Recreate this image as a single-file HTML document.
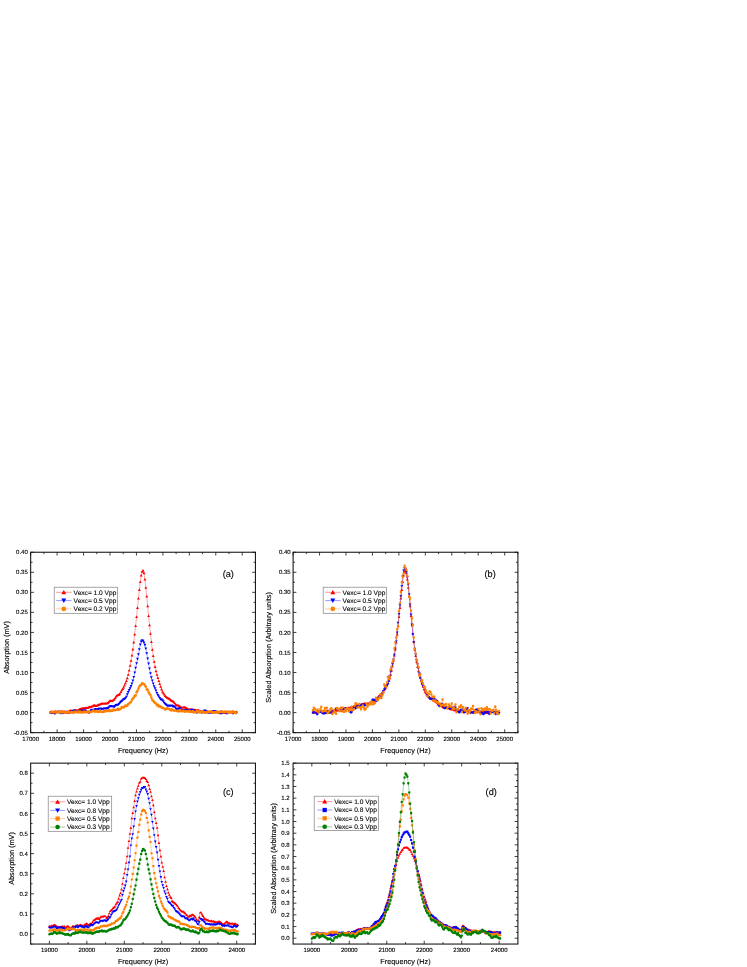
<!DOCTYPE html>
<html><head><meta charset="utf-8"><title>Absorption vs frequency</title>
<style>
html,body{margin:0;padding:0;background:#fff}
svg{display:block}
text{font-family:"Liberation Sans",sans-serif;fill:#000;text-rendering:geometricPrecision;stroke:#000;stroke-width:0.12px;paint-order:stroke fill}
svg{will-change:transform;-webkit-font-smoothing:antialiased}
.t{font-size:6px}
.a{font-size:7.3px}
.l{font-size:9.2px}
.g{font-size:6.6px}
</style></head><body>
<svg width="747" height="967" viewBox="0 0 747 967">
<rect width="747" height="967" fill="#fff"/>
<polyline points="50.49,712.23 51.41,712.54 52.34,712.6 53.26,712.34 54.19,711.66 55.11,711.27 56.04,711.62 56.96,711.77 57.89,711.39 58.82,711.22 59.74,711.48 60.67,711.69 61.59,711.42 62.52,711.34 63.44,711.81 64.37,712.23 65.3,712.57 66.22,712.6 67.15,712.28 68.07,711.73 69,711.24 69.92,710.64 70.85,710.45 71.78,710.98 72.7,711.47 73.63,710.94 74.55,710.2 75.48,710.12 76.4,710.41 77.33,710.36 78.25,710.07 79.18,709.48 80.11,708.9 81.03,708.79 81.96,708.49 82.88,708.17 83.81,708.23 84.73,708.13 85.66,707.9 86.59,707.93 87.51,707.9 88.44,707.28 89.36,706.86 90.29,706.96 91.21,706.63 92.14,706.33 93.07,705.86 93.99,705.15 94.92,705.31 95.84,705.83 96.77,705.56 97.69,705.02 98.62,704.73 99.54,704.45 100.47,704.11 101.4,703.59 102.32,703.36 103.25,703.63 104.17,703.65 105.1,703.47 106.02,703.36 106.95,703.33 107.88,702.85 108.8,701.86 109.73,700.86 110.65,700.65 111.58,700.96 112.5,700.61 113.43,699.86 114.35,699.16 115.28,697.75 116.21,696.23 117.13,695.26 118.06,694.87 118.98,694.53 119.91,693.61 120.83,691.96 121.76,690.21 122.69,688.94 123.61,687.37 124.54,685.26 125.46,683.09 126.39,680.83 127.31,678.11 128.24,674.56 129.17,670.31 130.09,665.51 131.02,660.61 131.94,655.34 132.87,649.22 133.79,642.22 134.72,634.27 135.64,625.81 136.57,616.95 137.5,607.73 138.42,598.35 139.35,589.75 140.27,581.95 141.2,575.46 142.12,571.51 143.05,570.45 143.98,573 144.9,579.38 145.83,587.58 146.75,596.42 147.68,605.97 148.6,615.87 149.53,625.18 150.46,633.68 151.38,641.87 152.31,649.5 153.23,655.94 154.16,661.61 155.08,666.75 156.01,671.06 156.93,674.7 157.86,677.75 158.79,680.79 159.71,683.83 160.64,686.63 161.56,689.25 162.49,691.63 163.41,693.18 164.34,694.4 165.27,695.78 166.19,696.76 167.12,697.68 168.04,698.2 168.97,698.63 169.89,699.06 170.82,699.99 171.75,700.88 172.67,701.04 173.6,701.6 174.52,702.95 175.45,704.16 176.37,704.92 177.3,705.28 178.22,705.38 179.15,705.92 180.08,706.6 181,707.25 181.93,707.7 182.85,707.67 183.78,707.25 184.7,707.23 185.63,707.51 186.56,708.15 187.48,708.82 188.41,709.16 189.33,709.26 190.26,709.33 191.18,709.59 192.11,710.07 193.03,710.43 193.96,710.05 194.89,709.61 195.81,710.14 196.74,710.5 197.66,710.09 198.59,710.07 199.51,710.82 200.44,711.29 201.37,711.59 202.29,711.6 203.22,711.07 204.14,710.89 205.07,711.16 205.99,711.38 206.92,711.38 207.85,711.58 208.77,711.97 209.7,712.32 210.62,712.08 211.55,711.5 212.47,711.5 213.4,711.67 214.32,711.9 215.25,712.14 216.18,712.1 217.1,711.92 218.03,712.04 218.95,712.09 219.88,711.77 220.8,711.37 221.73,711.46 222.66,712.05 223.58,712.75 224.51,712.81 225.43,712.09 226.36,711.78 227.28,711.98 228.21,711.94 229.14,711.72 230.06,711.68 230.99,711.92 231.91,712.19 232.84,712.34 233.76,712.63 234.69,712.41 235.61,712.01 236.54,711.56" fill="none" stroke="#ff0000" stroke-width="0.35"/>
<path d="M50.49 710.85L51.94 713.39L49.04 713.39ZM51.41 711.17L52.86 713.7L49.96 713.7ZM52.34 711.22L53.79 713.76L50.89 713.76ZM53.26 710.96L54.71 713.5L51.81 713.5ZM54.19 710.28L55.64 712.82L52.74 712.82ZM55.11 709.89L56.56 712.43L53.66 712.43ZM56.04 710.24L57.49 712.78L54.59 712.78ZM56.96 710.39L58.41 712.93L55.51 712.93ZM57.89 710.01L59.34 712.55L56.44 712.55ZM58.82 709.84L60.27 712.38L57.37 712.38ZM59.74 710.11L61.19 712.64L58.29 712.64ZM60.67 710.31L62.12 712.85L59.22 712.85ZM61.59 710.05L63.04 712.58L60.14 712.58ZM62.52 709.96L63.97 712.5L61.07 712.5ZM63.44 710.43L64.89 712.97L61.99 712.97ZM64.37 710.85L65.82 713.39L62.92 713.39ZM65.3 711.19L66.75 713.73L63.85 713.73ZM66.22 711.22L67.67 713.76L64.77 713.76ZM67.15 710.91L68.6 713.44L65.7 713.44ZM68.07 710.35L69.52 712.89L66.62 712.89ZM69 709.87L70.45 712.4L67.55 712.4ZM69.92 709.27L71.37 711.8L68.47 711.8ZM70.85 709.07L72.3 711.61L69.4 711.61ZM71.78 709.6L73.23 712.14L70.33 712.14ZM72.7 710.1L74.15 712.63L71.25 712.63ZM73.63 709.56L75.08 712.1L72.18 712.1ZM74.55 708.82L76 711.36L73.1 711.36ZM75.48 708.74L76.93 711.28L74.03 711.28ZM76.4 709.03L77.85 711.57L74.95 711.57ZM77.33 708.98L78.78 711.52L75.88 711.52ZM78.25 708.69L79.7 711.23L76.8 711.23ZM79.18 708.11L80.63 710.64L77.73 710.64ZM80.11 707.52L81.56 710.06L78.66 710.06ZM81.03 707.41L82.48 709.95L79.58 709.95ZM81.96 707.12L83.41 709.65L80.51 709.65ZM82.88 706.79L84.33 709.33L81.43 709.33ZM83.81 706.85L85.26 709.39L82.36 709.39ZM84.73 706.75L86.18 709.29L83.28 709.29ZM85.66 706.52L87.11 709.06L84.21 709.06ZM86.59 706.55L88.04 709.09L85.14 709.09ZM87.51 706.52L88.96 709.06L86.06 709.06ZM88.44 705.9L89.89 708.44L86.99 708.44ZM89.36 705.49L90.81 708.02L87.91 708.02ZM90.29 705.58L91.74 708.12L88.84 708.12ZM91.21 705.25L92.66 707.79L89.76 707.79ZM92.14 704.95L93.59 707.49L90.69 707.49ZM93.07 704.48L94.52 707.02L91.62 707.02ZM93.99 703.77L95.44 706.31L92.54 706.31ZM94.92 703.93L96.37 706.47L93.47 706.47ZM95.84 704.45L97.29 706.99L94.39 706.99ZM96.77 704.18L98.22 706.72L95.32 706.72ZM97.69 703.65L99.14 706.18L96.24 706.18ZM98.62 703.36L100.07 705.89L97.17 705.89ZM99.54 703.07L100.99 705.61L98.09 705.61ZM100.47 702.73L101.92 705.27L99.02 705.27ZM101.4 702.21L102.85 704.75L99.95 704.75ZM102.32 701.98L103.77 704.52L100.87 704.52ZM103.25 702.25L104.7 704.79L101.8 704.79ZM104.17 702.27L105.62 704.81L102.72 704.81ZM105.1 702.1L106.55 704.63L103.65 704.63ZM106.02 701.98L107.47 704.52L104.57 704.52ZM106.95 701.96L108.4 704.49L105.5 704.49ZM107.88 701.47L109.33 704.01L106.43 704.01ZM108.8 700.48L110.25 703.02L107.35 703.02ZM109.73 699.49L111.18 702.02L108.28 702.02ZM110.65 699.27L112.1 701.81L109.2 701.81ZM111.58 699.58L113.03 702.12L110.13 702.12ZM112.5 699.23L113.95 701.77L111.05 701.77ZM113.43 698.49L114.88 701.02L111.98 701.02ZM114.35 697.78L115.8 700.32L112.9 700.32ZM115.28 696.38L116.73 698.91L113.83 698.91ZM116.21 694.85L117.66 697.39L114.76 697.39ZM117.13 693.88L118.58 696.42L115.68 696.42ZM118.06 693.49L119.51 696.03L116.61 696.03ZM118.98 693.16L120.43 695.69L117.53 695.69ZM119.91 692.23L121.36 694.77L118.46 694.77ZM120.83 690.58L122.28 693.12L119.38 693.12ZM121.76 688.83L123.21 691.37L120.31 691.37ZM122.69 687.56L124.14 690.1L121.24 690.1ZM123.61 685.99L125.06 688.53L122.16 688.53ZM124.54 683.88L125.99 686.42L123.09 686.42ZM125.46 681.71L126.91 684.25L124.01 684.25ZM126.39 679.46L127.84 681.99L124.94 681.99ZM127.31 676.74L128.76 679.27L125.86 679.27ZM128.24 673.19L129.69 675.72L126.79 675.72ZM129.17 668.93L130.62 671.47L127.72 671.47ZM130.09 664.13L131.54 666.67L128.64 666.67ZM131.02 659.24L132.47 661.77L129.57 661.77ZM131.94 653.97L133.39 656.5L130.49 656.5ZM132.87 647.84L134.32 650.38L131.42 650.38ZM133.79 640.84L135.24 643.38L132.34 643.38ZM134.72 632.89L136.17 635.43L133.27 635.43ZM135.64 624.44L137.09 626.97L134.19 626.97ZM136.57 615.57L138.02 618.11L135.12 618.11ZM137.5 606.35L138.95 608.89L136.05 608.89ZM138.42 596.97L139.87 599.51L136.97 599.51ZM139.35 588.37L140.8 590.91L137.9 590.91ZM140.27 580.57L141.72 583.11L138.82 583.11ZM141.2 574.09L142.65 576.62L139.75 576.62ZM142.12 570.14L143.57 572.67L140.67 572.67ZM143.05 569.08L144.5 571.61L141.6 571.61ZM143.98 571.62L145.43 574.16L142.53 574.16ZM144.9 578L146.35 580.54L143.45 580.54ZM145.83 586.21L147.28 588.74L144.38 588.74ZM146.75 595.04L148.2 597.58L145.3 597.58ZM147.68 604.59L149.13 607.13L146.23 607.13ZM148.6 614.49L150.05 617.03L147.15 617.03ZM149.53 623.8L150.98 626.34L148.08 626.34ZM150.46 632.31L151.91 634.84L149.01 634.84ZM151.38 640.5L152.83 643.03L149.93 643.03ZM152.31 648.13L153.76 650.66L150.86 650.66ZM153.23 654.57L154.68 657.1L151.78 657.1ZM154.16 660.24L155.61 662.77L152.71 662.77ZM155.08 665.37L156.53 667.91L153.63 667.91ZM156.01 669.68L157.46 672.22L154.56 672.22ZM156.93 673.33L158.38 675.86L155.48 675.86ZM157.86 676.37L159.31 678.91L156.41 678.91ZM158.79 679.42L160.24 681.95L157.34 681.95ZM159.71 682.45L161.16 684.99L158.26 684.99ZM160.64 685.26L162.09 687.79L159.19 687.79ZM161.56 687.87L163.01 690.41L160.11 690.41ZM162.49 690.26L163.94 692.79L161.04 692.79ZM163.41 691.8L164.86 694.34L161.96 694.34ZM164.34 693.03L165.79 695.56L162.89 695.56ZM165.27 694.4L166.72 696.94L163.82 696.94ZM166.19 695.39L167.64 697.92L164.74 697.92ZM167.12 696.3L168.57 698.84L165.67 698.84ZM168.04 696.83L169.49 699.36L166.59 699.36ZM168.97 697.25L170.42 699.79L167.52 699.79ZM169.89 697.68L171.34 700.22L168.44 700.22ZM170.82 698.61L172.27 701.15L169.37 701.15ZM171.75 699.5L173.2 702.04L170.3 702.04ZM172.67 699.66L174.12 702.2L171.22 702.2ZM173.6 700.23L175.05 702.76L172.15 702.76ZM174.52 701.57L175.97 704.11L173.07 704.11ZM175.45 702.78L176.9 705.32L174 705.32ZM176.37 703.55L177.82 706.08L174.92 706.08ZM177.3 703.9L178.75 706.44L175.85 706.44ZM178.22 704.01L179.67 706.54L176.77 706.54ZM179.15 704.54L180.6 707.08L177.7 707.08ZM180.08 705.22L181.53 707.76L178.63 707.76ZM181 705.88L182.45 708.41L179.55 708.41ZM181.93 706.32L183.38 708.86L180.48 708.86ZM182.85 706.29L184.3 708.83L181.4 708.83ZM183.78 705.87L185.23 708.41L182.33 708.41ZM184.7 705.85L186.15 708.39L183.25 708.39ZM185.63 706.13L187.08 708.67L184.18 708.67ZM186.56 706.77L188.01 709.31L185.11 709.31ZM187.48 707.45L188.93 709.98L186.03 709.98ZM188.41 707.78L189.86 710.32L186.96 710.32ZM189.33 707.89L190.78 710.42L187.88 710.42ZM190.26 707.95L191.71 710.49L188.81 710.49ZM191.18 708.21L192.63 710.75L189.73 710.75ZM192.11 708.69L193.56 711.23L190.66 711.23ZM193.03 709.05L194.48 711.59L191.58 711.59ZM193.96 708.67L195.41 711.21L192.51 711.21ZM194.89 708.24L196.34 710.77L193.44 710.77ZM195.81 708.76L197.26 711.3L194.36 711.3ZM196.74 709.12L198.19 711.66L195.29 711.66ZM197.66 708.71L199.11 711.25L196.21 711.25ZM198.59 708.69L200.04 711.23L197.14 711.23ZM199.51 709.44L200.96 711.98L198.06 711.98ZM200.44 709.92L201.89 712.45L198.99 712.45ZM201.37 710.21L202.82 712.75L199.92 712.75ZM202.29 710.22L203.74 712.76L200.84 712.76ZM203.22 709.69L204.67 712.23L201.77 712.23ZM204.14 709.52L205.59 712.05L202.69 712.05ZM205.07 709.78L206.52 712.32L203.62 712.32ZM205.99 710L207.44 712.54L204.54 712.54ZM206.92 710L208.37 712.54L205.47 712.54ZM207.85 710.2L209.3 712.74L206.4 712.74ZM208.77 710.59L210.22 713.13L207.32 713.13ZM209.7 710.94L211.15 713.48L208.25 713.48ZM210.62 710.7L212.07 713.24L209.17 713.24ZM211.55 710.12L213 712.66L210.1 712.66ZM212.47 710.12L213.92 712.66L211.02 712.66ZM213.4 710.29L214.85 712.83L211.95 712.83ZM214.32 710.52L215.77 713.06L212.87 713.06ZM215.25 710.77L216.7 713.3L213.8 713.3ZM216.18 710.73L217.63 713.26L214.73 713.26ZM217.1 710.54L218.55 713.08L215.65 713.08ZM218.03 710.66L219.48 713.2L216.58 713.2ZM218.95 710.71L220.4 713.25L217.5 713.25ZM219.88 710.39L221.33 712.93L218.43 712.93ZM220.8 709.99L222.25 712.53L219.35 712.53ZM221.73 710.08L223.18 712.62L220.28 712.62ZM222.66 710.67L224.11 713.21L221.21 713.21ZM223.58 711.38L225.03 713.91L222.13 713.91ZM224.51 711.43L225.96 713.97L223.06 713.97ZM225.43 710.72L226.88 713.25L223.98 713.25ZM226.36 710.4L227.81 712.94L224.91 712.94ZM227.28 710.6L228.73 713.14L225.83 713.14ZM228.21 710.56L229.66 713.1L226.76 713.1ZM229.14 710.34L230.59 712.88L227.69 712.88ZM230.06 710.3L231.51 712.84L228.61 712.84ZM230.99 710.54L232.44 713.08L229.54 713.08ZM231.91 710.81L233.36 713.35L230.46 713.35ZM232.84 710.97L234.29 713.5L231.39 713.5ZM233.76 711.25L235.21 713.79L232.31 713.79ZM234.69 711.03L236.14 713.57L233.24 713.57ZM235.61 710.63L237.06 713.17L234.16 713.17ZM236.54 710.18L237.99 712.72L235.09 712.72Z" fill="#ff0000"/>
<polyline points="50.49,712.73 51.41,712.55 52.34,712.34 53.26,712.49 54.19,713.34 55.11,713.53 56.04,712.75 56.96,712.23 57.89,712.23 58.82,712.48 59.74,712.92 60.67,713.11 61.59,712.96 62.52,713.02 63.44,712.87 64.37,712.19 65.3,711.8 66.22,711.94 67.15,712.4 68.07,712.67 69,712.69 69.92,712.41 70.85,712.05 71.78,711.81 72.7,711.33 73.63,710.74 74.55,710.66 75.48,711.15 76.4,711.17 77.33,711.21 78.25,711.6 79.18,711.9 80.11,711.48 81.03,710.86 81.96,710.75 82.88,710.78 83.81,710.55 84.73,710.36 85.66,710.99 86.59,711.85 87.51,712.22 88.44,712.65 89.36,712.54 90.29,711.14 91.21,709.9 92.14,710.05 93.07,710.6 93.99,710.29 94.92,709.5 95.84,709.28 96.77,709.41 97.69,709.37 98.62,709.04 99.54,708.63 100.47,708.59 101.4,708.91 102.32,709.12 103.25,708.86 104.17,708.55 105.1,708.4 106.02,708.6 106.95,708.49 107.88,708.25 108.8,707.69 109.73,706.58 110.65,706.15 111.58,706.36 112.5,706.36 113.43,706.66 114.35,706.87 115.28,705.99 116.21,705.14 117.13,704.94 118.06,704.84 118.98,704.16 119.91,703.01 120.83,701.88 121.76,701.14 122.69,700.32 123.61,699.4 124.54,698.97 125.46,698.42 126.39,696.91 127.31,694.37 128.24,692.09 129.17,690.25 130.09,688.39 131.02,686.25 131.94,683.7 132.87,680.72 133.79,677.09 134.72,672.63 135.64,667.8 136.57,663.32 137.5,659.02 138.42,654.43 139.35,649.37 140.27,644.62 141.2,641.6 142.12,640.46 143.05,640.91 143.98,642.55 144.9,645 145.83,648.62 146.75,653.49 147.68,658.65 148.6,663.67 149.53,668.68 150.46,673.49 151.38,677.44 152.31,680.7 153.23,683.6 154.16,686.37 155.08,688.48 156.01,690.55 156.93,693.09 157.86,695.24 158.79,696.74 159.71,698.19 160.64,699.37 161.56,699.76 162.49,700.29 163.41,701.75 164.34,703.23 165.27,704.18 166.19,704.84 167.12,705.6 168.04,705.81 168.97,705.64 169.89,705.75 170.82,705.6 171.75,705.7 172.67,706.28 173.6,706.59 174.52,706.92 175.45,708 176.37,709.12 177.3,709.48 178.22,708.88 179.15,708.31 180.08,708.78 181,709.88 181.93,710.44 182.85,710.32 183.78,710.09 184.7,710.08 185.63,710.11 186.56,710.26 187.48,710.51 188.41,710.61 189.33,710.6 190.26,710.49 191.18,710.05 192.11,709.73 193.03,710.26 193.96,711.26 194.89,711.95 195.81,712.22 196.74,712.61 197.66,712.31 198.59,711.38 199.51,711.16 200.44,711.89 201.37,712.59 202.29,712.51 203.22,711.93 204.14,711 205.07,710.56 205.99,711.35 206.92,712.4 207.85,712.74 208.77,712.52 209.7,712.51 210.62,712.7 211.55,712.63 212.47,712.31 213.4,711.56 214.32,711.13 215.25,711.41 216.18,711.94 217.1,712.15 218.03,712.37 218.95,712.7 219.88,713.1 220.8,713.49 221.73,713.27 222.66,712.58 223.58,712.27 224.51,712.18 225.43,712.51 226.36,713.25 227.28,713.27 228.21,712.72 229.14,712.42 230.06,712.33 230.99,712.21 231.91,712.66 232.84,713.32 233.76,713.18 234.69,712.63 235.61,712.76 236.54,713" fill="none" stroke="#0000ff" stroke-width="0.35"/>
<path d="M50.49 714.11L51.94 711.57L49.04 711.57ZM51.41 713.93L52.86 711.39L49.96 711.39ZM52.34 713.72L53.79 711.18L50.89 711.18ZM53.26 713.87L54.71 711.33L51.81 711.33ZM54.19 714.71L55.64 712.18L52.74 712.18ZM55.11 714.91L56.56 712.37L53.66 712.37ZM56.04 714.13L57.49 711.59L54.59 711.59ZM56.96 713.61L58.41 711.07L55.51 711.07ZM57.89 713.61L59.34 711.07L56.44 711.07ZM58.82 713.85L60.27 711.32L57.37 711.32ZM59.74 714.3L61.19 711.76L58.29 711.76ZM60.67 714.49L62.12 711.95L59.22 711.95ZM61.59 714.34L63.04 711.8L60.14 711.8ZM62.52 714.4L63.97 711.86L61.07 711.86ZM63.44 714.25L64.89 711.71L61.99 711.71ZM64.37 713.57L65.82 711.03L62.92 711.03ZM65.3 713.17L66.75 710.64L63.85 710.64ZM66.22 713.32L67.67 710.78L64.77 710.78ZM67.15 713.78L68.6 711.24L65.7 711.24ZM68.07 714.05L69.52 711.51L66.62 711.51ZM69 714.06L70.45 711.53L67.55 711.53ZM69.92 713.79L71.37 711.25L68.47 711.25ZM70.85 713.42L72.3 710.89L69.4 710.89ZM71.78 713.19L73.23 710.65L70.33 710.65ZM72.7 712.7L74.15 710.17L71.25 710.17ZM73.63 712.12L75.08 709.58L72.18 709.58ZM74.55 712.03L76 709.5L73.1 709.5ZM75.48 712.53L76.93 709.99L74.03 709.99ZM76.4 712.54L77.85 710.01L74.95 710.01ZM77.33 712.58L78.78 710.05L75.88 710.05ZM78.25 712.98L79.7 710.44L76.8 710.44ZM79.18 713.28L80.63 710.74L77.73 710.74ZM80.11 712.85L81.56 710.32L78.66 710.32ZM81.03 712.24L82.48 709.7L79.58 709.7ZM81.96 712.13L83.41 709.59L80.51 709.59ZM82.88 712.16L84.33 709.62L81.43 709.62ZM83.81 711.92L85.26 709.39L82.36 709.39ZM84.73 711.74L86.18 709.2L83.28 709.2ZM85.66 712.37L87.11 709.83L84.21 709.83ZM86.59 713.23L88.04 710.69L85.14 710.69ZM87.51 713.59L88.96 711.06L86.06 711.06ZM88.44 714.03L89.89 711.49L86.99 711.49ZM89.36 713.92L90.81 711.38L87.91 711.38ZM90.29 712.52L91.74 709.98L88.84 709.98ZM91.21 711.28L92.66 708.74L89.76 708.74ZM92.14 711.43L93.59 708.89L90.69 708.89ZM93.07 711.97L94.52 709.44L91.62 709.44ZM93.99 711.67L95.44 709.13L92.54 709.13ZM94.92 710.87L96.37 708.34L93.47 708.34ZM95.84 710.66L97.29 708.12L94.39 708.12ZM96.77 710.78L98.22 708.25L95.32 708.25ZM97.69 710.75L99.14 708.21L96.24 708.21ZM98.62 710.42L100.07 707.88L97.17 707.88ZM99.54 710.01L100.99 707.47L98.09 707.47ZM100.47 709.96L101.92 707.43L99.02 707.43ZM101.4 710.29L102.85 707.75L99.95 707.75ZM102.32 710.5L103.77 707.96L100.87 707.96ZM103.25 710.24L104.7 707.7L101.8 707.7ZM104.17 709.93L105.62 707.39L102.72 707.39ZM105.1 709.78L106.55 707.24L103.65 707.24ZM106.02 709.97L107.47 707.44L104.57 707.44ZM106.95 709.87L108.4 707.33L105.5 707.33ZM107.88 709.63L109.33 707.09L106.43 707.09ZM108.8 709.07L110.25 706.53L107.35 706.53ZM109.73 707.96L111.18 705.42L108.28 705.42ZM110.65 707.53L112.1 704.99L109.2 704.99ZM111.58 707.74L113.03 705.2L110.13 705.2ZM112.5 707.74L113.95 705.2L111.05 705.2ZM113.43 708.04L114.88 705.5L111.98 705.5ZM114.35 708.25L115.8 705.71L112.9 705.71ZM115.28 707.37L116.73 704.83L113.83 704.83ZM116.21 706.52L117.66 703.98L114.76 703.98ZM117.13 706.32L118.58 703.78L115.68 703.78ZM118.06 706.22L119.51 703.68L116.61 703.68ZM118.98 705.54L120.43 703L117.53 703ZM119.91 704.39L121.36 701.85L118.46 701.85ZM120.83 703.26L122.28 700.72L119.38 700.72ZM121.76 702.51L123.21 699.98L120.31 699.98ZM122.69 701.69L124.14 699.16L121.24 699.16ZM123.61 700.77L125.06 698.24L122.16 698.24ZM124.54 700.35L125.99 697.81L123.09 697.81ZM125.46 699.79L126.91 697.26L124.01 697.26ZM126.39 698.29L127.84 695.75L124.94 695.75ZM127.31 695.74L128.76 693.21L125.86 693.21ZM128.24 693.47L129.69 690.93L126.79 690.93ZM129.17 691.63L130.62 689.09L127.72 689.09ZM130.09 689.77L131.54 687.23L128.64 687.23ZM131.02 687.63L132.47 685.09L129.57 685.09ZM131.94 685.08L133.39 682.54L130.49 682.54ZM132.87 682.1L134.32 679.56L131.42 679.56ZM133.79 678.46L135.24 675.93L132.34 675.93ZM134.72 674.01L136.17 671.47L133.27 671.47ZM135.64 669.18L137.09 666.64L134.19 666.64ZM136.57 664.7L138.02 662.16L135.12 662.16ZM137.5 660.4L138.95 657.86L136.05 657.86ZM138.42 655.81L139.87 653.27L136.97 653.27ZM139.35 650.75L140.8 648.21L137.9 648.21ZM140.27 645.99L141.72 643.46L138.82 643.46ZM141.2 642.97L142.65 640.44L139.75 640.44ZM142.12 641.84L143.57 639.3L140.67 639.3ZM143.05 642.29L144.5 639.75L141.6 639.75ZM143.98 643.93L145.43 641.39L142.53 641.39ZM144.9 646.38L146.35 643.84L143.45 643.84ZM145.83 650L147.28 647.46L144.38 647.46ZM146.75 654.87L148.2 652.33L145.3 652.33ZM147.68 660.03L149.13 657.49L146.23 657.49ZM148.6 665.05L150.05 662.51L147.15 662.51ZM149.53 670.05L150.98 667.52L148.08 667.52ZM150.46 674.87L151.91 672.33L149.01 672.33ZM151.38 678.81L152.83 676.28L149.93 676.28ZM152.31 682.08L153.76 679.54L150.86 679.54ZM153.23 684.98L154.68 682.44L151.78 682.44ZM154.16 687.74L155.61 685.21L152.71 685.21ZM155.08 689.86L156.53 687.32L153.63 687.32ZM156.01 691.92L157.46 689.39L154.56 689.39ZM156.93 694.46L158.38 691.93L155.48 691.93ZM157.86 696.62L159.31 694.08L156.41 694.08ZM158.79 698.11L160.24 695.58L157.34 695.58ZM159.71 699.57L161.16 697.03L158.26 697.03ZM160.64 700.75L162.09 698.21L159.19 698.21ZM161.56 701.14L163.01 698.6L160.11 698.6ZM162.49 701.67L163.94 699.13L161.04 699.13ZM163.41 703.13L164.86 700.59L161.96 700.59ZM164.34 704.61L165.79 702.07L162.89 702.07ZM165.27 705.55L166.72 703.02L163.82 703.02ZM166.19 706.21L167.64 703.68L164.74 703.68ZM167.12 706.97L168.57 704.44L165.67 704.44ZM168.04 707.19L169.49 704.65L166.59 704.65ZM168.97 707.01L170.42 704.48L167.52 704.48ZM169.89 707.13L171.34 704.59L168.44 704.59ZM170.82 706.98L172.27 704.44L169.37 704.44ZM171.75 707.07L173.2 704.54L170.3 704.54ZM172.67 707.65L174.12 705.12L171.22 705.12ZM173.6 707.97L175.05 705.43L172.15 705.43ZM174.52 708.3L175.97 705.76L173.07 705.76ZM175.45 709.37L176.9 706.84L174 706.84ZM176.37 710.5L177.82 707.96L174.92 707.96ZM177.3 710.85L178.75 708.32L175.85 708.32ZM178.22 710.26L179.67 707.72L176.77 707.72ZM179.15 709.68L180.6 707.15L177.7 707.15ZM180.08 710.16L181.53 707.62L178.63 707.62ZM181 711.26L182.45 708.72L179.55 708.72ZM181.93 711.82L183.38 709.28L180.48 709.28ZM182.85 711.7L184.3 709.16L181.4 709.16ZM183.78 711.47L185.23 708.93L182.33 708.93ZM184.7 711.46L186.15 708.92L183.25 708.92ZM185.63 711.49L187.08 708.95L184.18 708.95ZM186.56 711.64L188.01 709.1L185.11 709.1ZM187.48 711.89L188.93 709.35L186.03 709.35ZM188.41 711.99L189.86 709.45L186.96 709.45ZM189.33 711.98L190.78 709.44L187.88 709.44ZM190.26 711.87L191.71 709.33L188.81 709.33ZM191.18 711.43L192.63 708.89L189.73 708.89ZM192.11 711.11L193.56 708.57L190.66 708.57ZM193.03 711.64L194.48 709.1L191.58 709.1ZM193.96 712.63L195.41 710.1L192.51 710.1ZM194.89 713.33L196.34 710.79L193.44 710.79ZM195.81 713.59L197.26 711.06L194.36 711.06ZM196.74 713.99L198.19 711.45L195.29 711.45ZM197.66 713.69L199.11 711.15L196.21 711.15ZM198.59 712.75L200.04 710.22L197.14 710.22ZM199.51 712.54L200.96 710L198.06 710ZM200.44 713.27L201.89 710.73L198.99 710.73ZM201.37 713.96L202.82 711.43L199.92 711.43ZM202.29 713.89L203.74 711.35L200.84 711.35ZM203.22 713.3L204.67 710.77L201.77 710.77ZM204.14 712.38L205.59 709.84L202.69 709.84ZM205.07 711.94L206.52 709.4L203.62 709.4ZM205.99 712.73L207.44 710.19L204.54 710.19ZM206.92 713.78L208.37 711.24L205.47 711.24ZM207.85 714.11L209.3 711.58L206.4 711.58ZM208.77 713.89L210.22 711.36L207.32 711.36ZM209.7 713.89L211.15 711.35L208.25 711.35ZM210.62 714.07L212.07 711.54L209.17 711.54ZM211.55 714.01L213 711.47L210.1 711.47ZM212.47 713.69L213.92 711.15L211.02 711.15ZM213.4 712.93L214.85 710.4L211.95 710.4ZM214.32 712.51L215.77 709.97L212.87 709.97ZM215.25 712.78L216.7 710.25L213.8 710.25ZM216.18 713.31L217.63 710.78L214.73 710.78ZM217.1 713.53L218.55 710.99L215.65 710.99ZM218.03 713.75L219.48 711.21L216.58 711.21ZM218.95 714.07L220.4 711.54L217.5 711.54ZM219.88 714.48L221.33 711.94L218.43 711.94ZM220.8 714.87L222.25 712.33L219.35 712.33ZM221.73 714.65L223.18 712.11L220.28 712.11ZM222.66 713.96L224.11 711.42L221.21 711.42ZM223.58 713.65L225.03 711.11L222.13 711.11ZM224.51 713.56L225.96 711.02L223.06 711.02ZM225.43 713.89L226.88 711.35L223.98 711.35ZM226.36 714.63L227.81 712.09L224.91 712.09ZM227.28 714.65L228.73 712.11L225.83 712.11ZM228.21 714.09L229.66 711.56L226.76 711.56ZM229.14 713.8L230.59 711.26L227.69 711.26ZM230.06 713.71L231.51 711.17L228.61 711.17ZM230.99 713.59L232.44 711.05L229.54 711.05ZM231.91 714.04L233.36 711.5L230.46 711.5ZM232.84 714.7L234.29 712.16L231.39 712.16ZM233.76 714.56L235.21 712.02L232.31 712.02ZM234.69 714.01L236.14 711.47L233.24 711.47ZM235.61 714.14L237.06 711.6L234.16 711.6ZM236.54 714.38L237.99 711.84L235.09 711.84Z" fill="#0000ff"/>
<polyline points="50.49,712.08 51.41,711.63 52.34,711.87 53.26,712.23 54.19,712.23 55.11,712.01 56.04,712.59 56.96,712.36 57.89,711.94 58.82,711.46 59.74,712.39 60.67,712.33 61.59,712.22 62.52,711.7 63.44,712.3 64.37,711.63 65.3,712.7 66.22,712.34 67.15,712.34 68.07,711.89 69,711.77 69.92,712.89 70.85,712.61 71.78,712.05 72.7,712.48 73.63,712.84 74.55,711.7 75.48,711.93 76.4,711.92 77.33,712.33 78.25,711.65 79.18,712.19 80.11,711.59 81.03,712.45 81.96,712.41 82.88,711.93 83.81,712.31 84.73,711.68 85.66,711.84 86.59,712.34 87.51,711.87 88.44,712.04 89.36,711.45 90.29,712.11 91.21,711.99 92.14,711.23 93.07,710.75 93.99,710.82 94.92,711.64 95.84,711.53 96.77,710.91 97.69,711.6 98.62,711.93 99.54,711.4 100.47,711.2 101.4,711.71 102.32,712.01 103.25,711.85 104.17,710.86 105.1,711.42 106.02,711.07 106.95,710.83 107.88,710.57 108.8,710.89 109.73,710.42 110.65,710.93 111.58,710.57 112.5,710.74 113.43,709.65 114.35,710.01 115.28,710.16 116.21,709.8 117.13,709.55 118.06,708.92 118.98,709.7 119.91,709.19 120.83,708.61 121.76,707 122.69,707.34 123.61,707.41 124.54,706.6 125.46,705.5 126.39,705.95 127.31,705.38 128.24,703.97 129.17,703.48 130.09,702.5 131.02,701.99 131.94,699.76 132.87,698.55 133.79,697.6 134.72,695.94 135.64,695.38 136.57,692.32 137.5,690.73 138.42,688.49 139.35,686.54 140.27,685.41 141.2,684.81 142.12,683.25 143.05,683.7 143.98,684.08 144.9,685.32 145.83,686.74 146.75,689.42 147.68,689.81 148.6,692.2 149.53,693.71 150.46,695.11 151.38,697.6 152.31,699.88 153.23,700.8 154.16,702.11 155.08,702.84 156.01,703.51 156.93,705.24 157.86,704.93 158.79,706.39 159.71,706.16 160.64,706.85 161.56,707.39 162.49,707.69 163.41,708.25 164.34,708.61 165.27,709.38 166.19,708.91 167.12,708.32 168.04,708.48 168.97,708.97 169.89,709.42 170.82,710.2 171.75,709.42 172.67,710.22 173.6,710.35 174.52,710.56 175.45,710.5 176.37,710.84 177.3,710.77 178.22,711.3 179.15,711.07 180.08,709.97 181,711.08 181.93,711.22 182.85,710.94 183.78,710.92 184.7,711.77 185.63,711.42 186.56,710.97 187.48,711.3 188.41,711.41 189.33,710.81 190.26,711.84 191.18,711.53 192.11,711.83 193.03,710.98 193.96,712.52 194.89,711.98 195.81,711.95 196.74,711.45 197.66,711.49 198.59,711.17 199.51,712.5 200.44,711.49 201.37,711.97 202.29,712.15 203.22,711.64 204.14,712.3 205.07,712.82 205.99,712.09 206.92,712.6 207.85,712.24 208.77,711.8 209.7,711.84 210.62,711.29 211.55,712.08 212.47,712.68 213.4,712.35 214.32,712.43 215.25,712.57 216.18,711.85 217.1,712.33 218.03,712.93 218.95,711.76 219.88,712.12 220.8,711.92 221.73,712.04 222.66,711.81 223.58,712.08 224.51,711.56 225.43,711.92 226.36,711.94 227.28,711.94 228.21,712.76 229.14,712.2 230.06,712.25 230.99,712.04 231.91,712.74 232.84,711.42 233.76,712.1 234.69,712.68 235.61,712.9 236.54,712.28" fill="none" stroke="#ff8000" stroke-width="0.35"/>
<path d="M49.15 712.08a1.33 1.33 0 1 0 2.67 0a1.33 1.33 0 1 0 -2.67 0ZM50.08 711.63a1.33 1.33 0 1 0 2.67 0a1.33 1.33 0 1 0 -2.67 0ZM51 711.87a1.33 1.33 0 1 0 2.67 0a1.33 1.33 0 1 0 -2.67 0ZM51.93 712.23a1.33 1.33 0 1 0 2.67 0a1.33 1.33 0 1 0 -2.67 0ZM52.85 712.23a1.33 1.33 0 1 0 2.67 0a1.33 1.33 0 1 0 -2.67 0ZM53.78 712.01a1.33 1.33 0 1 0 2.67 0a1.33 1.33 0 1 0 -2.67 0ZM54.71 712.59a1.33 1.33 0 1 0 2.67 0a1.33 1.33 0 1 0 -2.67 0ZM55.63 712.36a1.33 1.33 0 1 0 2.67 0a1.33 1.33 0 1 0 -2.67 0ZM56.56 711.94a1.33 1.33 0 1 0 2.67 0a1.33 1.33 0 1 0 -2.67 0ZM57.48 711.46a1.33 1.33 0 1 0 2.67 0a1.33 1.33 0 1 0 -2.67 0ZM58.41 712.39a1.33 1.33 0 1 0 2.67 0a1.33 1.33 0 1 0 -2.67 0ZM59.33 712.33a1.33 1.33 0 1 0 2.67 0a1.33 1.33 0 1 0 -2.67 0ZM60.26 712.22a1.33 1.33 0 1 0 2.67 0a1.33 1.33 0 1 0 -2.67 0ZM61.18 711.7a1.33 1.33 0 1 0 2.67 0a1.33 1.33 0 1 0 -2.67 0ZM62.11 712.3a1.33 1.33 0 1 0 2.67 0a1.33 1.33 0 1 0 -2.67 0ZM63.04 711.63a1.33 1.33 0 1 0 2.67 0a1.33 1.33 0 1 0 -2.67 0ZM63.96 712.7a1.33 1.33 0 1 0 2.67 0a1.33 1.33 0 1 0 -2.67 0ZM64.89 712.34a1.33 1.33 0 1 0 2.67 0a1.33 1.33 0 1 0 -2.67 0ZM65.81 712.34a1.33 1.33 0 1 0 2.67 0a1.33 1.33 0 1 0 -2.67 0ZM66.74 711.89a1.33 1.33 0 1 0 2.67 0a1.33 1.33 0 1 0 -2.67 0ZM67.66 711.77a1.33 1.33 0 1 0 2.67 0a1.33 1.33 0 1 0 -2.67 0ZM68.59 712.89a1.33 1.33 0 1 0 2.67 0a1.33 1.33 0 1 0 -2.67 0ZM69.52 712.61a1.33 1.33 0 1 0 2.67 0a1.33 1.33 0 1 0 -2.67 0ZM70.44 712.05a1.33 1.33 0 1 0 2.67 0a1.33 1.33 0 1 0 -2.67 0ZM71.37 712.48a1.33 1.33 0 1 0 2.67 0a1.33 1.33 0 1 0 -2.67 0ZM72.29 712.84a1.33 1.33 0 1 0 2.67 0a1.33 1.33 0 1 0 -2.67 0ZM73.22 711.7a1.33 1.33 0 1 0 2.67 0a1.33 1.33 0 1 0 -2.67 0ZM74.14 711.93a1.33 1.33 0 1 0 2.67 0a1.33 1.33 0 1 0 -2.67 0ZM75.07 711.92a1.33 1.33 0 1 0 2.67 0a1.33 1.33 0 1 0 -2.67 0ZM76 712.33a1.33 1.33 0 1 0 2.67 0a1.33 1.33 0 1 0 -2.67 0ZM76.92 711.65a1.33 1.33 0 1 0 2.67 0a1.33 1.33 0 1 0 -2.67 0ZM77.85 712.19a1.33 1.33 0 1 0 2.67 0a1.33 1.33 0 1 0 -2.67 0ZM78.77 711.59a1.33 1.33 0 1 0 2.67 0a1.33 1.33 0 1 0 -2.67 0ZM79.7 712.45a1.33 1.33 0 1 0 2.67 0a1.33 1.33 0 1 0 -2.67 0ZM80.62 712.41a1.33 1.33 0 1 0 2.67 0a1.33 1.33 0 1 0 -2.67 0ZM81.55 711.93a1.33 1.33 0 1 0 2.67 0a1.33 1.33 0 1 0 -2.67 0ZM82.47 712.31a1.33 1.33 0 1 0 2.67 0a1.33 1.33 0 1 0 -2.67 0ZM83.4 711.68a1.33 1.33 0 1 0 2.67 0a1.33 1.33 0 1 0 -2.67 0ZM84.33 711.84a1.33 1.33 0 1 0 2.67 0a1.33 1.33 0 1 0 -2.67 0ZM85.25 712.34a1.33 1.33 0 1 0 2.67 0a1.33 1.33 0 1 0 -2.67 0ZM86.18 711.87a1.33 1.33 0 1 0 2.67 0a1.33 1.33 0 1 0 -2.67 0ZM87.1 712.04a1.33 1.33 0 1 0 2.67 0a1.33 1.33 0 1 0 -2.67 0ZM88.03 711.45a1.33 1.33 0 1 0 2.67 0a1.33 1.33 0 1 0 -2.67 0ZM88.95 712.11a1.33 1.33 0 1 0 2.67 0a1.33 1.33 0 1 0 -2.67 0ZM89.88 711.99a1.33 1.33 0 1 0 2.67 0a1.33 1.33 0 1 0 -2.67 0ZM90.81 711.23a1.33 1.33 0 1 0 2.67 0a1.33 1.33 0 1 0 -2.67 0ZM91.73 710.75a1.33 1.33 0 1 0 2.67 0a1.33 1.33 0 1 0 -2.67 0ZM92.66 710.82a1.33 1.33 0 1 0 2.67 0a1.33 1.33 0 1 0 -2.67 0ZM93.58 711.64a1.33 1.33 0 1 0 2.67 0a1.33 1.33 0 1 0 -2.67 0ZM94.51 711.53a1.33 1.33 0 1 0 2.67 0a1.33 1.33 0 1 0 -2.67 0ZM95.43 710.91a1.33 1.33 0 1 0 2.67 0a1.33 1.33 0 1 0 -2.67 0ZM96.36 711.6a1.33 1.33 0 1 0 2.67 0a1.33 1.33 0 1 0 -2.67 0ZM97.28 711.93a1.33 1.33 0 1 0 2.67 0a1.33 1.33 0 1 0 -2.67 0ZM98.21 711.4a1.33 1.33 0 1 0 2.67 0a1.33 1.33 0 1 0 -2.67 0ZM99.14 711.2a1.33 1.33 0 1 0 2.67 0a1.33 1.33 0 1 0 -2.67 0ZM100.06 711.71a1.33 1.33 0 1 0 2.67 0a1.33 1.33 0 1 0 -2.67 0ZM100.99 712.01a1.33 1.33 0 1 0 2.67 0a1.33 1.33 0 1 0 -2.67 0ZM101.91 711.85a1.33 1.33 0 1 0 2.67 0a1.33 1.33 0 1 0 -2.67 0ZM102.84 710.86a1.33 1.33 0 1 0 2.67 0a1.33 1.33 0 1 0 -2.67 0ZM103.76 711.42a1.33 1.33 0 1 0 2.67 0a1.33 1.33 0 1 0 -2.67 0ZM104.69 711.07a1.33 1.33 0 1 0 2.67 0a1.33 1.33 0 1 0 -2.67 0ZM105.62 710.83a1.33 1.33 0 1 0 2.67 0a1.33 1.33 0 1 0 -2.67 0ZM106.54 710.57a1.33 1.33 0 1 0 2.67 0a1.33 1.33 0 1 0 -2.67 0ZM107.47 710.89a1.33 1.33 0 1 0 2.67 0a1.33 1.33 0 1 0 -2.67 0ZM108.39 710.42a1.33 1.33 0 1 0 2.67 0a1.33 1.33 0 1 0 -2.67 0ZM109.32 710.93a1.33 1.33 0 1 0 2.67 0a1.33 1.33 0 1 0 -2.67 0ZM110.24 710.57a1.33 1.33 0 1 0 2.67 0a1.33 1.33 0 1 0 -2.67 0ZM111.17 710.74a1.33 1.33 0 1 0 2.67 0a1.33 1.33 0 1 0 -2.67 0ZM112.1 709.65a1.33 1.33 0 1 0 2.67 0a1.33 1.33 0 1 0 -2.67 0ZM113.02 710.01a1.33 1.33 0 1 0 2.67 0a1.33 1.33 0 1 0 -2.67 0ZM113.95 710.16a1.33 1.33 0 1 0 2.67 0a1.33 1.33 0 1 0 -2.67 0ZM114.87 709.8a1.33 1.33 0 1 0 2.67 0a1.33 1.33 0 1 0 -2.67 0ZM115.8 709.55a1.33 1.33 0 1 0 2.67 0a1.33 1.33 0 1 0 -2.67 0ZM116.72 708.92a1.33 1.33 0 1 0 2.67 0a1.33 1.33 0 1 0 -2.67 0ZM117.65 709.7a1.33 1.33 0 1 0 2.67 0a1.33 1.33 0 1 0 -2.67 0ZM118.57 709.19a1.33 1.33 0 1 0 2.67 0a1.33 1.33 0 1 0 -2.67 0ZM119.5 708.61a1.33 1.33 0 1 0 2.67 0a1.33 1.33 0 1 0 -2.67 0ZM120.43 707a1.33 1.33 0 1 0 2.67 0a1.33 1.33 0 1 0 -2.67 0ZM121.35 707.34a1.33 1.33 0 1 0 2.67 0a1.33 1.33 0 1 0 -2.67 0ZM122.28 707.41a1.33 1.33 0 1 0 2.67 0a1.33 1.33 0 1 0 -2.67 0ZM123.2 706.6a1.33 1.33 0 1 0 2.67 0a1.33 1.33 0 1 0 -2.67 0ZM124.13 705.5a1.33 1.33 0 1 0 2.67 0a1.33 1.33 0 1 0 -2.67 0ZM125.05 705.95a1.33 1.33 0 1 0 2.67 0a1.33 1.33 0 1 0 -2.67 0ZM125.98 705.38a1.33 1.33 0 1 0 2.67 0a1.33 1.33 0 1 0 -2.67 0ZM126.91 703.97a1.33 1.33 0 1 0 2.67 0a1.33 1.33 0 1 0 -2.67 0ZM127.83 703.48a1.33 1.33 0 1 0 2.67 0a1.33 1.33 0 1 0 -2.67 0ZM128.76 702.5a1.33 1.33 0 1 0 2.67 0a1.33 1.33 0 1 0 -2.67 0ZM129.68 701.99a1.33 1.33 0 1 0 2.67 0a1.33 1.33 0 1 0 -2.67 0ZM130.61 699.76a1.33 1.33 0 1 0 2.67 0a1.33 1.33 0 1 0 -2.67 0ZM131.53 698.55a1.33 1.33 0 1 0 2.67 0a1.33 1.33 0 1 0 -2.67 0ZM132.46 697.6a1.33 1.33 0 1 0 2.67 0a1.33 1.33 0 1 0 -2.67 0ZM133.39 695.94a1.33 1.33 0 1 0 2.67 0a1.33 1.33 0 1 0 -2.67 0ZM134.31 695.38a1.33 1.33 0 1 0 2.67 0a1.33 1.33 0 1 0 -2.67 0ZM135.24 692.32a1.33 1.33 0 1 0 2.67 0a1.33 1.33 0 1 0 -2.67 0ZM136.16 690.73a1.33 1.33 0 1 0 2.67 0a1.33 1.33 0 1 0 -2.67 0ZM137.09 688.49a1.33 1.33 0 1 0 2.67 0a1.33 1.33 0 1 0 -2.67 0ZM138.01 686.54a1.33 1.33 0 1 0 2.67 0a1.33 1.33 0 1 0 -2.67 0ZM138.94 685.41a1.33 1.33 0 1 0 2.67 0a1.33 1.33 0 1 0 -2.67 0ZM139.86 684.81a1.33 1.33 0 1 0 2.67 0a1.33 1.33 0 1 0 -2.67 0ZM140.79 683.25a1.33 1.33 0 1 0 2.67 0a1.33 1.33 0 1 0 -2.67 0ZM141.72 683.7a1.33 1.33 0 1 0 2.67 0a1.33 1.33 0 1 0 -2.67 0ZM142.64 684.08a1.33 1.33 0 1 0 2.67 0a1.33 1.33 0 1 0 -2.67 0ZM143.57 685.32a1.33 1.33 0 1 0 2.67 0a1.33 1.33 0 1 0 -2.67 0ZM144.49 686.74a1.33 1.33 0 1 0 2.67 0a1.33 1.33 0 1 0 -2.67 0ZM145.42 689.42a1.33 1.33 0 1 0 2.67 0a1.33 1.33 0 1 0 -2.67 0ZM146.34 689.81a1.33 1.33 0 1 0 2.67 0a1.33 1.33 0 1 0 -2.67 0ZM147.27 692.2a1.33 1.33 0 1 0 2.67 0a1.33 1.33 0 1 0 -2.67 0ZM148.2 693.71a1.33 1.33 0 1 0 2.67 0a1.33 1.33 0 1 0 -2.67 0ZM149.12 695.11a1.33 1.33 0 1 0 2.67 0a1.33 1.33 0 1 0 -2.67 0ZM150.05 697.6a1.33 1.33 0 1 0 2.67 0a1.33 1.33 0 1 0 -2.67 0ZM150.97 699.88a1.33 1.33 0 1 0 2.67 0a1.33 1.33 0 1 0 -2.67 0ZM151.9 700.8a1.33 1.33 0 1 0 2.67 0a1.33 1.33 0 1 0 -2.67 0ZM152.82 702.11a1.33 1.33 0 1 0 2.67 0a1.33 1.33 0 1 0 -2.67 0ZM153.75 702.84a1.33 1.33 0 1 0 2.67 0a1.33 1.33 0 1 0 -2.67 0ZM154.68 703.51a1.33 1.33 0 1 0 2.67 0a1.33 1.33 0 1 0 -2.67 0ZM155.6 705.24a1.33 1.33 0 1 0 2.67 0a1.33 1.33 0 1 0 -2.67 0ZM156.53 704.93a1.33 1.33 0 1 0 2.67 0a1.33 1.33 0 1 0 -2.67 0ZM157.45 706.39a1.33 1.33 0 1 0 2.67 0a1.33 1.33 0 1 0 -2.67 0ZM158.38 706.16a1.33 1.33 0 1 0 2.67 0a1.33 1.33 0 1 0 -2.67 0ZM159.3 706.85a1.33 1.33 0 1 0 2.67 0a1.33 1.33 0 1 0 -2.67 0ZM160.23 707.39a1.33 1.33 0 1 0 2.67 0a1.33 1.33 0 1 0 -2.67 0ZM161.15 707.69a1.33 1.33 0 1 0 2.67 0a1.33 1.33 0 1 0 -2.67 0ZM162.08 708.25a1.33 1.33 0 1 0 2.67 0a1.33 1.33 0 1 0 -2.67 0ZM163.01 708.61a1.33 1.33 0 1 0 2.67 0a1.33 1.33 0 1 0 -2.67 0ZM163.93 709.38a1.33 1.33 0 1 0 2.67 0a1.33 1.33 0 1 0 -2.67 0ZM164.86 708.91a1.33 1.33 0 1 0 2.67 0a1.33 1.33 0 1 0 -2.67 0ZM165.78 708.32a1.33 1.33 0 1 0 2.67 0a1.33 1.33 0 1 0 -2.67 0ZM166.71 708.48a1.33 1.33 0 1 0 2.67 0a1.33 1.33 0 1 0 -2.67 0ZM167.63 708.97a1.33 1.33 0 1 0 2.67 0a1.33 1.33 0 1 0 -2.67 0ZM168.56 709.42a1.33 1.33 0 1 0 2.67 0a1.33 1.33 0 1 0 -2.67 0ZM169.49 710.2a1.33 1.33 0 1 0 2.67 0a1.33 1.33 0 1 0 -2.67 0ZM170.41 709.42a1.33 1.33 0 1 0 2.67 0a1.33 1.33 0 1 0 -2.67 0ZM171.34 710.22a1.33 1.33 0 1 0 2.67 0a1.33 1.33 0 1 0 -2.67 0ZM172.26 710.35a1.33 1.33 0 1 0 2.67 0a1.33 1.33 0 1 0 -2.67 0ZM173.19 710.56a1.33 1.33 0 1 0 2.67 0a1.33 1.33 0 1 0 -2.67 0ZM174.11 710.5a1.33 1.33 0 1 0 2.67 0a1.33 1.33 0 1 0 -2.67 0ZM175.04 710.84a1.33 1.33 0 1 0 2.67 0a1.33 1.33 0 1 0 -2.67 0ZM175.96 710.77a1.33 1.33 0 1 0 2.67 0a1.33 1.33 0 1 0 -2.67 0ZM176.89 711.3a1.33 1.33 0 1 0 2.67 0a1.33 1.33 0 1 0 -2.67 0ZM177.82 711.07a1.33 1.33 0 1 0 2.67 0a1.33 1.33 0 1 0 -2.67 0ZM178.74 709.97a1.33 1.33 0 1 0 2.67 0a1.33 1.33 0 1 0 -2.67 0ZM179.67 711.08a1.33 1.33 0 1 0 2.67 0a1.33 1.33 0 1 0 -2.67 0ZM180.59 711.22a1.33 1.33 0 1 0 2.67 0a1.33 1.33 0 1 0 -2.67 0ZM181.52 710.94a1.33 1.33 0 1 0 2.67 0a1.33 1.33 0 1 0 -2.67 0ZM182.44 710.92a1.33 1.33 0 1 0 2.67 0a1.33 1.33 0 1 0 -2.67 0ZM183.37 711.77a1.33 1.33 0 1 0 2.67 0a1.33 1.33 0 1 0 -2.67 0ZM184.3 711.42a1.33 1.33 0 1 0 2.67 0a1.33 1.33 0 1 0 -2.67 0ZM185.22 710.97a1.33 1.33 0 1 0 2.67 0a1.33 1.33 0 1 0 -2.67 0ZM186.15 711.3a1.33 1.33 0 1 0 2.67 0a1.33 1.33 0 1 0 -2.67 0ZM187.07 711.41a1.33 1.33 0 1 0 2.67 0a1.33 1.33 0 1 0 -2.67 0ZM188 710.81a1.33 1.33 0 1 0 2.67 0a1.33 1.33 0 1 0 -2.67 0ZM188.92 711.84a1.33 1.33 0 1 0 2.67 0a1.33 1.33 0 1 0 -2.67 0ZM189.85 711.53a1.33 1.33 0 1 0 2.67 0a1.33 1.33 0 1 0 -2.67 0ZM190.78 711.83a1.33 1.33 0 1 0 2.67 0a1.33 1.33 0 1 0 -2.67 0ZM191.7 710.98a1.33 1.33 0 1 0 2.67 0a1.33 1.33 0 1 0 -2.67 0ZM192.63 712.52a1.33 1.33 0 1 0 2.67 0a1.33 1.33 0 1 0 -2.67 0ZM193.55 711.98a1.33 1.33 0 1 0 2.67 0a1.33 1.33 0 1 0 -2.67 0ZM194.48 711.95a1.33 1.33 0 1 0 2.67 0a1.33 1.33 0 1 0 -2.67 0ZM195.4 711.45a1.33 1.33 0 1 0 2.67 0a1.33 1.33 0 1 0 -2.67 0ZM196.33 711.49a1.33 1.33 0 1 0 2.67 0a1.33 1.33 0 1 0 -2.67 0ZM197.25 711.17a1.33 1.33 0 1 0 2.67 0a1.33 1.33 0 1 0 -2.67 0ZM198.18 712.5a1.33 1.33 0 1 0 2.67 0a1.33 1.33 0 1 0 -2.67 0ZM199.11 711.49a1.33 1.33 0 1 0 2.67 0a1.33 1.33 0 1 0 -2.67 0ZM200.03 711.97a1.33 1.33 0 1 0 2.67 0a1.33 1.33 0 1 0 -2.67 0ZM200.96 712.15a1.33 1.33 0 1 0 2.67 0a1.33 1.33 0 1 0 -2.67 0ZM201.88 711.64a1.33 1.33 0 1 0 2.67 0a1.33 1.33 0 1 0 -2.67 0ZM202.81 712.3a1.33 1.33 0 1 0 2.67 0a1.33 1.33 0 1 0 -2.67 0ZM203.73 712.82a1.33 1.33 0 1 0 2.67 0a1.33 1.33 0 1 0 -2.67 0ZM204.66 712.09a1.33 1.33 0 1 0 2.67 0a1.33 1.33 0 1 0 -2.67 0ZM205.59 712.6a1.33 1.33 0 1 0 2.67 0a1.33 1.33 0 1 0 -2.67 0ZM206.51 712.24a1.33 1.33 0 1 0 2.67 0a1.33 1.33 0 1 0 -2.67 0ZM207.44 711.8a1.33 1.33 0 1 0 2.67 0a1.33 1.33 0 1 0 -2.67 0ZM208.36 711.84a1.33 1.33 0 1 0 2.67 0a1.33 1.33 0 1 0 -2.67 0ZM209.29 711.29a1.33 1.33 0 1 0 2.67 0a1.33 1.33 0 1 0 -2.67 0ZM210.21 712.08a1.33 1.33 0 1 0 2.67 0a1.33 1.33 0 1 0 -2.67 0ZM211.14 712.68a1.33 1.33 0 1 0 2.67 0a1.33 1.33 0 1 0 -2.67 0ZM212.07 712.35a1.33 1.33 0 1 0 2.67 0a1.33 1.33 0 1 0 -2.67 0ZM212.99 712.43a1.33 1.33 0 1 0 2.67 0a1.33 1.33 0 1 0 -2.67 0ZM213.92 712.57a1.33 1.33 0 1 0 2.67 0a1.33 1.33 0 1 0 -2.67 0ZM214.84 711.85a1.33 1.33 0 1 0 2.67 0a1.33 1.33 0 1 0 -2.67 0ZM215.77 712.33a1.33 1.33 0 1 0 2.67 0a1.33 1.33 0 1 0 -2.67 0ZM216.69 712.93a1.33 1.33 0 1 0 2.67 0a1.33 1.33 0 1 0 -2.67 0ZM217.62 711.76a1.33 1.33 0 1 0 2.67 0a1.33 1.33 0 1 0 -2.67 0ZM218.54 712.12a1.33 1.33 0 1 0 2.67 0a1.33 1.33 0 1 0 -2.67 0ZM219.47 711.92a1.33 1.33 0 1 0 2.67 0a1.33 1.33 0 1 0 -2.67 0ZM220.4 712.04a1.33 1.33 0 1 0 2.67 0a1.33 1.33 0 1 0 -2.67 0ZM221.32 711.81a1.33 1.33 0 1 0 2.67 0a1.33 1.33 0 1 0 -2.67 0ZM222.25 712.08a1.33 1.33 0 1 0 2.67 0a1.33 1.33 0 1 0 -2.67 0ZM223.17 711.56a1.33 1.33 0 1 0 2.67 0a1.33 1.33 0 1 0 -2.67 0ZM224.1 711.92a1.33 1.33 0 1 0 2.67 0a1.33 1.33 0 1 0 -2.67 0ZM225.02 711.94a1.33 1.33 0 1 0 2.67 0a1.33 1.33 0 1 0 -2.67 0ZM225.95 711.94a1.33 1.33 0 1 0 2.67 0a1.33 1.33 0 1 0 -2.67 0ZM226.88 712.76a1.33 1.33 0 1 0 2.67 0a1.33 1.33 0 1 0 -2.67 0ZM227.8 712.2a1.33 1.33 0 1 0 2.67 0a1.33 1.33 0 1 0 -2.67 0ZM228.73 712.25a1.33 1.33 0 1 0 2.67 0a1.33 1.33 0 1 0 -2.67 0ZM229.65 712.04a1.33 1.33 0 1 0 2.67 0a1.33 1.33 0 1 0 -2.67 0ZM230.58 712.74a1.33 1.33 0 1 0 2.67 0a1.33 1.33 0 1 0 -2.67 0ZM231.5 711.42a1.33 1.33 0 1 0 2.67 0a1.33 1.33 0 1 0 -2.67 0ZM232.43 712.1a1.33 1.33 0 1 0 2.67 0a1.33 1.33 0 1 0 -2.67 0ZM233.36 712.68a1.33 1.33 0 1 0 2.67 0a1.33 1.33 0 1 0 -2.67 0ZM234.28 712.9a1.33 1.33 0 1 0 2.67 0a1.33 1.33 0 1 0 -2.67 0ZM235.21 712.28a1.33 1.33 0 1 0 2.67 0a1.33 1.33 0 1 0 -2.67 0Z" fill="#ff8000"/>
<rect x="30.65" y="552.25" width="224.8" height="180.4" fill="none" stroke="#1a1a1a" stroke-width="1.1"/>
<path d="M30.65 732.65v-3.3 M30.65 552.25v3.3 M57.1 732.65v-3.3 M57.1 552.25v3.3 M83.54 732.65v-3.3 M83.54 552.25v3.3 M109.99 732.65v-3.3 M109.99 552.25v3.3 M136.44 732.65v-3.3 M136.44 552.25v3.3 M162.89 732.65v-3.3 M162.89 552.25v3.3 M189.33 732.65v-3.3 M189.33 552.25v3.3 M215.78 732.65v-3.3 M215.78 552.25v3.3 M242.23 732.65v-3.3 M242.23 552.25v3.3 M43.87 732.65v-1.9 M43.87 552.25v1.9 M70.32 732.65v-1.9 M70.32 552.25v1.9 M96.77 732.65v-1.9 M96.77 552.25v1.9 M123.21 732.65v-1.9 M123.21 552.25v1.9 M149.66 732.65v-1.9 M149.66 552.25v1.9 M176.11 732.65v-1.9 M176.11 552.25v1.9 M202.56 732.65v-1.9 M202.56 552.25v1.9 M229 732.65v-1.9 M229 552.25v1.9 M255.45 732.65v-1.9 M255.45 552.25v1.9 M30.65 732.65h3.3 M255.45 732.65h-3.3 M30.65 712.61h3.3 M255.45 712.61h-3.3 M30.65 692.56h3.3 M255.45 692.56h-3.3 M30.65 672.52h3.3 M255.45 672.52h-3.3 M30.65 652.47h3.3 M255.45 652.47h-3.3 M30.65 632.43h3.3 M255.45 632.43h-3.3 M30.65 612.38h3.3 M255.45 612.38h-3.3 M30.65 592.34h3.3 M255.45 592.34h-3.3 M30.65 572.29h3.3 M255.45 572.29h-3.3 M30.65 552.25h3.3 M255.45 552.25h-3.3 M30.65 722.63h1.9 M255.45 722.63h-1.9 M30.65 702.58h1.9 M255.45 702.58h-1.9 M30.65 682.54h1.9 M255.45 682.54h-1.9 M30.65 662.49h1.9 M255.45 662.49h-1.9 M30.65 642.45h1.9 M255.45 642.45h-1.9 M30.65 622.41h1.9 M255.45 622.41h-1.9 M30.65 602.36h1.9 M255.45 602.36h-1.9 M30.65 582.32h1.9 M255.45 582.32h-1.9 M30.65 562.27h1.9 M255.45 562.27h-1.9" stroke="#111" stroke-width="0.8" fill="none"/>
<text x="30.65" y="741.1" class="t" text-anchor="middle">17000</text>
<text x="57.1" y="741.1" class="t" text-anchor="middle">18000</text>
<text x="83.54" y="741.1" class="t" text-anchor="middle">19000</text>
<text x="109.99" y="741.1" class="t" text-anchor="middle">20000</text>
<text x="136.44" y="741.1" class="t" text-anchor="middle">21000</text>
<text x="162.89" y="741.1" class="t" text-anchor="middle">22000</text>
<text x="189.33" y="741.1" class="t" text-anchor="middle">23000</text>
<text x="215.78" y="741.1" class="t" text-anchor="middle">24000</text>
<text x="242.23" y="741.1" class="t" text-anchor="middle">25000</text>
<text x="27.8" y="734.75" class="t" text-anchor="end">-0.05</text>
<text x="27.8" y="714.71" class="t" text-anchor="end">0.00</text>
<text x="27.8" y="694.66" class="t" text-anchor="end">0.05</text>
<text x="27.8" y="674.62" class="t" text-anchor="end">0.10</text>
<text x="27.8" y="654.57" class="t" text-anchor="end">0.15</text>
<text x="27.8" y="634.53" class="t" text-anchor="end">0.20</text>
<text x="27.8" y="614.48" class="t" text-anchor="end">0.25</text>
<text x="27.8" y="594.44" class="t" text-anchor="end">0.30</text>
<text x="27.8" y="574.39" class="t" text-anchor="end">0.35</text>
<text x="27.8" y="554.35" class="t" text-anchor="end">0.40</text>
<text x="143.05" y="752.7" class="a" text-anchor="middle">Frequency (Hz)</text>
<text transform="translate(8.7 647.5) rotate(-90)" class="a" text-anchor="middle">Absorption (mV)</text>
<text x="228.3" y="576.8" class="l" text-anchor="middle">(a)</text>
<rect x="54.2" y="587.2" width="63.3" height="26.1" fill="#fff" stroke="#808080" stroke-width="0.7"/>
<path d="M56.2 592.3H71.6" stroke="#ff0000" stroke-width="0.4"/>
<path d="M63.8 589.92L66.3 594.3L61.3 594.3Z" fill="#ff0000"/>
<text x="73.6" y="594.6" class="g">Vexc= 1.0 Vpp</text>
<path d="M56.2 600.6H71.6" stroke="#0000ff" stroke-width="0.4"/>
<path d="M63.8 602.98L66.3 598.6L61.3 598.6Z" fill="#0000ff"/>
<text x="73.6" y="602.9" class="g">Vexc= 0.5 Vpp</text>
<path d="M56.2 608.9H71.6" stroke="#ff8000" stroke-width="0.4"/>
<path d="M61.5 608.9a2.3 2.3 0 1 0 4.6 0a2.3 2.3 0 1 0 -4.6 0Z" fill="#ff8000"/>
<text x="73.6" y="611.2" class="g">Vexc= 0.2 Vpp</text>
<polyline points="312.94,712.23 313.86,712.54 314.79,712.6 315.71,712.34 316.64,711.66 317.56,711.27 318.49,711.62 319.41,711.77 320.34,711.39 321.27,711.22 322.19,711.48 323.12,711.69 324.04,711.42 324.97,711.34 325.89,711.81 326.82,712.23 327.75,712.57 328.67,712.6 329.6,712.28 330.52,711.73 331.45,711.24 332.37,710.64 333.3,710.45 334.23,710.98 335.15,711.47 336.08,710.94 337,710.2 337.93,710.12 338.85,710.41 339.78,710.36 340.7,710.07 341.63,709.48 342.56,708.9 343.48,708.79 344.41,708.49 345.33,708.17 346.26,708.23 347.18,708.13 348.11,707.9 349.04,707.93 349.96,707.9 350.89,707.28 351.81,706.86 352.74,706.96 353.66,706.63 354.59,706.33 355.52,705.86 356.44,705.15 357.37,705.31 358.29,705.83 359.22,705.56 360.14,705.02 361.07,704.73 361.99,704.45 362.92,704.11 363.85,703.59 364.77,703.36 365.7,703.63 366.62,703.65 367.55,703.47 368.47,703.36 369.4,703.33 370.33,702.85 371.25,701.86 372.18,700.86 373.1,700.65 374.03,700.96 374.95,700.61 375.88,699.86 376.8,699.16 377.73,697.75 378.66,696.23 379.58,695.26 380.51,694.87 381.43,694.53 382.36,693.61 383.28,691.96 384.21,690.21 385.14,688.94 386.06,687.37 386.99,685.26 387.91,683.09 388.84,680.83 389.76,678.11 390.69,674.56 391.62,670.31 392.54,665.51 393.47,660.61 394.39,655.34 395.32,649.22 396.24,642.22 397.17,634.27 398.09,625.81 399.02,616.95 399.95,607.73 400.87,598.35 401.8,589.75 402.72,581.95 403.65,575.46 404.57,571.51 405.5,570.45 406.43,573 407.35,579.38 408.28,587.58 409.2,596.42 410.13,605.97 411.05,615.87 411.98,625.18 412.91,633.68 413.83,641.87 414.76,649.5 415.68,655.94 416.61,661.61 417.53,666.75 418.46,671.06 419.38,674.7 420.31,677.75 421.24,680.79 422.16,683.83 423.09,686.63 424.01,689.25 424.94,691.63 425.86,693.18 426.79,694.4 427.72,695.78 428.64,696.76 429.57,697.68 430.49,698.2 431.42,698.63 432.34,699.06 433.27,699.99 434.2,700.88 435.12,701.04 436.05,701.6 436.97,702.95 437.9,704.16 438.82,704.92 439.75,705.28 440.67,705.38 441.6,705.92 442.53,706.6 443.45,707.25 444.38,707.7 445.3,707.67 446.23,707.25 447.15,707.23 448.08,707.51 449.01,708.15 449.93,708.82 450.86,709.16 451.78,709.26 452.71,709.33 453.63,709.59 454.56,710.07 455.48,710.43 456.41,710.05 457.34,709.61 458.26,710.14 459.19,710.5 460.11,710.09 461.04,710.07 461.96,710.82 462.89,711.29 463.82,711.59 464.74,711.6 465.67,711.07 466.59,710.89 467.52,711.16 468.44,711.38 469.37,711.38 470.3,711.58 471.22,711.97 472.15,712.32 473.07,712.08 474,711.5 474.92,711.5 475.85,711.67 476.77,711.9 477.7,712.14 478.63,712.1 479.55,711.92 480.48,712.04 481.4,712.09 482.33,711.77 483.25,711.37 484.18,711.46 485.11,712.05 486.03,712.75 486.96,712.81 487.88,712.09 488.81,711.78 489.73,711.98 490.66,711.94 491.59,711.72 492.51,711.68 493.44,711.92 494.36,712.19 495.29,712.34 496.21,712.63 497.14,712.41 498.06,712.01 498.99,711.56" fill="none" stroke="#ff0000" stroke-width="0.35"/>
<path d="M312.94 710.85L314.39 713.39L311.49 713.39ZM313.86 711.17L315.31 713.7L312.41 713.7ZM314.79 711.22L316.24 713.76L313.34 713.76ZM315.71 710.96L317.16 713.5L314.26 713.5ZM316.64 710.28L318.09 712.82L315.19 712.82ZM317.56 709.89L319.01 712.43L316.11 712.43ZM318.49 710.24L319.94 712.78L317.04 712.78ZM319.41 710.39L320.86 712.93L317.96 712.93ZM320.34 710.01L321.79 712.55L318.89 712.55ZM321.27 709.84L322.72 712.38L319.82 712.38ZM322.19 710.11L323.64 712.64L320.74 712.64ZM323.12 710.31L324.57 712.85L321.67 712.85ZM324.04 710.05L325.49 712.58L322.59 712.58ZM324.97 709.96L326.42 712.5L323.52 712.5ZM325.89 710.43L327.34 712.97L324.44 712.97ZM326.82 710.85L328.27 713.39L325.37 713.39ZM327.75 711.19L329.2 713.73L326.3 713.73ZM328.67 711.22L330.12 713.76L327.22 713.76ZM329.6 710.91L331.05 713.44L328.15 713.44ZM330.52 710.35L331.97 712.89L329.07 712.89ZM331.45 709.87L332.9 712.4L330 712.4ZM332.37 709.27L333.82 711.8L330.92 711.8ZM333.3 709.07L334.75 711.61L331.85 711.61ZM334.23 709.6L335.68 712.14L332.78 712.14ZM335.15 710.1L336.6 712.63L333.7 712.63ZM336.08 709.56L337.53 712.1L334.63 712.1ZM337 708.82L338.45 711.36L335.55 711.36ZM337.93 708.74L339.38 711.28L336.48 711.28ZM338.85 709.03L340.3 711.57L337.4 711.57ZM339.78 708.98L341.23 711.52L338.33 711.52ZM340.7 708.69L342.15 711.23L339.25 711.23ZM341.63 708.11L343.08 710.64L340.18 710.64ZM342.56 707.52L344.01 710.06L341.11 710.06ZM343.48 707.41L344.93 709.95L342.03 709.95ZM344.41 707.12L345.86 709.65L342.96 709.65ZM345.33 706.79L346.78 709.33L343.88 709.33ZM346.26 706.85L347.71 709.39L344.81 709.39ZM347.18 706.75L348.63 709.29L345.73 709.29ZM348.11 706.52L349.56 709.06L346.66 709.06ZM349.04 706.55L350.49 709.09L347.59 709.09ZM349.96 706.52L351.41 709.06L348.51 709.06ZM350.89 705.9L352.34 708.44L349.44 708.44ZM351.81 705.49L353.26 708.02L350.36 708.02ZM352.74 705.58L354.19 708.12L351.29 708.12ZM353.66 705.25L355.11 707.79L352.21 707.79ZM354.59 704.95L356.04 707.49L353.14 707.49ZM355.52 704.48L356.97 707.02L354.07 707.02ZM356.44 703.77L357.89 706.31L354.99 706.31ZM357.37 703.93L358.82 706.47L355.92 706.47ZM358.29 704.45L359.74 706.99L356.84 706.99ZM359.22 704.18L360.67 706.72L357.77 706.72ZM360.14 703.65L361.59 706.18L358.69 706.18ZM361.07 703.36L362.52 705.89L359.62 705.89ZM361.99 703.07L363.44 705.61L360.54 705.61ZM362.92 702.73L364.37 705.27L361.47 705.27ZM363.85 702.21L365.3 704.75L362.4 704.75ZM364.77 701.98L366.22 704.52L363.32 704.52ZM365.7 702.25L367.15 704.79L364.25 704.79ZM366.62 702.27L368.07 704.81L365.17 704.81ZM367.55 702.1L369 704.63L366.1 704.63ZM368.47 701.98L369.92 704.52L367.02 704.52ZM369.4 701.96L370.85 704.49L367.95 704.49ZM370.33 701.47L371.78 704.01L368.88 704.01ZM371.25 700.48L372.7 703.02L369.8 703.02ZM372.18 699.49L373.63 702.02L370.73 702.02ZM373.1 699.27L374.55 701.81L371.65 701.81ZM374.03 699.58L375.48 702.12L372.58 702.12ZM374.95 699.23L376.4 701.77L373.5 701.77ZM375.88 698.49L377.33 701.02L374.43 701.02ZM376.8 697.78L378.25 700.32L375.35 700.32ZM377.73 696.38L379.18 698.91L376.28 698.91ZM378.66 694.85L380.11 697.39L377.21 697.39ZM379.58 693.88L381.03 696.42L378.13 696.42ZM380.51 693.49L381.96 696.03L379.06 696.03ZM381.43 693.16L382.88 695.69L379.98 695.69ZM382.36 692.23L383.81 694.77L380.91 694.77ZM383.28 690.58L384.73 693.12L381.83 693.12ZM384.21 688.83L385.66 691.37L382.76 691.37ZM385.14 687.56L386.59 690.1L383.69 690.1ZM386.06 685.99L387.51 688.53L384.61 688.53ZM386.99 683.88L388.44 686.42L385.54 686.42ZM387.91 681.71L389.36 684.25L386.46 684.25ZM388.84 679.46L390.29 681.99L387.39 681.99ZM389.76 676.74L391.21 679.27L388.31 679.27ZM390.69 673.19L392.14 675.72L389.24 675.72ZM391.62 668.93L393.07 671.47L390.17 671.47ZM392.54 664.13L393.99 666.67L391.09 666.67ZM393.47 659.24L394.92 661.77L392.02 661.77ZM394.39 653.97L395.84 656.5L392.94 656.5ZM395.32 647.84L396.77 650.38L393.87 650.38ZM396.24 640.84L397.69 643.38L394.79 643.38ZM397.17 632.89L398.62 635.43L395.72 635.43ZM398.09 624.44L399.54 626.97L396.64 626.97ZM399.02 615.57L400.47 618.11L397.57 618.11ZM399.95 606.35L401.4 608.89L398.5 608.89ZM400.87 596.97L402.32 599.51L399.42 599.51ZM401.8 588.37L403.25 590.91L400.35 590.91ZM402.72 580.57L404.17 583.11L401.27 583.11ZM403.65 574.09L405.1 576.62L402.2 576.62ZM404.57 570.14L406.02 572.67L403.12 572.67ZM405.5 569.08L406.95 571.61L404.05 571.61ZM406.43 571.62L407.88 574.16L404.98 574.16ZM407.35 578L408.8 580.54L405.9 580.54ZM408.28 586.21L409.73 588.74L406.83 588.74ZM409.2 595.04L410.65 597.58L407.75 597.58ZM410.13 604.59L411.58 607.13L408.68 607.13ZM411.05 614.49L412.5 617.03L409.6 617.03ZM411.98 623.8L413.43 626.34L410.53 626.34ZM412.91 632.31L414.36 634.84L411.46 634.84ZM413.83 640.5L415.28 643.03L412.38 643.03ZM414.76 648.13L416.21 650.66L413.31 650.66ZM415.68 654.57L417.13 657.1L414.23 657.1ZM416.61 660.24L418.06 662.77L415.16 662.77ZM417.53 665.37L418.98 667.91L416.08 667.91ZM418.46 669.68L419.91 672.22L417.01 672.22ZM419.38 673.33L420.83 675.86L417.93 675.86ZM420.31 676.37L421.76 678.91L418.86 678.91ZM421.24 679.42L422.69 681.95L419.79 681.95ZM422.16 682.45L423.61 684.99L420.71 684.99ZM423.09 685.26L424.54 687.79L421.64 687.79ZM424.01 687.87L425.46 690.41L422.56 690.41ZM424.94 690.26L426.39 692.79L423.49 692.79ZM425.86 691.8L427.31 694.34L424.41 694.34ZM426.79 693.03L428.24 695.56L425.34 695.56ZM427.72 694.4L429.17 696.94L426.27 696.94ZM428.64 695.39L430.09 697.92L427.19 697.92ZM429.57 696.3L431.02 698.84L428.12 698.84ZM430.49 696.83L431.94 699.36L429.04 699.36ZM431.42 697.25L432.87 699.79L429.97 699.79ZM432.34 697.68L433.79 700.22L430.89 700.22ZM433.27 698.61L434.72 701.15L431.82 701.15ZM434.2 699.5L435.65 702.04L432.75 702.04ZM435.12 699.66L436.57 702.2L433.67 702.2ZM436.05 700.23L437.5 702.76L434.6 702.76ZM436.97 701.57L438.42 704.11L435.52 704.11ZM437.9 702.78L439.35 705.32L436.45 705.32ZM438.82 703.55L440.27 706.08L437.37 706.08ZM439.75 703.9L441.2 706.44L438.3 706.44ZM440.67 704.01L442.12 706.54L439.22 706.54ZM441.6 704.54L443.05 707.08L440.15 707.08ZM442.53 705.22L443.98 707.76L441.08 707.76ZM443.45 705.88L444.9 708.41L442 708.41ZM444.38 706.32L445.83 708.86L442.93 708.86ZM445.3 706.29L446.75 708.83L443.85 708.83ZM446.23 705.87L447.68 708.41L444.78 708.41ZM447.15 705.85L448.6 708.39L445.7 708.39ZM448.08 706.13L449.53 708.67L446.63 708.67ZM449.01 706.77L450.46 709.31L447.56 709.31ZM449.93 707.45L451.38 709.98L448.48 709.98ZM450.86 707.78L452.31 710.32L449.41 710.32ZM451.78 707.89L453.23 710.42L450.33 710.42ZM452.71 707.95L454.16 710.49L451.26 710.49ZM453.63 708.21L455.08 710.75L452.18 710.75ZM454.56 708.69L456.01 711.23L453.11 711.23ZM455.48 709.05L456.93 711.59L454.03 711.59ZM456.41 708.67L457.86 711.21L454.96 711.21ZM457.34 708.24L458.79 710.77L455.89 710.77ZM458.26 708.76L459.71 711.3L456.81 711.3ZM459.19 709.12L460.64 711.66L457.74 711.66ZM460.11 708.71L461.56 711.25L458.66 711.25ZM461.04 708.69L462.49 711.23L459.59 711.23ZM461.96 709.44L463.41 711.98L460.51 711.98ZM462.89 709.92L464.34 712.45L461.44 712.45ZM463.82 710.21L465.27 712.75L462.37 712.75ZM464.74 710.22L466.19 712.76L463.29 712.76ZM465.67 709.69L467.12 712.23L464.22 712.23ZM466.59 709.52L468.04 712.05L465.14 712.05ZM467.52 709.78L468.97 712.32L466.07 712.32ZM468.44 710L469.89 712.54L466.99 712.54ZM469.37 710L470.82 712.54L467.92 712.54ZM470.3 710.2L471.75 712.74L468.85 712.74ZM471.22 710.59L472.67 713.13L469.77 713.13ZM472.15 710.94L473.6 713.48L470.7 713.48ZM473.07 710.7L474.52 713.24L471.62 713.24ZM474 710.12L475.45 712.66L472.55 712.66ZM474.92 710.12L476.37 712.66L473.47 712.66ZM475.85 710.29L477.3 712.83L474.4 712.83ZM476.77 710.52L478.22 713.06L475.32 713.06ZM477.7 710.77L479.15 713.3L476.25 713.3ZM478.63 710.73L480.08 713.26L477.18 713.26ZM479.55 710.54L481 713.08L478.1 713.08ZM480.48 710.66L481.93 713.2L479.03 713.2ZM481.4 710.71L482.85 713.25L479.95 713.25ZM482.33 710.39L483.78 712.93L480.88 712.93ZM483.25 709.99L484.7 712.53L481.8 712.53ZM484.18 710.08L485.63 712.62L482.73 712.62ZM485.11 710.67L486.56 713.21L483.66 713.21ZM486.03 711.38L487.48 713.91L484.58 713.91ZM486.96 711.43L488.41 713.97L485.51 713.97ZM487.88 710.72L489.33 713.25L486.43 713.25ZM488.81 710.4L490.26 712.94L487.36 712.94ZM489.73 710.6L491.18 713.14L488.28 713.14ZM490.66 710.56L492.11 713.1L489.21 713.1ZM491.59 710.34L493.04 712.88L490.14 712.88ZM492.51 710.3L493.96 712.84L491.06 712.84ZM493.44 710.54L494.89 713.08L491.99 713.08ZM494.36 710.81L495.81 713.35L492.91 713.35ZM495.29 710.97L496.74 713.5L493.84 713.5ZM496.21 711.25L497.66 713.79L494.76 713.79ZM497.14 711.03L498.59 713.57L495.69 713.57ZM498.06 710.63L499.51 713.17L496.61 713.17ZM498.99 710.18L500.44 712.72L497.54 712.72Z" fill="#ff0000"/>
<polyline points="312.94,712.86 313.86,712.5 314.79,712.07 315.71,712.38 316.64,714.07 317.56,714.46 318.49,712.89 319.41,711.86 320.34,711.86 321.27,712.35 322.19,713.24 323.12,713.62 324.04,713.32 324.97,713.44 325.89,713.14 326.82,711.77 327.75,710.99 328.67,711.28 329.6,712.2 330.52,712.74 331.45,712.77 332.37,712.22 333.3,711.49 334.23,711.02 335.15,710.05 336.08,708.88 337,708.71 337.93,709.7 338.85,709.73 339.78,709.8 340.7,710.59 341.63,711.2 342.56,710.35 343.48,709.12 344.41,708.9 345.33,708.95 346.26,708.49 347.18,708.11 348.11,709.37 349.04,711.1 349.96,711.83 350.89,712.69 351.81,712.47 352.74,709.68 353.66,707.19 354.59,707.49 355.52,708.59 356.44,707.97 357.37,706.39 358.29,705.96 359.22,706.21 360.14,706.13 361.07,705.48 361.99,704.66 362.92,704.56 363.85,705.22 364.77,705.64 365.7,705.11 366.62,704.5 367.55,704.2 368.47,704.58 369.4,704.38 370.33,703.9 371.25,702.78 372.18,700.56 373.1,699.69 374.03,700.11 374.95,700.12 375.88,700.71 376.8,701.14 377.73,699.37 378.66,697.67 379.58,697.28 380.51,697.08 381.43,695.71 382.36,693.42 383.28,691.15 384.21,689.67 385.14,688.02 386.06,686.19 386.99,685.34 387.91,684.23 388.84,681.22 389.76,676.13 390.69,671.58 391.62,667.89 392.54,664.18 393.47,659.9 394.39,654.8 395.32,648.84 396.24,641.56 397.17,632.66 398.09,623 399.02,614.04 399.95,605.44 400.87,596.25 401.8,586.13 402.72,576.63 403.65,570.59 404.57,568.32 405.5,569.22 406.43,572.5 407.35,577.4 408.28,584.64 409.2,594.37 410.13,604.7 411.05,614.73 411.98,624.75 412.91,634.37 413.83,642.27 414.76,648.79 415.68,654.6 416.61,660.12 417.53,664.36 418.46,668.49 419.38,673.57 420.31,677.87 421.24,680.87 422.16,683.78 423.09,686.14 424.01,686.92 424.94,687.98 425.86,690.9 426.79,693.86 427.72,695.75 428.64,697.07 429.57,698.59 430.49,699.02 431.42,698.67 432.34,698.89 433.27,698.6 434.2,698.79 435.12,699.95 436.05,700.58 436.97,701.23 437.9,703.39 438.82,705.63 439.75,706.35 440.67,705.16 441.6,704.01 442.53,704.96 443.45,707.16 444.38,708.27 445.3,708.03 446.23,707.57 447.15,707.55 448.08,707.62 449.01,707.91 449.93,708.42 450.86,708.62 451.78,708.6 452.71,708.37 453.63,707.49 454.56,706.86 455.48,707.92 456.41,709.91 457.34,711.3 458.26,711.83 459.19,712.62 460.11,712.02 461.04,710.15 461.96,709.72 462.89,711.18 463.82,712.57 464.74,712.41 465.67,711.25 466.59,709.4 467.52,708.52 468.44,710.09 469.37,712.2 470.3,712.87 471.22,712.43 472.15,712.42 473.07,712.79 474,712.66 474.92,712.02 475.85,710.51 476.77,709.65 477.7,710.21 478.63,711.27 479.55,711.69 480.48,712.14 481.4,712.79 482.33,713.6 483.25,714.38 484.18,713.94 485.11,712.56 486.03,711.93 486.96,711.76 487.88,712.42 488.81,713.9 489.73,713.94 490.66,712.83 491.59,712.24 492.51,712.05 493.44,711.82 494.36,712.72 495.29,714.03 496.21,713.76 497.14,712.65 498.06,712.92 498.99,713.4" fill="none" stroke="#0000ff" stroke-width="0.35"/>
<path d="M312.94 714.24L314.39 711.7L311.49 711.7ZM313.86 713.88L315.31 711.34L312.41 711.34ZM314.79 713.45L316.24 710.91L313.34 710.91ZM315.71 713.75L317.16 711.22L314.26 711.22ZM316.64 715.44L318.09 712.91L315.19 712.91ZM317.56 715.84L319.01 713.3L316.11 713.3ZM318.49 714.27L319.94 711.73L317.04 711.73ZM319.41 713.24L320.86 710.7L317.96 710.7ZM320.34 713.24L321.79 710.7L318.89 710.7ZM321.27 713.72L322.72 711.19L319.82 711.19ZM322.19 714.62L323.64 712.08L320.74 712.08ZM323.12 715L324.57 712.46L321.67 712.46ZM324.04 714.7L325.49 712.16L322.59 712.16ZM324.97 714.82L326.42 712.28L323.52 712.28ZM325.89 714.52L327.34 711.98L324.44 711.98ZM326.82 713.15L328.27 710.61L325.37 710.61ZM327.75 712.36L329.2 709.83L326.3 709.83ZM328.67 712.66L330.12 710.12L327.22 710.12ZM329.6 713.58L331.05 711.04L328.15 711.04ZM330.52 714.12L331.97 711.58L329.07 711.58ZM331.45 714.14L332.9 711.61L330 711.61ZM332.37 713.6L333.82 711.06L330.92 711.06ZM333.3 712.87L334.75 710.33L331.85 710.33ZM334.23 712.4L335.68 709.86L332.78 709.86ZM335.15 711.42L336.6 708.89L333.7 708.89ZM336.08 710.26L337.53 707.72L334.63 707.72ZM337 710.09L338.45 707.55L335.55 707.55ZM337.93 711.08L339.38 708.54L336.48 708.54ZM338.85 711.1L340.3 708.57L337.4 708.57ZM339.78 711.18L341.23 708.64L338.33 708.64ZM340.7 711.97L342.15 709.43L339.25 709.43ZM341.63 712.57L343.08 710.04L340.18 710.04ZM342.56 711.72L344.01 709.19L341.11 709.19ZM343.48 710.5L344.93 707.96L342.03 707.96ZM344.41 710.28L345.86 707.74L342.96 707.74ZM345.33 710.33L346.78 707.79L343.88 707.79ZM346.26 709.86L347.71 707.33L344.81 707.33ZM347.18 709.49L348.63 706.95L345.73 706.95ZM348.11 710.75L349.56 708.21L346.66 708.21ZM349.04 712.48L350.49 709.94L347.59 709.94ZM349.96 713.2L351.41 710.67L348.51 710.67ZM350.89 714.07L352.34 711.53L349.44 711.53ZM351.81 713.85L353.26 711.31L350.36 711.31ZM352.74 711.05L354.19 708.52L351.29 708.52ZM353.66 708.57L355.11 706.03L352.21 706.03ZM354.59 708.87L356.04 706.33L353.14 706.33ZM355.52 709.96L356.97 707.43L354.07 707.43ZM356.44 709.35L357.89 706.81L354.99 706.81ZM357.37 707.77L358.82 705.23L355.92 705.23ZM358.29 707.34L359.74 704.8L356.84 704.8ZM359.22 707.59L360.67 705.05L357.77 705.05ZM360.14 707.51L361.59 704.97L358.69 704.97ZM361.07 706.86L362.52 704.32L359.62 704.32ZM361.99 706.04L363.44 703.5L360.54 703.5ZM362.92 705.94L364.37 703.4L361.47 703.4ZM363.85 706.6L365.3 704.06L362.4 704.06ZM364.77 707.02L366.22 704.48L363.32 704.48ZM365.7 706.49L367.15 703.95L364.25 703.95ZM366.62 705.87L368.07 703.34L365.17 703.34ZM367.55 705.58L369 703.04L366.1 703.04ZM368.47 705.96L369.92 703.42L367.02 703.42ZM369.4 705.76L370.85 703.22L367.95 703.22ZM370.33 705.27L371.78 702.74L368.88 702.74ZM371.25 704.16L372.7 701.62L369.8 701.62ZM372.18 701.94L373.63 699.4L370.73 699.4ZM373.1 701.07L374.55 698.53L371.65 698.53ZM374.03 701.49L375.48 698.95L372.58 698.95ZM374.95 701.5L376.4 698.96L373.5 698.96ZM375.88 702.09L377.33 699.55L374.43 699.55ZM376.8 702.52L378.25 699.98L375.35 699.98ZM377.73 700.75L379.18 698.21L376.28 698.21ZM378.66 699.05L380.11 696.51L377.21 696.51ZM379.58 698.65L381.03 696.12L378.13 696.12ZM380.51 698.46L381.96 695.92L379.06 695.92ZM381.43 697.09L382.88 694.55L379.98 694.55ZM382.36 694.8L383.81 692.26L380.91 692.26ZM383.28 692.53L384.73 689.99L381.83 689.99ZM384.21 691.05L385.66 688.51L382.76 688.51ZM385.14 689.4L386.59 686.86L383.69 686.86ZM386.06 687.56L387.51 685.03L384.61 685.03ZM386.99 686.71L388.44 684.18L385.54 684.18ZM387.91 685.61L389.36 683.07L386.46 683.07ZM388.84 682.6L390.29 680.06L387.39 680.06ZM389.76 677.5L391.21 674.97L388.31 674.97ZM390.69 672.95L392.14 670.42L389.24 670.42ZM391.62 669.27L393.07 666.73L390.17 666.73ZM392.54 665.55L393.99 663.02L391.09 663.02ZM393.47 661.28L394.92 658.74L392.02 658.74ZM394.39 656.17L395.84 653.64L392.94 653.64ZM395.32 650.22L396.77 647.68L393.87 647.68ZM396.24 642.94L397.69 640.4L394.79 640.4ZM397.17 634.04L398.62 631.5L395.72 631.5ZM398.09 624.37L399.54 621.84L396.64 621.84ZM399.02 615.41L400.47 612.88L397.57 612.88ZM399.95 606.82L401.4 604.28L398.5 604.28ZM400.87 597.63L402.32 595.09L399.42 595.09ZM401.8 587.51L403.25 584.97L400.35 584.97ZM402.72 578.01L404.17 575.47L401.27 575.47ZM403.65 571.96L405.1 569.43L402.2 569.43ZM404.57 569.7L406.02 567.16L403.12 567.16ZM405.5 570.59L406.95 568.06L404.05 568.06ZM406.43 573.87L407.88 571.34L404.98 571.34ZM407.35 578.78L408.8 576.24L405.9 576.24ZM408.28 586.02L409.73 583.48L406.83 583.48ZM409.2 595.75L410.65 593.21L407.75 593.21ZM410.13 606.08L411.58 603.54L408.68 603.54ZM411.05 616.11L412.5 613.57L409.6 613.57ZM411.98 626.13L413.43 623.59L410.53 623.59ZM412.91 635.75L414.36 633.21L411.46 633.21ZM413.83 643.64L415.28 641.11L412.38 641.11ZM414.76 650.17L416.21 647.63L413.31 647.63ZM415.68 655.98L417.13 653.44L414.23 653.44ZM416.61 661.5L418.06 658.96L415.16 658.96ZM417.53 665.73L418.98 663.2L416.08 663.2ZM418.46 669.86L419.91 667.33L417.01 667.33ZM419.38 674.95L420.83 672.41L417.93 672.41ZM420.31 679.25L421.76 676.71L418.86 676.71ZM421.24 682.25L422.69 679.71L419.79 679.71ZM422.16 685.15L423.61 682.62L420.71 682.62ZM423.09 687.52L424.54 684.98L421.64 684.98ZM424.01 688.3L425.46 685.76L422.56 685.76ZM424.94 689.36L426.39 686.82L423.49 686.82ZM425.86 692.28L427.31 689.74L424.41 689.74ZM426.79 695.24L428.24 692.7L425.34 692.7ZM427.72 697.13L429.17 694.59L426.27 694.59ZM428.64 698.44L430.09 695.91L427.19 695.91ZM429.57 699.96L431.02 697.43L428.12 697.43ZM430.49 700.39L431.94 697.86L429.04 697.86ZM431.42 700.05L432.87 697.51L429.97 697.51ZM432.34 700.27L433.79 697.73L430.89 697.73ZM433.27 699.98L434.72 697.44L431.82 697.44ZM434.2 700.17L435.65 697.63L432.75 697.63ZM435.12 701.32L436.57 698.79L433.67 698.79ZM436.05 701.96L437.5 699.42L434.6 699.42ZM436.97 702.61L438.42 700.07L435.52 700.07ZM437.9 704.76L439.35 702.23L436.45 702.23ZM438.82 707.01L440.27 704.47L437.37 704.47ZM439.75 707.72L441.2 705.19L438.3 705.19ZM440.67 706.54L442.12 704L439.22 704ZM441.6 705.39L443.05 702.85L440.15 702.85ZM442.53 706.34L443.98 703.8L441.08 703.8ZM443.45 708.54L444.9 706L442 706ZM444.38 709.65L445.83 707.11L442.93 707.11ZM445.3 709.41L446.75 706.87L443.85 706.87ZM446.23 708.95L447.68 706.41L444.78 706.41ZM447.15 708.93L448.6 706.39L445.7 706.39ZM448.08 708.99L449.53 706.46L446.63 706.46ZM449.01 709.29L450.46 706.75L447.56 706.75ZM449.93 709.8L451.38 707.26L448.48 707.26ZM450.86 709.99L452.31 707.46L449.41 707.46ZM451.78 709.98L453.23 707.44L450.33 707.44ZM452.71 709.75L454.16 707.21L451.26 707.21ZM453.63 708.87L455.08 706.33L452.18 706.33ZM454.56 708.23L456.01 705.7L453.11 705.7ZM455.48 709.29L456.93 706.76L454.03 706.76ZM456.41 711.28L457.86 708.75L454.96 708.75ZM457.34 712.68L458.79 710.14L455.89 710.14ZM458.26 713.2L459.71 710.67L456.81 710.67ZM459.19 713.99L460.64 711.46L457.74 711.46ZM460.11 713.39L461.56 710.86L458.66 710.86ZM461.04 711.52L462.49 708.99L459.59 708.99ZM461.96 711.09L463.41 708.56L460.51 708.56ZM462.89 712.56L464.34 710.02L461.44 710.02ZM463.82 713.95L465.27 711.41L462.37 711.41ZM464.74 713.79L466.19 711.25L463.29 711.25ZM465.67 712.63L467.12 710.09L464.22 710.09ZM466.59 710.78L468.04 708.24L465.14 708.24ZM467.52 709.9L468.97 707.36L466.07 707.36ZM468.44 711.47L469.89 708.93L466.99 708.93ZM469.37 713.58L470.82 711.04L467.92 711.04ZM470.3 714.25L471.75 711.71L468.85 711.71ZM471.22 713.81L472.67 711.27L469.77 711.27ZM472.15 713.8L473.6 711.26L470.7 711.26ZM473.07 714.16L474.52 711.63L471.62 711.63ZM474 714.04L475.45 711.5L472.55 711.5ZM474.92 713.4L476.37 710.86L473.47 710.86ZM475.85 711.89L477.3 709.35L474.4 709.35ZM476.77 711.03L478.22 708.49L475.32 708.49ZM477.7 711.58L479.15 709.05L476.25 709.05ZM478.63 712.65L480.08 710.11L477.18 710.11ZM479.55 713.07L481 710.53L478.1 710.53ZM480.48 713.52L481.93 710.98L479.03 710.98ZM481.4 714.16L482.85 711.63L479.95 711.63ZM482.33 714.98L483.78 712.44L480.88 712.44ZM483.25 715.75L484.7 713.22L481.8 713.22ZM484.18 715.32L485.63 712.78L482.73 712.78ZM485.11 713.94L486.56 711.4L483.66 711.4ZM486.03 713.31L487.48 710.77L484.58 710.77ZM486.96 713.14L488.41 710.6L485.51 710.6ZM487.88 713.79L489.33 711.26L486.43 711.26ZM488.81 715.28L490.26 712.74L487.36 712.74ZM489.73 715.31L491.18 712.78L488.28 712.78ZM490.66 714.2L492.11 711.67L489.21 711.67ZM491.59 713.62L493.04 711.08L490.14 711.08ZM492.51 713.43L493.96 710.89L491.06 710.89ZM493.44 713.2L494.89 710.66L491.99 710.66ZM494.36 714.1L495.81 711.56L492.91 711.56ZM495.29 715.41L496.74 712.87L493.84 712.87ZM496.21 715.14L497.66 712.6L494.76 712.6ZM497.14 714.03L498.59 711.49L495.69 711.49ZM498.06 714.3L499.51 711.76L496.61 711.76ZM498.99 714.78L500.44 712.24L497.54 712.24Z" fill="#0000ff"/>
<polyline points="312.94,709.99 313.86,707.72 314.79,708.94 315.71,710.72 316.64,710.72 317.56,709.62 318.49,712.51 319.41,711.37 320.34,709.25 321.27,706.9 322.19,711.53 323.12,711.25 324.04,710.66 324.97,708.1 325.89,711.09 326.82,707.74 327.75,713.06 328.67,711.3 329.6,711.27 330.52,709.05 331.45,708.43 332.37,714.01 333.3,712.64 334.23,709.82 335.15,711.96 336.08,713.8 337,708.09 337.93,709.22 338.85,709.15 339.78,711.22 340.7,707.82 341.63,710.54 342.56,707.51 343.48,711.85 344.41,711.63 345.33,709.2 346.26,711.1 347.18,707.96 348.11,708.77 349.04,711.26 349.96,708.95 350.89,709.76 351.81,706.83 352.74,710.11 353.66,709.53 354.59,705.74 355.52,703.31 356.44,703.67 357.37,707.75 358.29,707.22 359.22,704.12 360.14,707.56 361.07,709.21 361.99,706.56 362.92,705.56 363.85,708.11 364.77,709.62 365.7,708.85 366.62,703.89 367.55,706.67 368.47,704.93 369.4,703.74 370.33,702.41 371.25,704.04 372.18,701.69 373.1,704.21 374.03,702.45 374.95,703.27 375.88,697.82 376.8,699.61 377.73,700.36 378.66,698.6 379.58,697.32 380.51,694.2 381.43,698.07 382.36,695.52 383.28,692.61 384.21,684.58 385.14,686.26 386.06,686.61 386.99,682.57 387.91,677.1 388.84,679.34 389.76,676.48 390.69,669.43 391.62,667 392.54,662.06 393.47,659.53 394.39,648.38 395.32,642.35 396.24,637.6 397.17,629.29 398.09,626.47 399.02,611.17 399.95,603.21 400.87,592.04 401.8,582.29 402.72,576.61 403.65,573.65 404.57,565.84 405.5,568.06 406.43,569.99 407.35,576.17 408.28,583.28 409.2,596.67 410.13,598.62 411.05,610.56 411.98,618.15 412.91,625.12 413.83,637.58 414.76,648.98 415.68,653.58 416.61,660.14 417.53,663.8 418.46,667.13 419.38,675.79 420.31,674.24 421.24,681.52 422.16,680.38 423.09,683.81 424.01,686.52 424.94,688 425.86,690.84 426.79,692.63 427.72,696.46 428.64,694.14 429.57,691.2 430.49,691.99 431.42,694.44 432.34,696.7 433.27,700.57 434.2,696.65 435.12,700.65 436.05,701.32 436.97,702.4 437.9,702.1 438.82,703.76 439.75,703.45 440.67,706.09 441.6,704.92 442.53,699.44 443.45,704.97 444.38,705.66 445.3,704.26 446.23,704.16 447.15,708.44 448.08,706.69 449.01,704.44 449.93,706.09 450.86,706.62 451.78,703.65 452.71,708.75 453.63,707.25 454.56,708.74 455.48,704.46 456.41,712.19 457.34,709.5 458.26,709.32 459.19,706.81 460.11,707.05 461.04,705.42 461.96,712.07 462.89,707.04 463.82,709.44 464.74,710.35 465.67,707.77 466.59,711.07 467.52,713.7 468.44,710.01 469.37,712.56 470.3,710.76 471.22,708.57 472.15,708.76 473.07,706 474,710 474.92,712.99 475.85,711.32 476.77,711.73 477.7,712.43 478.63,708.83 479.55,711.25 480.48,714.23 481.4,708.37 482.33,710.19 483.25,709.19 484.18,709.77 485.11,708.64 486.03,709.98 486.96,707.37 487.88,709.18 488.81,709.28 489.73,709.26 490.66,713.4 491.59,710.57 492.51,710.8 493.44,709.79 494.36,713.27 495.29,706.68 496.21,710.07 497.14,712.99 498.06,714.1 498.99,710.97" fill="none" stroke="#ff8000" stroke-width="0.35"/>
<path d="M311.74 709.99a1.2 1.2 0 1 0 2.39 0a1.2 1.2 0 1 0 -2.39 0ZM312.66 707.72a1.2 1.2 0 1 0 2.39 0a1.2 1.2 0 1 0 -2.39 0ZM313.59 708.94a1.2 1.2 0 1 0 2.39 0a1.2 1.2 0 1 0 -2.39 0ZM314.52 710.72a1.2 1.2 0 1 0 2.39 0a1.2 1.2 0 1 0 -2.39 0ZM315.44 710.72a1.2 1.2 0 1 0 2.39 0a1.2 1.2 0 1 0 -2.39 0ZM316.37 709.62a1.2 1.2 0 1 0 2.39 0a1.2 1.2 0 1 0 -2.39 0ZM317.29 712.51a1.2 1.2 0 1 0 2.39 0a1.2 1.2 0 1 0 -2.39 0ZM318.22 711.37a1.2 1.2 0 1 0 2.39 0a1.2 1.2 0 1 0 -2.39 0ZM319.14 709.25a1.2 1.2 0 1 0 2.39 0a1.2 1.2 0 1 0 -2.39 0ZM320.07 706.9a1.2 1.2 0 1 0 2.39 0a1.2 1.2 0 1 0 -2.39 0ZM321 711.53a1.2 1.2 0 1 0 2.39 0a1.2 1.2 0 1 0 -2.39 0ZM321.92 711.25a1.2 1.2 0 1 0 2.39 0a1.2 1.2 0 1 0 -2.39 0ZM322.85 710.66a1.2 1.2 0 1 0 2.39 0a1.2 1.2 0 1 0 -2.39 0ZM323.77 708.1a1.2 1.2 0 1 0 2.39 0a1.2 1.2 0 1 0 -2.39 0ZM324.7 711.09a1.2 1.2 0 1 0 2.39 0a1.2 1.2 0 1 0 -2.39 0ZM325.62 707.74a1.2 1.2 0 1 0 2.39 0a1.2 1.2 0 1 0 -2.39 0ZM326.55 713.06a1.2 1.2 0 1 0 2.39 0a1.2 1.2 0 1 0 -2.39 0ZM327.48 711.3a1.2 1.2 0 1 0 2.39 0a1.2 1.2 0 1 0 -2.39 0ZM328.4 711.27a1.2 1.2 0 1 0 2.39 0a1.2 1.2 0 1 0 -2.39 0ZM329.33 709.05a1.2 1.2 0 1 0 2.39 0a1.2 1.2 0 1 0 -2.39 0ZM330.25 708.43a1.2 1.2 0 1 0 2.39 0a1.2 1.2 0 1 0 -2.39 0ZM331.18 714.01a1.2 1.2 0 1 0 2.39 0a1.2 1.2 0 1 0 -2.39 0ZM332.1 712.64a1.2 1.2 0 1 0 2.39 0a1.2 1.2 0 1 0 -2.39 0ZM333.03 709.82a1.2 1.2 0 1 0 2.39 0a1.2 1.2 0 1 0 -2.39 0ZM333.95 711.96a1.2 1.2 0 1 0 2.39 0a1.2 1.2 0 1 0 -2.39 0ZM334.88 713.8a1.2 1.2 0 1 0 2.39 0a1.2 1.2 0 1 0 -2.39 0ZM335.81 708.09a1.2 1.2 0 1 0 2.39 0a1.2 1.2 0 1 0 -2.39 0ZM336.73 709.22a1.2 1.2 0 1 0 2.39 0a1.2 1.2 0 1 0 -2.39 0ZM337.66 709.15a1.2 1.2 0 1 0 2.39 0a1.2 1.2 0 1 0 -2.39 0ZM338.58 711.22a1.2 1.2 0 1 0 2.39 0a1.2 1.2 0 1 0 -2.39 0ZM339.51 707.82a1.2 1.2 0 1 0 2.39 0a1.2 1.2 0 1 0 -2.39 0ZM340.43 710.54a1.2 1.2 0 1 0 2.39 0a1.2 1.2 0 1 0 -2.39 0ZM341.36 707.51a1.2 1.2 0 1 0 2.39 0a1.2 1.2 0 1 0 -2.39 0ZM342.29 711.85a1.2 1.2 0 1 0 2.39 0a1.2 1.2 0 1 0 -2.39 0ZM343.21 711.63a1.2 1.2 0 1 0 2.39 0a1.2 1.2 0 1 0 -2.39 0ZM344.14 709.2a1.2 1.2 0 1 0 2.39 0a1.2 1.2 0 1 0 -2.39 0ZM345.06 711.1a1.2 1.2 0 1 0 2.39 0a1.2 1.2 0 1 0 -2.39 0ZM345.99 707.96a1.2 1.2 0 1 0 2.39 0a1.2 1.2 0 1 0 -2.39 0ZM346.91 708.77a1.2 1.2 0 1 0 2.39 0a1.2 1.2 0 1 0 -2.39 0ZM347.84 711.26a1.2 1.2 0 1 0 2.39 0a1.2 1.2 0 1 0 -2.39 0ZM348.77 708.95a1.2 1.2 0 1 0 2.39 0a1.2 1.2 0 1 0 -2.39 0ZM349.69 709.76a1.2 1.2 0 1 0 2.39 0a1.2 1.2 0 1 0 -2.39 0ZM350.62 706.83a1.2 1.2 0 1 0 2.39 0a1.2 1.2 0 1 0 -2.39 0ZM351.54 710.11a1.2 1.2 0 1 0 2.39 0a1.2 1.2 0 1 0 -2.39 0ZM352.47 709.53a1.2 1.2 0 1 0 2.39 0a1.2 1.2 0 1 0 -2.39 0ZM353.39 705.74a1.2 1.2 0 1 0 2.39 0a1.2 1.2 0 1 0 -2.39 0ZM354.32 703.31a1.2 1.2 0 1 0 2.39 0a1.2 1.2 0 1 0 -2.39 0ZM355.24 703.67a1.2 1.2 0 1 0 2.39 0a1.2 1.2 0 1 0 -2.39 0ZM356.17 707.75a1.2 1.2 0 1 0 2.39 0a1.2 1.2 0 1 0 -2.39 0ZM357.1 707.22a1.2 1.2 0 1 0 2.39 0a1.2 1.2 0 1 0 -2.39 0ZM358.02 704.12a1.2 1.2 0 1 0 2.39 0a1.2 1.2 0 1 0 -2.39 0ZM358.95 707.56a1.2 1.2 0 1 0 2.39 0a1.2 1.2 0 1 0 -2.39 0ZM359.87 709.21a1.2 1.2 0 1 0 2.39 0a1.2 1.2 0 1 0 -2.39 0ZM360.8 706.56a1.2 1.2 0 1 0 2.39 0a1.2 1.2 0 1 0 -2.39 0ZM361.72 705.56a1.2 1.2 0 1 0 2.39 0a1.2 1.2 0 1 0 -2.39 0ZM362.65 708.11a1.2 1.2 0 1 0 2.39 0a1.2 1.2 0 1 0 -2.39 0ZM363.58 709.62a1.2 1.2 0 1 0 2.39 0a1.2 1.2 0 1 0 -2.39 0ZM364.5 708.85a1.2 1.2 0 1 0 2.39 0a1.2 1.2 0 1 0 -2.39 0ZM365.43 703.89a1.2 1.2 0 1 0 2.39 0a1.2 1.2 0 1 0 -2.39 0ZM366.35 706.67a1.2 1.2 0 1 0 2.39 0a1.2 1.2 0 1 0 -2.39 0ZM367.28 704.93a1.2 1.2 0 1 0 2.39 0a1.2 1.2 0 1 0 -2.39 0ZM368.2 703.74a1.2 1.2 0 1 0 2.39 0a1.2 1.2 0 1 0 -2.39 0ZM369.13 702.41a1.2 1.2 0 1 0 2.39 0a1.2 1.2 0 1 0 -2.39 0ZM370.06 704.04a1.2 1.2 0 1 0 2.39 0a1.2 1.2 0 1 0 -2.39 0ZM370.98 701.69a1.2 1.2 0 1 0 2.39 0a1.2 1.2 0 1 0 -2.39 0ZM371.91 704.21a1.2 1.2 0 1 0 2.39 0a1.2 1.2 0 1 0 -2.39 0ZM372.83 702.45a1.2 1.2 0 1 0 2.39 0a1.2 1.2 0 1 0 -2.39 0ZM373.76 703.27a1.2 1.2 0 1 0 2.39 0a1.2 1.2 0 1 0 -2.39 0ZM374.68 697.82a1.2 1.2 0 1 0 2.39 0a1.2 1.2 0 1 0 -2.39 0ZM375.61 699.61a1.2 1.2 0 1 0 2.39 0a1.2 1.2 0 1 0 -2.39 0ZM376.53 700.36a1.2 1.2 0 1 0 2.39 0a1.2 1.2 0 1 0 -2.39 0ZM377.46 698.6a1.2 1.2 0 1 0 2.39 0a1.2 1.2 0 1 0 -2.39 0ZM378.39 697.32a1.2 1.2 0 1 0 2.39 0a1.2 1.2 0 1 0 -2.39 0ZM379.31 694.2a1.2 1.2 0 1 0 2.39 0a1.2 1.2 0 1 0 -2.39 0ZM380.24 698.07a1.2 1.2 0 1 0 2.39 0a1.2 1.2 0 1 0 -2.39 0ZM381.16 695.52a1.2 1.2 0 1 0 2.39 0a1.2 1.2 0 1 0 -2.39 0ZM382.09 692.61a1.2 1.2 0 1 0 2.39 0a1.2 1.2 0 1 0 -2.39 0ZM383.01 684.58a1.2 1.2 0 1 0 2.39 0a1.2 1.2 0 1 0 -2.39 0ZM383.94 686.26a1.2 1.2 0 1 0 2.39 0a1.2 1.2 0 1 0 -2.39 0ZM384.87 686.61a1.2 1.2 0 1 0 2.39 0a1.2 1.2 0 1 0 -2.39 0ZM385.79 682.57a1.2 1.2 0 1 0 2.39 0a1.2 1.2 0 1 0 -2.39 0ZM386.72 677.1a1.2 1.2 0 1 0 2.39 0a1.2 1.2 0 1 0 -2.39 0ZM387.64 679.34a1.2 1.2 0 1 0 2.39 0a1.2 1.2 0 1 0 -2.39 0ZM388.57 676.48a1.2 1.2 0 1 0 2.39 0a1.2 1.2 0 1 0 -2.39 0ZM389.49 669.43a1.2 1.2 0 1 0 2.39 0a1.2 1.2 0 1 0 -2.39 0ZM390.42 667a1.2 1.2 0 1 0 2.39 0a1.2 1.2 0 1 0 -2.39 0ZM391.34 662.06a1.2 1.2 0 1 0 2.39 0a1.2 1.2 0 1 0 -2.39 0ZM392.27 659.53a1.2 1.2 0 1 0 2.39 0a1.2 1.2 0 1 0 -2.39 0ZM393.2 648.38a1.2 1.2 0 1 0 2.39 0a1.2 1.2 0 1 0 -2.39 0ZM394.12 642.35a1.2 1.2 0 1 0 2.39 0a1.2 1.2 0 1 0 -2.39 0ZM395.05 637.6a1.2 1.2 0 1 0 2.39 0a1.2 1.2 0 1 0 -2.39 0ZM395.97 629.29a1.2 1.2 0 1 0 2.39 0a1.2 1.2 0 1 0 -2.39 0ZM396.9 626.47a1.2 1.2 0 1 0 2.39 0a1.2 1.2 0 1 0 -2.39 0ZM397.82 611.17a1.2 1.2 0 1 0 2.39 0a1.2 1.2 0 1 0 -2.39 0ZM398.75 603.21a1.2 1.2 0 1 0 2.39 0a1.2 1.2 0 1 0 -2.39 0ZM399.68 592.04a1.2 1.2 0 1 0 2.39 0a1.2 1.2 0 1 0 -2.39 0ZM400.6 582.29a1.2 1.2 0 1 0 2.39 0a1.2 1.2 0 1 0 -2.39 0ZM401.53 576.61a1.2 1.2 0 1 0 2.39 0a1.2 1.2 0 1 0 -2.39 0ZM402.45 573.65a1.2 1.2 0 1 0 2.39 0a1.2 1.2 0 1 0 -2.39 0ZM403.38 565.84a1.2 1.2 0 1 0 2.39 0a1.2 1.2 0 1 0 -2.39 0ZM404.3 568.06a1.2 1.2 0 1 0 2.39 0a1.2 1.2 0 1 0 -2.39 0ZM405.23 569.99a1.2 1.2 0 1 0 2.39 0a1.2 1.2 0 1 0 -2.39 0ZM406.16 576.17a1.2 1.2 0 1 0 2.39 0a1.2 1.2 0 1 0 -2.39 0ZM407.08 583.28a1.2 1.2 0 1 0 2.39 0a1.2 1.2 0 1 0 -2.39 0ZM408.01 596.67a1.2 1.2 0 1 0 2.39 0a1.2 1.2 0 1 0 -2.39 0ZM408.93 598.62a1.2 1.2 0 1 0 2.39 0a1.2 1.2 0 1 0 -2.39 0ZM409.86 610.56a1.2 1.2 0 1 0 2.39 0a1.2 1.2 0 1 0 -2.39 0ZM410.78 618.15a1.2 1.2 0 1 0 2.39 0a1.2 1.2 0 1 0 -2.39 0ZM411.71 625.12a1.2 1.2 0 1 0 2.39 0a1.2 1.2 0 1 0 -2.39 0ZM412.63 637.58a1.2 1.2 0 1 0 2.39 0a1.2 1.2 0 1 0 -2.39 0ZM413.56 648.98a1.2 1.2 0 1 0 2.39 0a1.2 1.2 0 1 0 -2.39 0ZM414.49 653.58a1.2 1.2 0 1 0 2.39 0a1.2 1.2 0 1 0 -2.39 0ZM415.41 660.14a1.2 1.2 0 1 0 2.39 0a1.2 1.2 0 1 0 -2.39 0ZM416.34 663.8a1.2 1.2 0 1 0 2.39 0a1.2 1.2 0 1 0 -2.39 0ZM417.26 667.13a1.2 1.2 0 1 0 2.39 0a1.2 1.2 0 1 0 -2.39 0ZM418.19 675.79a1.2 1.2 0 1 0 2.39 0a1.2 1.2 0 1 0 -2.39 0ZM419.11 674.24a1.2 1.2 0 1 0 2.39 0a1.2 1.2 0 1 0 -2.39 0ZM420.04 681.52a1.2 1.2 0 1 0 2.39 0a1.2 1.2 0 1 0 -2.39 0ZM420.97 680.38a1.2 1.2 0 1 0 2.39 0a1.2 1.2 0 1 0 -2.39 0ZM421.89 683.81a1.2 1.2 0 1 0 2.39 0a1.2 1.2 0 1 0 -2.39 0ZM422.82 686.52a1.2 1.2 0 1 0 2.39 0a1.2 1.2 0 1 0 -2.39 0ZM423.74 688a1.2 1.2 0 1 0 2.39 0a1.2 1.2 0 1 0 -2.39 0ZM424.67 690.84a1.2 1.2 0 1 0 2.39 0a1.2 1.2 0 1 0 -2.39 0ZM425.59 692.63a1.2 1.2 0 1 0 2.39 0a1.2 1.2 0 1 0 -2.39 0ZM426.52 696.46a1.2 1.2 0 1 0 2.39 0a1.2 1.2 0 1 0 -2.39 0ZM427.45 694.14a1.2 1.2 0 1 0 2.39 0a1.2 1.2 0 1 0 -2.39 0ZM428.37 691.2a1.2 1.2 0 1 0 2.39 0a1.2 1.2 0 1 0 -2.39 0ZM429.3 691.99a1.2 1.2 0 1 0 2.39 0a1.2 1.2 0 1 0 -2.39 0ZM430.22 694.44a1.2 1.2 0 1 0 2.39 0a1.2 1.2 0 1 0 -2.39 0ZM431.15 696.7a1.2 1.2 0 1 0 2.39 0a1.2 1.2 0 1 0 -2.39 0ZM432.07 700.57a1.2 1.2 0 1 0 2.39 0a1.2 1.2 0 1 0 -2.39 0ZM433 696.65a1.2 1.2 0 1 0 2.39 0a1.2 1.2 0 1 0 -2.39 0ZM433.92 700.65a1.2 1.2 0 1 0 2.39 0a1.2 1.2 0 1 0 -2.39 0ZM434.85 701.32a1.2 1.2 0 1 0 2.39 0a1.2 1.2 0 1 0 -2.39 0ZM435.78 702.4a1.2 1.2 0 1 0 2.39 0a1.2 1.2 0 1 0 -2.39 0ZM436.7 702.1a1.2 1.2 0 1 0 2.39 0a1.2 1.2 0 1 0 -2.39 0ZM437.63 703.76a1.2 1.2 0 1 0 2.39 0a1.2 1.2 0 1 0 -2.39 0ZM438.55 703.45a1.2 1.2 0 1 0 2.39 0a1.2 1.2 0 1 0 -2.39 0ZM439.48 706.09a1.2 1.2 0 1 0 2.39 0a1.2 1.2 0 1 0 -2.39 0ZM440.4 704.92a1.2 1.2 0 1 0 2.39 0a1.2 1.2 0 1 0 -2.39 0ZM441.33 699.44a1.2 1.2 0 1 0 2.39 0a1.2 1.2 0 1 0 -2.39 0ZM442.26 704.97a1.2 1.2 0 1 0 2.39 0a1.2 1.2 0 1 0 -2.39 0ZM443.18 705.66a1.2 1.2 0 1 0 2.39 0a1.2 1.2 0 1 0 -2.39 0ZM444.11 704.26a1.2 1.2 0 1 0 2.39 0a1.2 1.2 0 1 0 -2.39 0ZM445.03 704.16a1.2 1.2 0 1 0 2.39 0a1.2 1.2 0 1 0 -2.39 0ZM445.96 708.44a1.2 1.2 0 1 0 2.39 0a1.2 1.2 0 1 0 -2.39 0ZM446.88 706.69a1.2 1.2 0 1 0 2.39 0a1.2 1.2 0 1 0 -2.39 0ZM447.81 704.44a1.2 1.2 0 1 0 2.39 0a1.2 1.2 0 1 0 -2.39 0ZM448.74 706.09a1.2 1.2 0 1 0 2.39 0a1.2 1.2 0 1 0 -2.39 0ZM449.66 706.62a1.2 1.2 0 1 0 2.39 0a1.2 1.2 0 1 0 -2.39 0ZM450.59 703.65a1.2 1.2 0 1 0 2.39 0a1.2 1.2 0 1 0 -2.39 0ZM451.51 708.75a1.2 1.2 0 1 0 2.39 0a1.2 1.2 0 1 0 -2.39 0ZM452.44 707.25a1.2 1.2 0 1 0 2.39 0a1.2 1.2 0 1 0 -2.39 0ZM453.36 708.74a1.2 1.2 0 1 0 2.39 0a1.2 1.2 0 1 0 -2.39 0ZM454.29 704.46a1.2 1.2 0 1 0 2.39 0a1.2 1.2 0 1 0 -2.39 0ZM455.21 712.19a1.2 1.2 0 1 0 2.39 0a1.2 1.2 0 1 0 -2.39 0ZM456.14 709.5a1.2 1.2 0 1 0 2.39 0a1.2 1.2 0 1 0 -2.39 0ZM457.07 709.32a1.2 1.2 0 1 0 2.39 0a1.2 1.2 0 1 0 -2.39 0ZM457.99 706.81a1.2 1.2 0 1 0 2.39 0a1.2 1.2 0 1 0 -2.39 0ZM458.92 707.05a1.2 1.2 0 1 0 2.39 0a1.2 1.2 0 1 0 -2.39 0ZM459.84 705.42a1.2 1.2 0 1 0 2.39 0a1.2 1.2 0 1 0 -2.39 0ZM460.77 712.07a1.2 1.2 0 1 0 2.39 0a1.2 1.2 0 1 0 -2.39 0ZM461.69 707.04a1.2 1.2 0 1 0 2.39 0a1.2 1.2 0 1 0 -2.39 0ZM462.62 709.44a1.2 1.2 0 1 0 2.39 0a1.2 1.2 0 1 0 -2.39 0ZM463.55 710.35a1.2 1.2 0 1 0 2.39 0a1.2 1.2 0 1 0 -2.39 0ZM464.47 707.77a1.2 1.2 0 1 0 2.39 0a1.2 1.2 0 1 0 -2.39 0ZM465.4 711.07a1.2 1.2 0 1 0 2.39 0a1.2 1.2 0 1 0 -2.39 0ZM466.32 713.7a1.2 1.2 0 1 0 2.39 0a1.2 1.2 0 1 0 -2.39 0ZM467.25 710.01a1.2 1.2 0 1 0 2.39 0a1.2 1.2 0 1 0 -2.39 0ZM468.17 712.56a1.2 1.2 0 1 0 2.39 0a1.2 1.2 0 1 0 -2.39 0ZM469.1 710.76a1.2 1.2 0 1 0 2.39 0a1.2 1.2 0 1 0 -2.39 0ZM470.02 708.57a1.2 1.2 0 1 0 2.39 0a1.2 1.2 0 1 0 -2.39 0ZM470.95 708.76a1.2 1.2 0 1 0 2.39 0a1.2 1.2 0 1 0 -2.39 0ZM471.88 706a1.2 1.2 0 1 0 2.39 0a1.2 1.2 0 1 0 -2.39 0ZM472.8 710a1.2 1.2 0 1 0 2.39 0a1.2 1.2 0 1 0 -2.39 0ZM473.73 712.99a1.2 1.2 0 1 0 2.39 0a1.2 1.2 0 1 0 -2.39 0ZM474.65 711.32a1.2 1.2 0 1 0 2.39 0a1.2 1.2 0 1 0 -2.39 0ZM475.58 711.73a1.2 1.2 0 1 0 2.39 0a1.2 1.2 0 1 0 -2.39 0ZM476.5 712.43a1.2 1.2 0 1 0 2.39 0a1.2 1.2 0 1 0 -2.39 0ZM477.43 708.83a1.2 1.2 0 1 0 2.39 0a1.2 1.2 0 1 0 -2.39 0ZM478.36 711.25a1.2 1.2 0 1 0 2.39 0a1.2 1.2 0 1 0 -2.39 0ZM479.28 714.23a1.2 1.2 0 1 0 2.39 0a1.2 1.2 0 1 0 -2.39 0ZM480.21 708.37a1.2 1.2 0 1 0 2.39 0a1.2 1.2 0 1 0 -2.39 0ZM481.13 710.19a1.2 1.2 0 1 0 2.39 0a1.2 1.2 0 1 0 -2.39 0ZM482.06 709.19a1.2 1.2 0 1 0 2.39 0a1.2 1.2 0 1 0 -2.39 0ZM482.98 709.77a1.2 1.2 0 1 0 2.39 0a1.2 1.2 0 1 0 -2.39 0ZM483.91 708.64a1.2 1.2 0 1 0 2.39 0a1.2 1.2 0 1 0 -2.39 0ZM484.84 709.98a1.2 1.2 0 1 0 2.39 0a1.2 1.2 0 1 0 -2.39 0ZM485.76 707.37a1.2 1.2 0 1 0 2.39 0a1.2 1.2 0 1 0 -2.39 0ZM486.69 709.18a1.2 1.2 0 1 0 2.39 0a1.2 1.2 0 1 0 -2.39 0ZM487.61 709.28a1.2 1.2 0 1 0 2.39 0a1.2 1.2 0 1 0 -2.39 0ZM488.54 709.26a1.2 1.2 0 1 0 2.39 0a1.2 1.2 0 1 0 -2.39 0ZM489.46 713.4a1.2 1.2 0 1 0 2.39 0a1.2 1.2 0 1 0 -2.39 0ZM490.39 710.57a1.2 1.2 0 1 0 2.39 0a1.2 1.2 0 1 0 -2.39 0ZM491.31 710.8a1.2 1.2 0 1 0 2.39 0a1.2 1.2 0 1 0 -2.39 0ZM492.24 709.79a1.2 1.2 0 1 0 2.39 0a1.2 1.2 0 1 0 -2.39 0ZM493.17 713.27a1.2 1.2 0 1 0 2.39 0a1.2 1.2 0 1 0 -2.39 0ZM494.09 706.68a1.2 1.2 0 1 0 2.39 0a1.2 1.2 0 1 0 -2.39 0ZM495.02 710.07a1.2 1.2 0 1 0 2.39 0a1.2 1.2 0 1 0 -2.39 0ZM495.94 712.99a1.2 1.2 0 1 0 2.39 0a1.2 1.2 0 1 0 -2.39 0ZM496.87 714.1a1.2 1.2 0 1 0 2.39 0a1.2 1.2 0 1 0 -2.39 0ZM497.79 710.97a1.2 1.2 0 1 0 2.39 0a1.2 1.2 0 1 0 -2.39 0Z" fill="#ff8000"/>
<rect x="293.1" y="552.25" width="224.8" height="180.4" fill="none" stroke="#1a1a1a" stroke-width="1.1"/>
<path d="M293.1 732.65v-3.3 M293.1 552.25v3.3 M319.55 732.65v-3.3 M319.55 552.25v3.3 M345.99 732.65v-3.3 M345.99 552.25v3.3 M372.44 732.65v-3.3 M372.44 552.25v3.3 M398.89 732.65v-3.3 M398.89 552.25v3.3 M425.34 732.65v-3.3 M425.34 552.25v3.3 M451.78 732.65v-3.3 M451.78 552.25v3.3 M478.23 732.65v-3.3 M478.23 552.25v3.3 M504.68 732.65v-3.3 M504.68 552.25v3.3 M306.32 732.65v-1.9 M306.32 552.25v1.9 M332.77 732.65v-1.9 M332.77 552.25v1.9 M359.22 732.65v-1.9 M359.22 552.25v1.9 M385.66 732.65v-1.9 M385.66 552.25v1.9 M412.11 732.65v-1.9 M412.11 552.25v1.9 M438.56 732.65v-1.9 M438.56 552.25v1.9 M465.01 732.65v-1.9 M465.01 552.25v1.9 M491.45 732.65v-1.9 M491.45 552.25v1.9 M517.9 732.65v-1.9 M517.9 552.25v1.9 M293.1 732.65h3.3 M517.9 732.65h-3.3 M293.1 712.61h3.3 M517.9 712.61h-3.3 M293.1 692.56h3.3 M517.9 692.56h-3.3 M293.1 672.52h3.3 M517.9 672.52h-3.3 M293.1 652.47h3.3 M517.9 652.47h-3.3 M293.1 632.43h3.3 M517.9 632.43h-3.3 M293.1 612.38h3.3 M517.9 612.38h-3.3 M293.1 592.34h3.3 M517.9 592.34h-3.3 M293.1 572.29h3.3 M517.9 572.29h-3.3 M293.1 552.25h3.3 M517.9 552.25h-3.3 M293.1 722.63h1.9 M517.9 722.63h-1.9 M293.1 702.58h1.9 M517.9 702.58h-1.9 M293.1 682.54h1.9 M517.9 682.54h-1.9 M293.1 662.49h1.9 M517.9 662.49h-1.9 M293.1 642.45h1.9 M517.9 642.45h-1.9 M293.1 622.41h1.9 M517.9 622.41h-1.9 M293.1 602.36h1.9 M517.9 602.36h-1.9 M293.1 582.32h1.9 M517.9 582.32h-1.9 M293.1 562.27h1.9 M517.9 562.27h-1.9" stroke="#111" stroke-width="0.8" fill="none"/>
<text x="293.1" y="741.1" class="t" text-anchor="middle">17000</text>
<text x="319.55" y="741.1" class="t" text-anchor="middle">18000</text>
<text x="345.99" y="741.1" class="t" text-anchor="middle">19000</text>
<text x="372.44" y="741.1" class="t" text-anchor="middle">20000</text>
<text x="398.89" y="741.1" class="t" text-anchor="middle">21000</text>
<text x="425.34" y="741.1" class="t" text-anchor="middle">22000</text>
<text x="451.78" y="741.1" class="t" text-anchor="middle">23000</text>
<text x="478.23" y="741.1" class="t" text-anchor="middle">24000</text>
<text x="504.68" y="741.1" class="t" text-anchor="middle">25000</text>
<text x="290.7" y="734.75" class="t" text-anchor="end">-0.05</text>
<text x="290.7" y="714.71" class="t" text-anchor="end">0.00</text>
<text x="290.7" y="694.66" class="t" text-anchor="end">0.05</text>
<text x="290.7" y="674.62" class="t" text-anchor="end">0.10</text>
<text x="290.7" y="654.57" class="t" text-anchor="end">0.15</text>
<text x="290.7" y="634.53" class="t" text-anchor="end">0.20</text>
<text x="290.7" y="614.48" class="t" text-anchor="end">0.25</text>
<text x="290.7" y="594.44" class="t" text-anchor="end">0.30</text>
<text x="290.7" y="574.39" class="t" text-anchor="end">0.35</text>
<text x="290.7" y="554.35" class="t" text-anchor="end">0.40</text>
<text x="405.5" y="752.7" class="a" text-anchor="middle">Frequency (Hz)</text>
<text transform="translate(270.5 647.5) rotate(-90)" class="a" text-anchor="middle">Scaled Absorption (Arbitrary units)</text>
<text x="490.1" y="576.8" class="l" text-anchor="middle">(b)</text>
<rect x="323.2" y="587.2" width="63.3" height="26.1" fill="#fff" stroke="#808080" stroke-width="0.7"/>
<path d="M325.2 592.3H340.6" stroke="#ff0000" stroke-width="0.4"/>
<path d="M332.8 589.92L335.3 594.3L330.3 594.3Z" fill="#ff0000"/>
<text x="342.6" y="594.6" class="g">Vexc= 1.0 Vpp</text>
<path d="M325.2 600.6H340.6" stroke="#0000ff" stroke-width="0.4"/>
<path d="M332.8 602.98L335.3 598.6L330.3 598.6Z" fill="#0000ff"/>
<text x="342.6" y="602.9" class="g">Vexc= 0.5 Vpp</text>
<path d="M325.2 608.9H340.6" stroke="#ff8000" stroke-width="0.4"/>
<path d="M330.5 608.9a2.3 2.3 0 1 0 4.6 0a2.3 2.3 0 1 0 -4.6 0Z" fill="#ff8000"/>
<text x="342.6" y="611.2" class="g">Vexc= 0.2 Vpp</text>
<polyline points="49.38,926.05 50.32,926.59 51.26,925.65 52.19,926.26 53.13,925.24 54.07,924.87 55,924.92 55.94,925.84 56.88,926.26 57.81,926.97 58.75,926.93 59.69,927.47 60.62,926.77 61.56,926.82 62.5,926.39 63.43,926.68 64.37,926.17 65.31,927.85 66.24,927.11 67.18,926.15 68.12,926.34 69.05,927.05 69.99,927.71 70.93,928.23 71.86,927.29 72.8,926.13 73.74,926.37 74.67,926.63 75.61,925.8 76.55,925.44 77.48,925.1 78.42,925.61 79.36,925.26 80.29,924.84 81.23,925.13 82.17,925.63 83.1,925.6 84.04,925.36 84.98,924.19 85.91,923.96 86.85,923.34 87.79,924.87 88.72,924.89 89.66,924.05 90.6,923.54 91.53,923.78 92.47,922.1 93.41,920.46 94.34,919.87 95.28,919.16 96.22,918.27 97.15,918.65 98.09,917.67 99.03,919.02 99.96,917.78 100.9,916.72 101.84,916.65 102.77,916.58 103.71,916.27 104.65,916.29 105.58,916.28 106.52,917.82 107.46,916.94 108.39,915.87 109.33,913.16 110.27,911.01 111.2,910.22 112.14,909.16 113.08,907.89 114.01,907.29 114.95,906.52 115.89,904.28 116.82,902.64 117.76,901.68 118.7,898.58 119.63,895.38 120.57,893.02 121.51,889.21 122.44,883.68 123.38,877.8 124.32,873.2 125.25,868.76 126.19,862.71 127.13,856.25 128.06,847.71 129,840.91 129.94,833.75 130.87,827.87 131.81,818.18 132.75,812.83 133.68,807.28 134.62,800.88 135.56,795.13 136.49,791.44 137.43,788.3 138.37,785.57 139.3,782.71 140.24,781.56 141.18,778.62 142.11,777.72 143.05,777.64 143.99,777.53 144.92,778.03 145.86,779.02 146.8,780.87 147.73,781.98 148.67,785.09 149.61,788.83 150.54,791.71 151.48,796.24 152.42,799.98 153.35,805.07 154.29,811.91 155.23,818.17 156.16,822.89 157.1,827.72 158.04,835.09 158.97,842.8 159.91,850.05 160.85,856.37 161.78,862.49 162.72,866.71 163.66,870.87 164.59,877.2 165.53,881.77 166.47,885.94 167.4,889.05 168.34,892.54 169.28,894.74 170.21,896.68 171.15,897.81 172.09,900.89 173.02,901.89 173.96,902.54 174.9,903.05 175.83,903.84 176.77,905.12 177.71,906.19 178.64,907.94 179.58,909.1 180.52,910.25 181.45,911.08 182.39,911.42 183.33,911.55 184.26,912.33 185.2,913.21 186.14,914.41 187.07,915.23 188.01,916.64 188.95,916.62 189.88,915.36 190.82,915.86 191.76,914.67 192.69,914.42 193.63,915.17 194.57,916.05 195.5,917.38 196.44,919.49 197.38,920.46 198.31,920.26 199.25,917.07 200.19,912.44 201.12,912.53 202.06,914.36 203,915.9 203.93,917.37 204.87,919.12 205.81,919.35 206.74,919.64 207.68,920.15 208.62,920.38 209.55,921.01 210.49,921.1 211.43,920.78 212.36,921.47 213.3,921.07 214.24,921.65 215.17,921.87 216.11,922.4 217.05,922.14 217.98,921.88 218.92,921.46 219.86,921.62 220.79,922.36 221.73,923.14 222.67,924.21 223.6,923.94 224.54,923.57 225.48,922.52 226.41,921.55 227.35,922.05 228.29,922.84 229.22,922.98 230.16,923.62 231.1,923.73 232.03,923.18 232.97,923.74 233.91,924.2 234.84,923.51 235.78,923.81 236.72,924.71 237.65,924.75" fill="none" stroke="#ff0000" stroke-width="0.35"/>
<path d="M49.38 924.77L50.73 927.13L48.03 927.13ZM50.32 925.31L51.67 927.67L48.97 927.67ZM51.26 924.37L52.61 926.73L49.91 926.73ZM52.19 924.97L53.54 927.34L50.84 927.34ZM53.13 923.96L54.48 926.32L51.78 926.32ZM54.07 923.59L55.42 925.95L52.72 925.95ZM55 923.63L56.35 926L53.65 926ZM55.94 924.56L57.29 926.92L54.59 926.92ZM56.88 924.98L58.23 927.34L55.53 927.34ZM57.81 925.69L59.16 928.05L56.46 928.05ZM58.75 925.65L60.1 928.01L57.4 928.01ZM59.69 926.18L61.04 928.55L58.34 928.55ZM60.62 925.49L61.97 927.85L59.27 927.85ZM61.56 925.54L62.91 927.9L60.21 927.9ZM62.5 925.11L63.85 927.47L61.15 927.47ZM63.43 925.4L64.78 927.76L62.08 927.76ZM64.37 924.89L65.72 927.25L63.02 927.25ZM65.31 926.56L66.66 928.93L63.96 928.93ZM66.24 925.82L67.59 928.19L64.89 928.19ZM67.18 924.87L68.53 927.23L65.83 927.23ZM68.12 925.06L69.47 927.42L66.77 927.42ZM69.05 925.77L70.4 928.13L67.7 928.13ZM69.99 926.42L71.34 928.79L68.64 928.79ZM70.93 926.94L72.28 929.31L69.58 929.31ZM71.86 926.01L73.21 928.37L70.51 928.37ZM72.8 924.85L74.15 927.21L71.45 927.21ZM73.74 925.08L75.09 927.45L72.39 927.45ZM74.67 925.35L76.02 927.71L73.32 927.71ZM75.61 924.51L76.96 926.88L74.26 926.88ZM76.55 924.15L77.9 926.52L75.2 926.52ZM77.48 923.81L78.83 926.18L76.13 926.18ZM78.42 924.32L79.77 926.69L77.07 926.69ZM79.36 923.98L80.71 926.34L78.01 926.34ZM80.29 923.56L81.64 925.92L78.94 925.92ZM81.23 923.84L82.58 926.21L79.88 926.21ZM82.17 924.35L83.52 926.71L80.82 926.71ZM83.1 924.32L84.45 926.68L81.75 926.68ZM84.04 924.07L85.39 926.44L82.69 926.44ZM84.98 922.91L86.33 925.27L83.63 925.27ZM85.91 922.67L87.26 925.04L84.56 925.04ZM86.85 922.06L88.2 924.42L85.5 924.42ZM87.79 923.59L89.14 925.95L86.44 925.95ZM88.72 923.6L90.07 925.97L87.37 925.97ZM89.66 922.76L91.01 925.13L88.31 925.13ZM90.6 922.26L91.95 924.62L89.25 924.62ZM91.53 922.5L92.88 924.86L90.18 924.86ZM92.47 920.82L93.82 923.18L91.12 923.18ZM93.41 919.18L94.76 921.54L92.06 921.54ZM94.34 918.59L95.69 920.95L92.99 920.95ZM95.28 917.88L96.63 920.24L93.93 920.24ZM96.22 916.98L97.57 919.35L94.87 919.35ZM97.15 917.37L98.5 919.73L95.8 919.73ZM98.09 916.38L99.44 918.75L96.74 918.75ZM99.03 917.74L100.38 920.1L97.68 920.1ZM99.96 916.5L101.31 918.86L98.61 918.86ZM100.9 915.44L102.25 917.8L99.55 917.8ZM101.84 915.37L103.19 917.73L100.49 917.73ZM102.77 915.3L104.12 917.66L101.42 917.66ZM103.71 914.98L105.06 917.35L102.36 917.35ZM104.65 915.01L106 917.37L103.3 917.37ZM105.58 915L106.93 917.36L104.23 917.36ZM106.52 916.54L107.87 918.9L105.17 918.9ZM107.46 915.66L108.81 918.02L106.11 918.02ZM108.39 914.59L109.74 916.95L107.04 916.95ZM109.33 911.88L110.68 914.24L107.98 914.24ZM110.27 909.73L111.62 912.09L108.92 912.09ZM111.2 908.94L112.55 911.3L109.85 911.3ZM112.14 907.88L113.49 910.24L110.79 910.24ZM113.08 906.61L114.43 908.97L111.73 908.97ZM114.01 906.01L115.36 908.37L112.66 908.37ZM114.95 905.24L116.3 907.6L113.6 907.6ZM115.89 903L117.24 905.36L114.54 905.36ZM116.82 901.36L118.17 903.72L115.47 903.72ZM117.76 900.39L119.11 902.76L116.41 902.76ZM118.7 897.29L120.05 899.66L117.35 899.66ZM119.63 894.1L120.98 896.46L118.28 896.46ZM120.57 891.73L121.92 894.1L119.22 894.1ZM121.51 887.92L122.86 890.29L120.16 890.29ZM122.44 882.39L123.79 884.76L121.09 884.76ZM123.38 876.52L124.73 878.88L122.03 878.88ZM124.32 871.91L125.67 874.28L122.97 874.28ZM125.25 867.47L126.6 869.84L123.9 869.84ZM126.19 861.43L127.54 863.79L124.84 863.79ZM127.13 854.97L128.48 857.33L125.78 857.33ZM128.06 846.43L129.41 848.79L126.71 848.79ZM129 839.63L130.35 841.99L127.65 841.99ZM129.94 832.47L131.29 834.83L128.59 834.83ZM130.87 826.59L132.22 828.95L129.52 828.95ZM131.81 816.9L133.16 819.26L130.46 819.26ZM132.75 811.55L134.1 813.91L131.4 813.91ZM133.68 805.99L135.03 808.36L132.33 808.36ZM134.62 799.6L135.97 801.96L133.27 801.96ZM135.56 793.84L136.91 796.21L134.21 796.21ZM136.49 790.16L137.84 792.52L135.14 792.52ZM137.43 787.02L138.78 789.38L136.08 789.38ZM138.37 784.29L139.72 786.65L137.02 786.65ZM139.3 781.42L140.65 783.79L137.95 783.79ZM140.24 780.28L141.59 782.64L138.89 782.64ZM141.18 777.34L142.53 779.7L139.83 779.7ZM142.11 776.44L143.46 778.8L140.76 778.8ZM143.05 776.36L144.4 778.72L141.7 778.72ZM143.99 776.25L145.34 778.61L142.64 778.61ZM144.92 776.75L146.27 779.11L143.57 779.11ZM145.86 777.74L147.21 780.1L144.51 780.1ZM146.8 779.59L148.15 781.95L145.45 781.95ZM147.73 780.7L149.08 783.06L146.38 783.06ZM148.67 783.81L150.02 786.17L147.32 786.17ZM149.61 787.54L150.96 789.91L148.26 789.91ZM150.54 790.43L151.89 792.79L149.19 792.79ZM151.48 794.96L152.83 797.32L150.13 797.32ZM152.42 798.7L153.77 801.06L151.07 801.06ZM153.35 803.79L154.7 806.15L152 806.15ZM154.29 810.63L155.64 812.99L152.94 812.99ZM155.23 816.89L156.58 819.25L153.88 819.25ZM156.16 821.61L157.51 823.97L154.81 823.97ZM157.1 826.44L158.45 828.8L155.75 828.8ZM158.04 833.81L159.39 836.17L156.69 836.17ZM158.97 841.52L160.32 843.88L157.62 843.88ZM159.91 848.76L161.26 851.13L158.56 851.13ZM160.85 855.09L162.2 857.45L159.5 857.45ZM161.78 861.21L163.13 863.57L160.43 863.57ZM162.72 865.43L164.07 867.79L161.37 867.79ZM163.66 869.59L165.01 871.95L162.31 871.95ZM164.59 875.92L165.94 878.28L163.24 878.28ZM165.53 880.49L166.88 882.85L164.18 882.85ZM166.47 884.66L167.82 887.02L165.12 887.02ZM167.4 887.77L168.75 890.13L166.05 890.13ZM168.34 891.25L169.69 893.62L166.99 893.62ZM169.28 893.46L170.63 895.82L167.93 895.82ZM170.21 895.4L171.56 897.76L168.86 897.76ZM171.15 896.53L172.5 898.89L169.8 898.89ZM172.09 899.61L173.44 901.97L170.74 901.97ZM173.02 900.61L174.37 902.97L171.67 902.97ZM173.96 901.26L175.31 903.62L172.61 903.62ZM174.9 901.77L176.25 904.13L173.55 904.13ZM175.83 902.56L177.18 904.92L174.48 904.92ZM176.77 903.84L178.12 906.2L175.42 906.2ZM177.71 904.91L179.06 907.27L176.36 907.27ZM178.64 906.66L179.99 909.02L177.29 909.02ZM179.58 907.82L180.93 910.18L178.23 910.18ZM180.52 908.97L181.87 911.33L179.17 911.33ZM181.45 909.8L182.8 912.16L180.1 912.16ZM182.39 910.14L183.74 912.5L181.04 912.5ZM183.33 910.27L184.68 912.63L181.98 912.63ZM184.26 911.05L185.61 913.41L182.91 913.41ZM185.2 911.93L186.55 914.29L183.85 914.29ZM186.14 913.13L187.49 915.49L184.79 915.49ZM187.07 913.95L188.42 916.31L185.72 916.31ZM188.01 915.36L189.36 917.72L186.66 917.72ZM188.95 915.34L190.3 917.7L187.6 917.7ZM189.88 914.08L191.23 916.44L188.53 916.44ZM190.82 914.58L192.17 916.94L189.47 916.94ZM191.76 913.39L193.11 915.75L190.41 915.75ZM192.69 913.14L194.04 915.5L191.34 915.5ZM193.63 913.89L194.98 916.25L192.28 916.25ZM194.57 914.77L195.92 917.13L193.22 917.13ZM195.5 916.09L196.85 918.46L194.15 918.46ZM196.44 918.2L197.79 920.57L195.09 920.57ZM197.38 919.18L198.73 921.54L196.03 921.54ZM198.31 918.98L199.66 921.34L196.96 921.34ZM199.25 915.78L200.6 918.15L197.9 918.15ZM200.19 911.15L201.54 913.52L198.84 913.52ZM201.12 911.25L202.47 913.61L199.77 913.61ZM202.06 913.08L203.41 915.44L200.71 915.44ZM203 914.62L204.35 916.98L201.65 916.98ZM203.93 916.09L205.28 918.45L202.58 918.45ZM204.87 917.84L206.22 920.2L203.52 920.2ZM205.81 918.06L207.16 920.43L204.46 920.43ZM206.74 918.35L208.09 920.72L205.39 920.72ZM207.68 918.87L209.03 921.23L206.33 921.23ZM208.62 919.09L209.97 921.46L207.27 921.46ZM209.55 919.73L210.9 922.09L208.2 922.09ZM210.49 919.82L211.84 922.18L209.14 922.18ZM211.43 919.5L212.78 921.86L210.08 921.86ZM212.36 920.19L213.71 922.55L211.01 922.55ZM213.3 919.79L214.65 922.15L211.95 922.15ZM214.24 920.37L215.59 922.73L212.89 922.73ZM215.17 920.59L216.52 922.95L213.82 922.95ZM216.11 921.11L217.46 923.48L214.76 923.48ZM217.05 920.86L218.4 923.22L215.7 923.22ZM217.98 920.6L219.33 922.96L216.63 922.96ZM218.92 920.18L220.27 922.54L217.57 922.54ZM219.86 920.34L221.21 922.7L218.51 922.7ZM220.79 921.08L222.14 923.44L219.44 923.44ZM221.73 921.86L223.08 924.22L220.38 924.22ZM222.67 922.92L224.02 925.29L221.32 925.29ZM223.6 922.65L224.95 925.02L222.25 925.02ZM224.54 922.29L225.89 924.65L223.19 924.65ZM225.48 921.24L226.83 923.6L224.13 923.6ZM226.41 920.27L227.76 922.63L225.06 922.63ZM227.35 920.77L228.7 923.13L226 923.13ZM228.29 921.56L229.64 923.92L226.94 923.92ZM229.22 921.69L230.57 924.06L227.87 924.06ZM230.16 922.34L231.51 924.7L228.81 924.7ZM231.1 922.45L232.45 924.81L229.75 924.81ZM232.03 921.9L233.38 924.26L230.68 924.26ZM232.97 922.45L234.32 924.82L231.62 924.82ZM233.91 922.92L235.26 925.28L232.56 925.28ZM234.84 922.23L236.19 924.59L233.49 924.59ZM235.78 922.53L237.13 924.89L234.43 924.89ZM236.72 923.42L238.07 925.79L235.37 925.79ZM237.65 923.47L239 925.83L236.3 925.83Z" fill="#ff0000"/>
<polyline points="49.38,927.74 50.32,927.65 51.26,927.62 52.19,927.6 53.13,927.31 54.07,926.68 55,926.56 55.94,927.58 56.88,928.7 57.81,927.98 58.75,927.49 59.69,927.77 60.62,927.35 61.56,927.83 62.5,928.42 63.43,928.1 64.37,928.88 65.31,929.63 66.24,929.46 67.18,929.02 68.12,929.11 69.05,930.41 69.99,930.19 70.93,929.59 71.86,928.81 72.8,927.89 73.74,927.42 74.67,927.65 75.61,927.39 76.55,926.4 77.48,927.39 78.42,927.31 79.36,926.28 80.29,926.18 81.23,926.83 82.17,926.73 83.1,927.36 84.04,927.66 84.98,926.94 85.91,926.2 86.85,926.99 87.79,927.34 88.72,927.49 89.66,925.62 90.6,925.83 91.53,924.95 92.47,925.4 93.41,924.8 94.34,923.74 95.28,923 96.22,922.34 97.15,922.49 98.09,922.88 99.03,922.76 99.96,921.65 100.9,920.92 101.84,920.73 102.77,921.25 103.71,920.81 104.65,920.42 105.58,921 106.52,921.22 107.46,920.2 108.39,919.39 109.33,917.66 110.27,917.39 111.2,915.08 112.14,913.5 113.08,911.83 114.01,911.39 114.95,911.05 115.89,910.5 116.82,909.7 117.76,907.56 118.7,905.29 119.63,903.52 120.57,901.57 121.51,899.97 122.44,894.97 123.38,891.09 124.32,888.56 125.25,885.63 126.19,881.61 127.13,875.05 128.06,869.55 129,862.63 129.94,856.58 130.87,845.51 131.81,838.6 132.75,834.26 133.68,826.66 134.62,819.17 135.56,811.56 136.49,806.12 137.43,801.59 138.37,798.35 139.3,794.79 140.24,792.1 141.18,789.88 142.11,788.12 143.05,787.98 143.99,787.15 144.92,787.19 145.86,789.56 146.8,791.63 147.73,794.2 148.67,798.72 149.61,803.34 150.54,809.25 151.48,814.86 152.42,821.97 153.35,828.6 154.29,835.25 155.23,841.62 156.16,847.2 157.1,852.67 158.04,859.89 158.97,866.17 159.91,871.51 160.85,877.15 161.78,881.98 162.72,885.34 163.66,888.08 164.59,891.58 165.53,893.81 166.47,896.99 167.4,898.93 168.34,901.91 169.28,902.92 170.21,903.3 171.15,904.73 172.09,905.86 173.02,906.26 173.96,907.99 174.9,909.52 175.83,911.2 176.77,911.83 177.71,912.41 178.64,913.3 179.58,914.31 180.52,915.53 181.45,916.26 182.39,916.58 183.33,916.34 184.26,917 185.2,918.47 186.14,918.44 187.07,918.66 188.01,919.51 188.95,920.5 189.88,920.24 190.82,919.57 191.76,918.84 192.69,919.78 193.63,918.7 194.57,920.68 195.5,920.72 196.44,922.17 197.38,923.9 198.31,924.48 199.25,922.18 200.19,918.75 201.12,919.03 202.06,920.49 203,919.86 203.93,921.68 204.87,922.53 205.81,924.23 206.74,923.77 207.68,924.03 208.62,924.14 209.55,924.52 210.49,924.81 211.43,924.39 212.36,924.82 213.3,924.72 214.24,924.34 215.17,924.86 216.11,924.51 217.05,924.42 217.98,923.7 218.92,923.69 219.86,924.22 220.79,924.07 221.73,925.38 222.67,926.04 223.6,925.81 224.54,926.14 225.48,925.52 226.41,925.77 227.35,925.52 228.29,925.39 229.22,926.47 230.16,926.48 231.1,926.93 232.03,927.28 232.97,927.43 233.91,926.33 234.84,925.92 235.78,926.73 236.72,927.01 237.65,926.01" fill="none" stroke="#0000ff" stroke-width="0.35"/>
<path d="M49.38 929.02L50.73 926.66L48.03 926.66ZM50.32 928.93L51.67 926.57L48.97 926.57ZM51.26 928.9L52.61 926.54L49.91 926.54ZM52.19 928.88L53.54 926.52L50.84 926.52ZM53.13 928.59L54.48 926.23L51.78 926.23ZM54.07 927.96L55.42 925.6L52.72 925.6ZM55 927.84L56.35 925.48L53.65 925.48ZM55.94 928.87L57.29 926.5L54.59 926.5ZM56.88 929.98L58.23 927.62L55.53 927.62ZM57.81 929.26L59.16 926.9L56.46 926.9ZM58.75 928.77L60.1 926.41L57.4 926.41ZM59.69 929.06L61.04 926.69L58.34 926.69ZM60.62 928.64L61.97 926.27L59.27 926.27ZM61.56 929.12L62.91 926.75L60.21 926.75ZM62.5 929.7L63.85 927.34L61.15 927.34ZM63.43 929.39L64.78 927.02L62.08 927.02ZM64.37 930.16L65.72 927.8L63.02 927.8ZM65.31 930.91L66.66 928.55L63.96 928.55ZM66.24 930.74L67.59 928.38L64.89 928.38ZM67.18 930.3L68.53 927.94L65.83 927.94ZM68.12 930.39L69.47 928.03L66.77 928.03ZM69.05 931.7L70.4 929.33L67.7 929.33ZM69.99 931.48L71.34 929.11L68.64 929.11ZM70.93 930.88L72.28 928.51L69.58 928.51ZM71.86 930.09L73.21 927.73L70.51 927.73ZM72.8 929.18L74.15 926.81L71.45 926.81ZM73.74 928.7L75.09 926.34L72.39 926.34ZM74.67 928.93L76.02 926.57L73.32 926.57ZM75.61 928.68L76.96 926.31L74.26 926.31ZM76.55 927.68L77.9 925.32L75.2 925.32ZM77.48 928.68L78.83 926.31L76.13 926.31ZM78.42 928.59L79.77 926.23L77.07 926.23ZM79.36 927.56L80.71 925.2L78.01 925.2ZM80.29 927.46L81.64 925.1L78.94 925.1ZM81.23 928.12L82.58 925.75L79.88 925.75ZM82.17 928.01L83.52 925.65L80.82 925.65ZM83.1 928.64L84.45 926.28L81.75 926.28ZM84.04 928.94L85.39 926.58L82.69 926.58ZM84.98 928.22L86.33 925.86L83.63 925.86ZM85.91 927.49L87.26 925.12L84.56 925.12ZM86.85 928.27L88.2 925.91L85.5 925.91ZM87.79 928.63L89.14 926.26L86.44 926.26ZM88.72 928.77L90.07 926.41L87.37 926.41ZM89.66 926.91L91.01 924.54L88.31 924.54ZM90.6 927.12L91.95 924.75L89.25 924.75ZM91.53 926.23L92.88 923.87L90.18 923.87ZM92.47 926.68L93.82 924.32L91.12 924.32ZM93.41 926.09L94.76 923.72L92.06 923.72ZM94.34 925.02L95.69 922.66L92.99 922.66ZM95.28 924.28L96.63 921.92L93.93 921.92ZM96.22 923.62L97.57 921.26L94.87 921.26ZM97.15 923.77L98.5 921.41L95.8 921.41ZM98.09 924.16L99.44 921.8L96.74 921.8ZM99.03 924.05L100.38 921.68L97.68 921.68ZM99.96 922.93L101.31 920.57L98.61 920.57ZM100.9 922.21L102.25 919.84L99.55 919.84ZM101.84 922.01L103.19 919.65L100.49 919.65ZM102.77 922.53L104.12 920.17L101.42 920.17ZM103.71 922.1L105.06 919.73L102.36 919.73ZM104.65 921.71L106 919.34L103.3 919.34ZM105.58 922.29L106.93 919.92L104.23 919.92ZM106.52 922.5L107.87 920.14L105.17 920.14ZM107.46 921.48L108.81 919.12L106.11 919.12ZM108.39 920.68L109.74 918.31L107.04 918.31ZM109.33 918.94L110.68 916.58L107.98 916.58ZM110.27 918.68L111.62 916.31L108.92 916.31ZM111.2 916.36L112.55 914L109.85 914ZM112.14 914.78L113.49 912.42L110.79 912.42ZM113.08 913.11L114.43 910.75L111.73 910.75ZM114.01 912.67L115.36 910.31L112.66 910.31ZM114.95 912.33L116.3 909.97L113.6 909.97ZM115.89 911.78L117.24 909.42L114.54 909.42ZM116.82 910.98L118.17 908.62L115.47 908.62ZM117.76 908.84L119.11 906.48L116.41 906.48ZM118.7 906.57L120.05 904.21L117.35 904.21ZM119.63 904.8L120.98 902.44L118.28 902.44ZM120.57 902.86L121.92 900.49L119.22 900.49ZM121.51 901.25L122.86 898.89L120.16 898.89ZM122.44 896.25L123.79 893.89L121.09 893.89ZM123.38 892.38L124.73 890.01L122.03 890.01ZM124.32 889.85L125.67 887.48L122.97 887.48ZM125.25 886.92L126.6 884.55L123.9 884.55ZM126.19 882.89L127.54 880.53L124.84 880.53ZM127.13 876.33L128.48 873.97L125.78 873.97ZM128.06 870.83L129.41 868.47L126.71 868.47ZM129 863.91L130.35 861.55L127.65 861.55ZM129.94 857.86L131.29 855.5L128.59 855.5ZM130.87 846.8L132.22 844.43L129.52 844.43ZM131.81 839.88L133.16 837.52L130.46 837.52ZM132.75 835.54L134.1 833.18L131.4 833.18ZM133.68 827.94L135.03 825.58L132.33 825.58ZM134.62 820.46L135.97 818.09L133.27 818.09ZM135.56 812.84L136.91 810.48L134.21 810.48ZM136.49 807.4L137.84 805.04L135.14 805.04ZM137.43 802.88L138.78 800.51L136.08 800.51ZM138.37 799.63L139.72 797.27L137.02 797.27ZM139.3 796.08L140.65 793.71L137.95 793.71ZM140.24 793.39L141.59 791.02L138.89 791.02ZM141.18 791.16L142.53 788.8L139.83 788.8ZM142.11 789.4L143.46 787.04L140.76 787.04ZM143.05 789.26L144.4 786.9L141.7 786.9ZM143.99 788.43L145.34 786.07L142.64 786.07ZM144.92 788.47L146.27 786.11L143.57 786.11ZM145.86 790.84L147.21 788.48L144.51 788.48ZM146.8 792.91L148.15 790.55L145.45 790.55ZM147.73 795.48L149.08 793.12L146.38 793.12ZM148.67 800L150.02 797.64L147.32 797.64ZM149.61 804.62L150.96 802.26L148.26 802.26ZM150.54 810.53L151.89 808.17L149.19 808.17ZM151.48 816.14L152.83 813.78L150.13 813.78ZM152.42 823.25L153.77 820.89L151.07 820.89ZM153.35 829.88L154.7 827.52L152 827.52ZM154.29 836.53L155.64 834.17L152.94 834.17ZM155.23 842.9L156.58 840.54L153.88 840.54ZM156.16 848.48L157.51 846.12L154.81 846.12ZM157.1 853.95L158.45 851.59L155.75 851.59ZM158.04 861.17L159.39 858.81L156.69 858.81ZM158.97 867.45L160.32 865.09L157.62 865.09ZM159.91 872.79L161.26 870.43L158.56 870.43ZM160.85 878.43L162.2 876.07L159.5 876.07ZM161.78 883.26L163.13 880.9L160.43 880.9ZM162.72 886.63L164.07 884.26L161.37 884.26ZM163.66 889.36L165.01 887L162.31 887ZM164.59 892.86L165.94 890.5L163.24 890.5ZM165.53 895.09L166.88 892.73L164.18 892.73ZM166.47 898.27L167.82 895.91L165.12 895.91ZM167.4 900.21L168.75 897.85L166.05 897.85ZM168.34 903.19L169.69 900.83L166.99 900.83ZM169.28 904.21L170.63 901.84L167.93 901.84ZM170.21 904.58L171.56 902.22L168.86 902.22ZM171.15 906.01L172.5 903.65L169.8 903.65ZM172.09 907.14L173.44 904.78L170.74 904.78ZM173.02 907.54L174.37 905.18L171.67 905.18ZM173.96 909.27L175.31 906.91L172.61 906.91ZM174.9 910.8L176.25 908.44L173.55 908.44ZM175.83 912.48L177.18 910.12L174.48 910.12ZM176.77 913.11L178.12 910.75L175.42 910.75ZM177.71 913.7L179.06 911.33L176.36 911.33ZM178.64 914.58L179.99 912.22L177.29 912.22ZM179.58 915.59L180.93 913.23L178.23 913.23ZM180.52 916.82L181.87 914.45L179.17 914.45ZM181.45 917.54L182.8 915.18L180.1 915.18ZM182.39 917.86L183.74 915.5L181.04 915.5ZM183.33 917.62L184.68 915.26L181.98 915.26ZM184.26 918.28L185.61 915.92L182.91 915.92ZM185.2 919.75L186.55 917.39L183.85 917.39ZM186.14 919.73L187.49 917.36L184.79 917.36ZM187.07 919.94L188.42 917.58L185.72 917.58ZM188.01 920.79L189.36 918.43L186.66 918.43ZM188.95 921.78L190.3 919.42L187.6 919.42ZM189.88 921.52L191.23 919.16L188.53 919.16ZM190.82 920.85L192.17 918.49L189.47 918.49ZM191.76 920.12L193.11 917.76L190.41 917.76ZM192.69 921.06L194.04 918.7L191.34 918.7ZM193.63 919.98L194.98 917.62L192.28 917.62ZM194.57 921.96L195.92 919.6L193.22 919.6ZM195.5 922L196.85 919.64L194.15 919.64ZM196.44 923.45L197.79 921.09L195.09 921.09ZM197.38 925.18L198.73 922.82L196.03 922.82ZM198.31 925.76L199.66 923.4L196.96 923.4ZM199.25 923.46L200.6 921.1L197.9 921.1ZM200.19 920.03L201.54 917.67L198.84 917.67ZM201.12 920.31L202.47 917.95L199.77 917.95ZM202.06 921.77L203.41 919.41L200.71 919.41ZM203 921.14L204.35 918.78L201.65 918.78ZM203.93 922.96L205.28 920.6L202.58 920.6ZM204.87 923.81L206.22 921.45L203.52 921.45ZM205.81 925.51L207.16 923.15L204.46 923.15ZM206.74 925.05L208.09 922.69L205.39 922.69ZM207.68 925.31L209.03 922.95L206.33 922.95ZM208.62 925.43L209.97 923.06L207.27 923.06ZM209.55 925.81L210.9 923.44L208.2 923.44ZM210.49 926.09L211.84 923.73L209.14 923.73ZM211.43 925.67L212.78 923.31L210.08 923.31ZM212.36 926.1L213.71 923.74L211.01 923.74ZM213.3 926L214.65 923.64L211.95 923.64ZM214.24 925.63L215.59 923.26L212.89 923.26ZM215.17 926.14L216.52 923.78L213.82 923.78ZM216.11 925.79L217.46 923.43L214.76 923.43ZM217.05 925.71L218.4 923.34L215.7 923.34ZM217.98 924.98L219.33 922.62L216.63 922.62ZM218.92 924.98L220.27 922.61L217.57 922.61ZM219.86 925.5L221.21 923.14L218.51 923.14ZM220.79 925.35L222.14 922.99L219.44 922.99ZM221.73 926.67L223.08 924.3L220.38 924.3ZM222.67 927.32L224.02 924.96L221.32 924.96ZM223.6 927.09L224.95 924.73L222.25 924.73ZM224.54 927.42L225.89 925.06L223.19 925.06ZM225.48 926.8L226.83 924.44L224.13 924.44ZM226.41 927.06L227.76 924.69L225.06 924.69ZM227.35 926.8L228.7 924.44L226 924.44ZM228.29 926.67L229.64 924.31L226.94 924.31ZM229.22 927.75L230.57 925.39L227.87 925.39ZM230.16 927.77L231.51 925.4L228.81 925.4ZM231.1 928.22L232.45 925.85L229.75 925.85ZM232.03 928.56L233.38 926.2L230.68 926.2ZM232.97 928.71L234.32 926.35L231.62 926.35ZM233.91 927.61L235.26 925.25L232.56 925.25ZM234.84 927.21L236.19 924.84L233.49 924.84ZM235.78 928.01L237.13 925.65L234.43 925.65ZM236.72 928.3L238.07 925.93L235.37 925.93ZM237.65 927.29L239 924.93L236.3 924.93Z" fill="#0000ff"/>
<polyline points="49.38,930.73 50.32,930.33 51.26,930.35 52.19,930.35 53.13,929.87 54.07,929.41 55,929.23 55.94,930.35 56.88,930.53 57.81,930.62 58.75,930.07 59.69,930.38 60.62,930.08 61.56,929.88 62.5,930.42 63.43,930.32 64.37,930.45 65.31,930.21 66.24,929.64 67.18,929.07 68.12,928.87 69.05,928.57 69.99,929.54 70.93,928.47 71.86,928.51 72.8,929.18 73.74,928.48 74.67,929.19 75.61,930.01 76.55,930.18 77.48,930.6 78.42,930.19 79.36,929.94 80.29,929.61 81.23,929.51 82.17,929.85 83.1,929.79 84.04,930.21 84.98,929.28 85.91,929.46 86.85,929.55 87.79,930.73 88.72,930.65 89.66,929.64 90.6,930.06 91.53,930.17 92.47,930.57 93.41,930.29 94.34,929.35 95.28,928.68 96.22,928.08 97.15,927.59 98.09,927.69 99.03,927.91 99.96,927.21 100.9,926.21 101.84,926.35 102.77,926.26 103.71,925.63 104.65,925.84 105.58,926.25 106.52,926.08 107.46,925.63 108.39,925.23 109.33,925.08 110.27,924.6 111.2,924.2 112.14,923.51 113.08,923.52 114.01,923.08 114.95,922.48 115.89,921.03 116.82,920.88 117.76,919.84 118.7,919.23 119.63,918.41 120.57,917.91 121.51,916.26 122.44,913.5 123.38,911.82 124.32,909.18 125.25,907.05 126.19,904.89 127.13,901.79 128.06,898.78 129,896.68 129.94,893 130.87,886.47 131.81,879.55 132.75,873.89 133.68,867.56 134.62,860.25 135.56,853.27 136.49,845.59 137.43,837.67 138.37,831.96 139.3,824.82 140.24,819.59 141.18,814.47 142.11,811.18 143.05,809.85 143.99,810.26 144.92,810.92 145.86,813.06 146.8,817.94 147.73,822.48 148.67,830.44 149.61,836.83 150.54,841.98 151.48,853.21 152.42,858.27 153.35,866.09 154.29,873.14 155.23,878.6 156.16,883.27 157.1,887.43 158.04,891.43 158.97,895.91 159.91,898.24 160.85,901.39 161.78,903.47 162.72,905.85 163.66,908.25 164.59,909.17 165.53,910.42 166.47,910.91 167.4,912.39 168.34,915.71 169.28,916.98 170.21,917.12 171.15,918.09 172.09,918.18 173.02,918.81 173.96,919.44 174.9,919.75 175.83,920.34 176.77,920.99 177.71,921.38 178.64,921.37 179.58,922.28 180.52,923.87 181.45,923.76 182.39,923.92 183.33,924.12 184.26,924.34 185.2,924.51 186.14,924.78 187.07,925.18 188.01,925.68 188.95,926.08 189.88,927.18 190.82,927.17 191.76,926.56 192.69,926.82 193.63,926.92 194.57,927.05 195.5,927.36 196.44,927.95 197.38,927.94 198.31,928.57 199.25,927.98 200.19,925.27 201.12,925.33 202.06,926.84 203,927.52 203.93,928.13 204.87,928.92 205.81,928.45 206.74,928.5 207.68,928.7 208.62,928.86 209.55,928.14 210.49,927.76 211.43,927.58 212.36,927.72 213.3,927.44 214.24,928.22 215.17,928.26 216.11,927.91 217.05,928.39 217.98,928.26 218.92,927.58 219.86,927.92 220.79,928.05 221.73,928.5 222.67,929.06 223.6,930.09 224.54,929.6 225.48,929.67 226.41,929.95 227.35,930.38 228.29,930.82 229.22,930.68 230.16,930.93 231.1,930.35 232.03,930.21 232.97,930.5 233.91,930.15 234.84,929.91 235.78,930.83 236.72,931.48 237.65,931.43" fill="none" stroke="#ff8000" stroke-width="0.35"/>
<path d="M48.32 929.66h2.12v2.12h-2.12ZM49.26 929.27h2.12v2.12h-2.12ZM50.19 929.29h2.12v2.12h-2.12ZM51.13 929.29h2.12v2.12h-2.12ZM52.07 928.8h2.12v2.12h-2.12ZM53 928.35h2.12v2.12h-2.12ZM53.94 928.17h2.12v2.12h-2.12ZM54.88 929.28h2.12v2.12h-2.12ZM55.81 929.47h2.12v2.12h-2.12ZM56.75 929.56h2.12v2.12h-2.12ZM57.69 929.01h2.12v2.12h-2.12ZM58.62 929.32h2.12v2.12h-2.12ZM59.56 929.02h2.12v2.12h-2.12ZM60.5 928.82h2.12v2.12h-2.12ZM61.43 929.36h2.12v2.12h-2.12ZM62.37 929.26h2.12v2.12h-2.12ZM63.31 929.38h2.12v2.12h-2.12ZM64.24 929.15h2.12v2.12h-2.12ZM65.18 928.57h2.12v2.12h-2.12ZM66.12 928.01h2.12v2.12h-2.12ZM67.05 927.81h2.12v2.12h-2.12ZM67.99 927.51h2.12v2.12h-2.12ZM68.93 928.48h2.12v2.12h-2.12ZM69.86 927.4h2.12v2.12h-2.12ZM70.8 927.45h2.12v2.12h-2.12ZM71.74 928.11h2.12v2.12h-2.12ZM72.67 927.42h2.12v2.12h-2.12ZM73.61 928.13h2.12v2.12h-2.12ZM74.55 928.95h2.12v2.12h-2.12ZM75.48 929.12h2.12v2.12h-2.12ZM76.42 929.54h2.12v2.12h-2.12ZM77.36 929.12h2.12v2.12h-2.12ZM78.29 928.88h2.12v2.12h-2.12ZM79.23 928.54h2.12v2.12h-2.12ZM80.17 928.45h2.12v2.12h-2.12ZM81.1 928.79h2.12v2.12h-2.12ZM82.04 928.73h2.12v2.12h-2.12ZM82.98 929.15h2.12v2.12h-2.12ZM83.91 928.22h2.12v2.12h-2.12ZM84.85 928.4h2.12v2.12h-2.12ZM85.79 928.48h2.12v2.12h-2.12ZM86.72 929.67h2.12v2.12h-2.12ZM87.66 929.58h2.12v2.12h-2.12ZM88.6 928.58h2.12v2.12h-2.12ZM89.53 929h2.12v2.12h-2.12ZM90.47 929.11h2.12v2.12h-2.12ZM91.41 929.51h2.12v2.12h-2.12ZM92.34 929.22h2.12v2.12h-2.12ZM93.28 928.29h2.12v2.12h-2.12ZM94.22 927.62h2.12v2.12h-2.12ZM95.15 927.02h2.12v2.12h-2.12ZM96.09 926.53h2.12v2.12h-2.12ZM97.03 926.62h2.12v2.12h-2.12ZM97.96 926.85h2.12v2.12h-2.12ZM98.9 926.15h2.12v2.12h-2.12ZM99.84 925.15h2.12v2.12h-2.12ZM100.77 925.29h2.12v2.12h-2.12ZM101.71 925.19h2.12v2.12h-2.12ZM102.65 924.57h2.12v2.12h-2.12ZM103.58 924.78h2.12v2.12h-2.12ZM104.52 925.19h2.12v2.12h-2.12ZM105.46 925.02h2.12v2.12h-2.12ZM106.39 924.57h2.12v2.12h-2.12ZM107.33 924.17h2.12v2.12h-2.12ZM108.27 924.02h2.12v2.12h-2.12ZM109.2 923.54h2.12v2.12h-2.12ZM110.14 923.14h2.12v2.12h-2.12ZM111.08 922.45h2.12v2.12h-2.12ZM112.01 922.46h2.12v2.12h-2.12ZM112.95 922.02h2.12v2.12h-2.12ZM113.89 921.42h2.12v2.12h-2.12ZM114.82 919.97h2.12v2.12h-2.12ZM115.76 919.82h2.12v2.12h-2.12ZM116.7 918.78h2.12v2.12h-2.12ZM117.63 918.17h2.12v2.12h-2.12ZM118.57 917.35h2.12v2.12h-2.12ZM119.51 916.85h2.12v2.12h-2.12ZM120.44 915.19h2.12v2.12h-2.12ZM121.38 912.44h2.12v2.12h-2.12ZM122.32 910.76h2.12v2.12h-2.12ZM123.25 908.11h2.12v2.12h-2.12ZM124.19 905.99h2.12v2.12h-2.12ZM125.13 903.83h2.12v2.12h-2.12ZM126.06 900.73h2.12v2.12h-2.12ZM127 897.72h2.12v2.12h-2.12ZM127.94 895.61h2.12v2.12h-2.12ZM128.87 891.94h2.12v2.12h-2.12ZM129.81 885.4h2.12v2.12h-2.12ZM130.75 878.49h2.12v2.12h-2.12ZM131.68 872.83h2.12v2.12h-2.12ZM132.62 866.5h2.12v2.12h-2.12ZM133.56 859.19h2.12v2.12h-2.12ZM134.49 852.2h2.12v2.12h-2.12ZM135.43 844.53h2.12v2.12h-2.12ZM136.37 836.61h2.12v2.12h-2.12ZM137.3 830.89h2.12v2.12h-2.12ZM138.24 823.76h2.12v2.12h-2.12ZM139.18 818.52h2.12v2.12h-2.12ZM140.11 813.41h2.12v2.12h-2.12ZM141.05 810.12h2.12v2.12h-2.12ZM141.99 808.79h2.12v2.12h-2.12ZM142.92 809.19h2.12v2.12h-2.12ZM143.86 809.86h2.12v2.12h-2.12ZM144.8 811.99h2.12v2.12h-2.12ZM145.73 816.88h2.12v2.12h-2.12ZM146.67 821.42h2.12v2.12h-2.12ZM147.61 829.37h2.12v2.12h-2.12ZM148.54 835.76h2.12v2.12h-2.12ZM149.48 840.91h2.12v2.12h-2.12ZM150.42 852.14h2.12v2.12h-2.12ZM151.35 857.21h2.12v2.12h-2.12ZM152.29 865.03h2.12v2.12h-2.12ZM153.23 872.08h2.12v2.12h-2.12ZM154.16 877.54h2.12v2.12h-2.12ZM155.1 882.21h2.12v2.12h-2.12ZM156.04 886.37h2.12v2.12h-2.12ZM156.97 890.37h2.12v2.12h-2.12ZM157.91 894.84h2.12v2.12h-2.12ZM158.85 897.18h2.12v2.12h-2.12ZM159.78 900.33h2.12v2.12h-2.12ZM160.72 902.41h2.12v2.12h-2.12ZM161.66 904.78h2.12v2.12h-2.12ZM162.59 907.19h2.12v2.12h-2.12ZM163.53 908.11h2.12v2.12h-2.12ZM164.47 909.36h2.12v2.12h-2.12ZM165.4 909.85h2.12v2.12h-2.12ZM166.34 911.33h2.12v2.12h-2.12ZM167.28 914.65h2.12v2.12h-2.12ZM168.21 915.92h2.12v2.12h-2.12ZM169.15 916.06h2.12v2.12h-2.12ZM170.09 917.02h2.12v2.12h-2.12ZM171.02 917.12h2.12v2.12h-2.12ZM171.96 917.75h2.12v2.12h-2.12ZM172.9 918.38h2.12v2.12h-2.12ZM173.83 918.69h2.12v2.12h-2.12ZM174.77 919.28h2.12v2.12h-2.12ZM175.71 919.93h2.12v2.12h-2.12ZM176.64 920.31h2.12v2.12h-2.12ZM177.58 920.31h2.12v2.12h-2.12ZM178.52 921.22h2.12v2.12h-2.12ZM179.45 922.8h2.12v2.12h-2.12ZM180.39 922.69h2.12v2.12h-2.12ZM181.33 922.85h2.12v2.12h-2.12ZM182.26 923.06h2.12v2.12h-2.12ZM183.2 923.28h2.12v2.12h-2.12ZM184.14 923.45h2.12v2.12h-2.12ZM185.07 923.72h2.12v2.12h-2.12ZM186.01 924.12h2.12v2.12h-2.12ZM186.95 924.61h2.12v2.12h-2.12ZM187.88 925.02h2.12v2.12h-2.12ZM188.82 926.12h2.12v2.12h-2.12ZM189.76 926.1h2.12v2.12h-2.12ZM190.69 925.5h2.12v2.12h-2.12ZM191.63 925.76h2.12v2.12h-2.12ZM192.57 925.86h2.12v2.12h-2.12ZM193.5 925.98h2.12v2.12h-2.12ZM194.44 926.3h2.12v2.12h-2.12ZM195.38 926.89h2.12v2.12h-2.12ZM196.31 926.88h2.12v2.12h-2.12ZM197.25 927.51h2.12v2.12h-2.12ZM198.19 926.92h2.12v2.12h-2.12ZM199.12 924.21h2.12v2.12h-2.12ZM200.06 924.27h2.12v2.12h-2.12ZM201 925.78h2.12v2.12h-2.12ZM201.93 926.46h2.12v2.12h-2.12ZM202.87 927.07h2.12v2.12h-2.12ZM203.81 927.86h2.12v2.12h-2.12ZM204.74 927.39h2.12v2.12h-2.12ZM205.68 927.44h2.12v2.12h-2.12ZM206.62 927.64h2.12v2.12h-2.12ZM207.55 927.8h2.12v2.12h-2.12ZM208.49 927.08h2.12v2.12h-2.12ZM209.43 926.7h2.12v2.12h-2.12ZM210.36 926.52h2.12v2.12h-2.12ZM211.3 926.66h2.12v2.12h-2.12ZM212.24 926.37h2.12v2.12h-2.12ZM213.17 927.16h2.12v2.12h-2.12ZM214.11 927.2h2.12v2.12h-2.12ZM215.05 926.84h2.12v2.12h-2.12ZM215.98 927.33h2.12v2.12h-2.12ZM216.92 927.2h2.12v2.12h-2.12ZM217.86 926.52h2.12v2.12h-2.12ZM218.79 926.86h2.12v2.12h-2.12ZM219.73 926.99h2.12v2.12h-2.12ZM220.67 927.44h2.12v2.12h-2.12ZM221.6 927.99h2.12v2.12h-2.12ZM222.54 929.03h2.12v2.12h-2.12ZM223.48 928.54h2.12v2.12h-2.12ZM224.41 928.6h2.12v2.12h-2.12ZM225.35 928.89h2.12v2.12h-2.12ZM226.29 929.31h2.12v2.12h-2.12ZM227.22 929.76h2.12v2.12h-2.12ZM228.16 929.61h2.12v2.12h-2.12ZM229.1 929.87h2.12v2.12h-2.12ZM230.03 929.29h2.12v2.12h-2.12ZM230.97 929.15h2.12v2.12h-2.12ZM231.91 929.43h2.12v2.12h-2.12ZM232.84 929.09h2.12v2.12h-2.12ZM233.78 928.85h2.12v2.12h-2.12ZM234.72 929.77h2.12v2.12h-2.12ZM235.65 930.42h2.12v2.12h-2.12ZM236.59 930.37h2.12v2.12h-2.12Z" fill="#ff8000"/>
<polyline points="49.38,934.19 50.32,933.74 51.26,933.45 52.19,933.83 53.13,933.23 54.07,932.13 55,932.34 55.94,932.9 56.88,933.59 57.81,933.29 58.75,932.9 59.69,932.34 60.62,932.97 61.56,933.05 62.5,933.41 63.43,933.7 64.37,933.97 65.31,934.66 66.24,934.28 67.18,934.42 68.12,934.12 69.05,934.93 69.99,935.26 70.93,935.23 71.86,933.98 72.8,933.47 73.74,933.39 74.67,933.58 75.61,932.42 76.55,932.77 77.48,932.98 78.42,932.55 79.36,931.9 80.29,931.61 81.23,932.21 82.17,932.44 83.1,932.36 84.04,932.61 84.98,932.45 85.91,932.06 86.85,932.55 87.79,933.08 88.72,932.88 89.66,933.05 90.6,932.35 91.53,933.04 92.47,933.69 93.41,932.96 94.34,932.85 95.28,932.32 96.22,931.75 97.15,931.48 98.09,931.67 99.03,931.78 99.96,931 100.9,930.98 101.84,930.55 102.77,931.36 103.71,931.11 104.65,931 105.58,931.55 106.52,931.56 107.46,930.92 108.39,930.23 109.33,929.83 110.27,929.42 111.2,929.33 112.14,928.91 113.08,928.82 114.01,928.34 114.95,928.39 115.89,927.18 116.82,927.51 117.76,927.17 118.7,926.29 119.63,925.69 120.57,925.19 121.51,923.93 122.44,922.39 123.38,920.37 124.32,919.38 125.25,919.1 126.19,917.56 127.13,916.29 128.06,914.45 129,912.73 129.94,910.53 130.87,907.21 131.81,903.84 132.75,898.96 133.68,894.18 134.62,889.5 135.56,885.56 136.49,879.65 137.43,873.91 138.37,868.91 139.3,863.65 140.24,859.66 141.18,853.98 142.11,850.93 143.05,848.96 143.99,849.51 144.92,850.48 145.86,853.99 146.8,858.74 147.73,864.56 148.67,869.38 149.61,873.48 150.54,879.33 151.48,884.43 152.42,889.28 153.35,894.02 154.29,898 155.23,901.53 156.16,904.99 157.1,907.64 158.04,909.32 158.97,911.76 159.91,913.8 160.85,915.46 161.78,917.53 162.72,918.47 163.66,919.79 164.59,920.83 165.53,921.11 166.47,922.29 167.4,922.56 168.34,924.11 169.28,924.83 170.21,924.64 171.15,924.64 172.09,925.17 173.02,925.74 173.96,925.55 174.9,925.71 175.83,926.95 176.77,927.45 177.71,927 178.64,927.03 179.58,928 180.52,929.1 181.45,929.51 182.39,928.77 183.33,928.59 184.26,928.61 185.2,929.1 186.14,929.82 187.07,929.48 188.01,929.66 188.95,930.3 189.88,930.79 190.82,931.22 191.76,931.2 192.69,930.67 193.63,931.45 194.57,932.05 195.5,931.46 196.44,932.33 197.38,932.77 198.31,933.44 199.25,932.71 200.19,930.22 201.12,928.95 202.06,929.51 203,931.19 203.93,931.21 204.87,932.01 205.81,931.96 206.74,931.57 207.68,931.91 208.62,932.12 209.55,930.91 210.49,931.26 211.43,930.85 212.36,930.68 213.3,930.53 214.24,931.28 215.17,931.16 216.11,931.51 217.05,930.91 217.98,931.08 218.92,930.47 219.86,929.67 220.79,929.96 221.73,930.38 222.67,930.46 223.6,931.05 224.54,931.28 225.48,931.18 226.41,932.23 227.35,932.47 228.29,933.14 229.22,933.77 230.16,933.71 231.1,933.16 232.03,933.09 232.97,933.3 233.91,932.76 234.84,933.5 235.78,933.68 236.72,934.07 237.65,934.11" fill="none" stroke="#008000" stroke-width="0.35"/>
<path d="M48.19 934.19a1.2 1.2 0 1 0 2.39 0a1.2 1.2 0 1 0 -2.39 0ZM49.12 933.74a1.2 1.2 0 1 0 2.39 0a1.2 1.2 0 1 0 -2.39 0ZM50.06 933.45a1.2 1.2 0 1 0 2.39 0a1.2 1.2 0 1 0 -2.39 0ZM51 933.83a1.2 1.2 0 1 0 2.39 0a1.2 1.2 0 1 0 -2.39 0ZM51.93 933.23a1.2 1.2 0 1 0 2.39 0a1.2 1.2 0 1 0 -2.39 0ZM52.87 932.13a1.2 1.2 0 1 0 2.39 0a1.2 1.2 0 1 0 -2.39 0ZM53.81 932.34a1.2 1.2 0 1 0 2.39 0a1.2 1.2 0 1 0 -2.39 0ZM54.74 932.9a1.2 1.2 0 1 0 2.39 0a1.2 1.2 0 1 0 -2.39 0ZM55.68 933.59a1.2 1.2 0 1 0 2.39 0a1.2 1.2 0 1 0 -2.39 0ZM56.62 933.29a1.2 1.2 0 1 0 2.39 0a1.2 1.2 0 1 0 -2.39 0ZM57.55 932.9a1.2 1.2 0 1 0 2.39 0a1.2 1.2 0 1 0 -2.39 0ZM58.49 932.34a1.2 1.2 0 1 0 2.39 0a1.2 1.2 0 1 0 -2.39 0ZM59.43 932.97a1.2 1.2 0 1 0 2.39 0a1.2 1.2 0 1 0 -2.39 0ZM60.36 933.05a1.2 1.2 0 1 0 2.39 0a1.2 1.2 0 1 0 -2.39 0ZM61.3 933.41a1.2 1.2 0 1 0 2.39 0a1.2 1.2 0 1 0 -2.39 0ZM62.24 933.7a1.2 1.2 0 1 0 2.39 0a1.2 1.2 0 1 0 -2.39 0ZM63.17 933.97a1.2 1.2 0 1 0 2.39 0a1.2 1.2 0 1 0 -2.39 0ZM64.11 934.66a1.2 1.2 0 1 0 2.39 0a1.2 1.2 0 1 0 -2.39 0ZM65.05 934.28a1.2 1.2 0 1 0 2.39 0a1.2 1.2 0 1 0 -2.39 0ZM65.98 934.42a1.2 1.2 0 1 0 2.39 0a1.2 1.2 0 1 0 -2.39 0ZM66.92 934.12a1.2 1.2 0 1 0 2.39 0a1.2 1.2 0 1 0 -2.39 0ZM67.86 934.93a1.2 1.2 0 1 0 2.39 0a1.2 1.2 0 1 0 -2.39 0ZM68.79 935.26a1.2 1.2 0 1 0 2.39 0a1.2 1.2 0 1 0 -2.39 0ZM69.73 935.23a1.2 1.2 0 1 0 2.39 0a1.2 1.2 0 1 0 -2.39 0ZM70.67 933.98a1.2 1.2 0 1 0 2.39 0a1.2 1.2 0 1 0 -2.39 0ZM71.6 933.47a1.2 1.2 0 1 0 2.39 0a1.2 1.2 0 1 0 -2.39 0ZM72.54 933.39a1.2 1.2 0 1 0 2.39 0a1.2 1.2 0 1 0 -2.39 0ZM73.48 933.58a1.2 1.2 0 1 0 2.39 0a1.2 1.2 0 1 0 -2.39 0ZM74.41 932.42a1.2 1.2 0 1 0 2.39 0a1.2 1.2 0 1 0 -2.39 0ZM75.35 932.77a1.2 1.2 0 1 0 2.39 0a1.2 1.2 0 1 0 -2.39 0ZM76.29 932.98a1.2 1.2 0 1 0 2.39 0a1.2 1.2 0 1 0 -2.39 0ZM77.22 932.55a1.2 1.2 0 1 0 2.39 0a1.2 1.2 0 1 0 -2.39 0ZM78.16 931.9a1.2 1.2 0 1 0 2.39 0a1.2 1.2 0 1 0 -2.39 0ZM79.1 931.61a1.2 1.2 0 1 0 2.39 0a1.2 1.2 0 1 0 -2.39 0ZM80.03 932.21a1.2 1.2 0 1 0 2.39 0a1.2 1.2 0 1 0 -2.39 0ZM80.97 932.44a1.2 1.2 0 1 0 2.39 0a1.2 1.2 0 1 0 -2.39 0ZM81.91 932.36a1.2 1.2 0 1 0 2.39 0a1.2 1.2 0 1 0 -2.39 0ZM82.84 932.61a1.2 1.2 0 1 0 2.39 0a1.2 1.2 0 1 0 -2.39 0ZM83.78 932.45a1.2 1.2 0 1 0 2.39 0a1.2 1.2 0 1 0 -2.39 0ZM84.72 932.06a1.2 1.2 0 1 0 2.39 0a1.2 1.2 0 1 0 -2.39 0ZM85.65 932.55a1.2 1.2 0 1 0 2.39 0a1.2 1.2 0 1 0 -2.39 0ZM86.59 933.08a1.2 1.2 0 1 0 2.39 0a1.2 1.2 0 1 0 -2.39 0ZM87.53 932.88a1.2 1.2 0 1 0 2.39 0a1.2 1.2 0 1 0 -2.39 0ZM88.46 933.05a1.2 1.2 0 1 0 2.39 0a1.2 1.2 0 1 0 -2.39 0ZM89.4 932.35a1.2 1.2 0 1 0 2.39 0a1.2 1.2 0 1 0 -2.39 0ZM90.34 933.04a1.2 1.2 0 1 0 2.39 0a1.2 1.2 0 1 0 -2.39 0ZM91.27 933.69a1.2 1.2 0 1 0 2.39 0a1.2 1.2 0 1 0 -2.39 0ZM92.21 932.96a1.2 1.2 0 1 0 2.39 0a1.2 1.2 0 1 0 -2.39 0ZM93.15 932.85a1.2 1.2 0 1 0 2.39 0a1.2 1.2 0 1 0 -2.39 0ZM94.08 932.32a1.2 1.2 0 1 0 2.39 0a1.2 1.2 0 1 0 -2.39 0ZM95.02 931.75a1.2 1.2 0 1 0 2.39 0a1.2 1.2 0 1 0 -2.39 0ZM95.96 931.48a1.2 1.2 0 1 0 2.39 0a1.2 1.2 0 1 0 -2.39 0ZM96.89 931.67a1.2 1.2 0 1 0 2.39 0a1.2 1.2 0 1 0 -2.39 0ZM97.83 931.78a1.2 1.2 0 1 0 2.39 0a1.2 1.2 0 1 0 -2.39 0ZM98.77 931a1.2 1.2 0 1 0 2.39 0a1.2 1.2 0 1 0 -2.39 0ZM99.7 930.98a1.2 1.2 0 1 0 2.39 0a1.2 1.2 0 1 0 -2.39 0ZM100.64 930.55a1.2 1.2 0 1 0 2.39 0a1.2 1.2 0 1 0 -2.39 0ZM101.58 931.36a1.2 1.2 0 1 0 2.39 0a1.2 1.2 0 1 0 -2.39 0ZM102.51 931.11a1.2 1.2 0 1 0 2.39 0a1.2 1.2 0 1 0 -2.39 0ZM103.45 931a1.2 1.2 0 1 0 2.39 0a1.2 1.2 0 1 0 -2.39 0ZM104.39 931.55a1.2 1.2 0 1 0 2.39 0a1.2 1.2 0 1 0 -2.39 0ZM105.32 931.56a1.2 1.2 0 1 0 2.39 0a1.2 1.2 0 1 0 -2.39 0ZM106.26 930.92a1.2 1.2 0 1 0 2.39 0a1.2 1.2 0 1 0 -2.39 0ZM107.2 930.23a1.2 1.2 0 1 0 2.39 0a1.2 1.2 0 1 0 -2.39 0ZM108.13 929.83a1.2 1.2 0 1 0 2.39 0a1.2 1.2 0 1 0 -2.39 0ZM109.07 929.42a1.2 1.2 0 1 0 2.39 0a1.2 1.2 0 1 0 -2.39 0ZM110.01 929.33a1.2 1.2 0 1 0 2.39 0a1.2 1.2 0 1 0 -2.39 0ZM110.94 928.91a1.2 1.2 0 1 0 2.39 0a1.2 1.2 0 1 0 -2.39 0ZM111.88 928.82a1.2 1.2 0 1 0 2.39 0a1.2 1.2 0 1 0 -2.39 0ZM112.82 928.34a1.2 1.2 0 1 0 2.39 0a1.2 1.2 0 1 0 -2.39 0ZM113.75 928.39a1.2 1.2 0 1 0 2.39 0a1.2 1.2 0 1 0 -2.39 0ZM114.69 927.18a1.2 1.2 0 1 0 2.39 0a1.2 1.2 0 1 0 -2.39 0ZM115.63 927.51a1.2 1.2 0 1 0 2.39 0a1.2 1.2 0 1 0 -2.39 0ZM116.56 927.17a1.2 1.2 0 1 0 2.39 0a1.2 1.2 0 1 0 -2.39 0ZM117.5 926.29a1.2 1.2 0 1 0 2.39 0a1.2 1.2 0 1 0 -2.39 0ZM118.44 925.69a1.2 1.2 0 1 0 2.39 0a1.2 1.2 0 1 0 -2.39 0ZM119.37 925.19a1.2 1.2 0 1 0 2.39 0a1.2 1.2 0 1 0 -2.39 0ZM120.31 923.93a1.2 1.2 0 1 0 2.39 0a1.2 1.2 0 1 0 -2.39 0ZM121.25 922.39a1.2 1.2 0 1 0 2.39 0a1.2 1.2 0 1 0 -2.39 0ZM122.18 920.37a1.2 1.2 0 1 0 2.39 0a1.2 1.2 0 1 0 -2.39 0ZM123.12 919.38a1.2 1.2 0 1 0 2.39 0a1.2 1.2 0 1 0 -2.39 0ZM124.06 919.1a1.2 1.2 0 1 0 2.39 0a1.2 1.2 0 1 0 -2.39 0ZM124.99 917.56a1.2 1.2 0 1 0 2.39 0a1.2 1.2 0 1 0 -2.39 0ZM125.93 916.29a1.2 1.2 0 1 0 2.39 0a1.2 1.2 0 1 0 -2.39 0ZM126.87 914.45a1.2 1.2 0 1 0 2.39 0a1.2 1.2 0 1 0 -2.39 0ZM127.8 912.73a1.2 1.2 0 1 0 2.39 0a1.2 1.2 0 1 0 -2.39 0ZM128.74 910.53a1.2 1.2 0 1 0 2.39 0a1.2 1.2 0 1 0 -2.39 0ZM129.68 907.21a1.2 1.2 0 1 0 2.39 0a1.2 1.2 0 1 0 -2.39 0ZM130.61 903.84a1.2 1.2 0 1 0 2.39 0a1.2 1.2 0 1 0 -2.39 0ZM131.55 898.96a1.2 1.2 0 1 0 2.39 0a1.2 1.2 0 1 0 -2.39 0ZM132.49 894.18a1.2 1.2 0 1 0 2.39 0a1.2 1.2 0 1 0 -2.39 0ZM133.42 889.5a1.2 1.2 0 1 0 2.39 0a1.2 1.2 0 1 0 -2.39 0ZM134.36 885.56a1.2 1.2 0 1 0 2.39 0a1.2 1.2 0 1 0 -2.39 0ZM135.3 879.65a1.2 1.2 0 1 0 2.39 0a1.2 1.2 0 1 0 -2.39 0ZM136.23 873.91a1.2 1.2 0 1 0 2.39 0a1.2 1.2 0 1 0 -2.39 0ZM137.17 868.91a1.2 1.2 0 1 0 2.39 0a1.2 1.2 0 1 0 -2.39 0ZM138.11 863.65a1.2 1.2 0 1 0 2.39 0a1.2 1.2 0 1 0 -2.39 0ZM139.04 859.66a1.2 1.2 0 1 0 2.39 0a1.2 1.2 0 1 0 -2.39 0ZM139.98 853.98a1.2 1.2 0 1 0 2.39 0a1.2 1.2 0 1 0 -2.39 0ZM140.92 850.93a1.2 1.2 0 1 0 2.39 0a1.2 1.2 0 1 0 -2.39 0ZM141.85 848.96a1.2 1.2 0 1 0 2.39 0a1.2 1.2 0 1 0 -2.39 0ZM142.79 849.51a1.2 1.2 0 1 0 2.39 0a1.2 1.2 0 1 0 -2.39 0ZM143.73 850.48a1.2 1.2 0 1 0 2.39 0a1.2 1.2 0 1 0 -2.39 0ZM144.66 853.99a1.2 1.2 0 1 0 2.39 0a1.2 1.2 0 1 0 -2.39 0ZM145.6 858.74a1.2 1.2 0 1 0 2.39 0a1.2 1.2 0 1 0 -2.39 0ZM146.54 864.56a1.2 1.2 0 1 0 2.39 0a1.2 1.2 0 1 0 -2.39 0ZM147.47 869.38a1.2 1.2 0 1 0 2.39 0a1.2 1.2 0 1 0 -2.39 0ZM148.41 873.48a1.2 1.2 0 1 0 2.39 0a1.2 1.2 0 1 0 -2.39 0ZM149.35 879.33a1.2 1.2 0 1 0 2.39 0a1.2 1.2 0 1 0 -2.39 0ZM150.28 884.43a1.2 1.2 0 1 0 2.39 0a1.2 1.2 0 1 0 -2.39 0ZM151.22 889.28a1.2 1.2 0 1 0 2.39 0a1.2 1.2 0 1 0 -2.39 0ZM152.16 894.02a1.2 1.2 0 1 0 2.39 0a1.2 1.2 0 1 0 -2.39 0ZM153.09 898a1.2 1.2 0 1 0 2.39 0a1.2 1.2 0 1 0 -2.39 0ZM154.03 901.53a1.2 1.2 0 1 0 2.39 0a1.2 1.2 0 1 0 -2.39 0ZM154.97 904.99a1.2 1.2 0 1 0 2.39 0a1.2 1.2 0 1 0 -2.39 0ZM155.9 907.64a1.2 1.2 0 1 0 2.39 0a1.2 1.2 0 1 0 -2.39 0ZM156.84 909.32a1.2 1.2 0 1 0 2.39 0a1.2 1.2 0 1 0 -2.39 0ZM157.78 911.76a1.2 1.2 0 1 0 2.39 0a1.2 1.2 0 1 0 -2.39 0ZM158.71 913.8a1.2 1.2 0 1 0 2.39 0a1.2 1.2 0 1 0 -2.39 0ZM159.65 915.46a1.2 1.2 0 1 0 2.39 0a1.2 1.2 0 1 0 -2.39 0ZM160.59 917.53a1.2 1.2 0 1 0 2.39 0a1.2 1.2 0 1 0 -2.39 0ZM161.52 918.47a1.2 1.2 0 1 0 2.39 0a1.2 1.2 0 1 0 -2.39 0ZM162.46 919.79a1.2 1.2 0 1 0 2.39 0a1.2 1.2 0 1 0 -2.39 0ZM163.4 920.83a1.2 1.2 0 1 0 2.39 0a1.2 1.2 0 1 0 -2.39 0ZM164.33 921.11a1.2 1.2 0 1 0 2.39 0a1.2 1.2 0 1 0 -2.39 0ZM165.27 922.29a1.2 1.2 0 1 0 2.39 0a1.2 1.2 0 1 0 -2.39 0ZM166.21 922.56a1.2 1.2 0 1 0 2.39 0a1.2 1.2 0 1 0 -2.39 0ZM167.14 924.11a1.2 1.2 0 1 0 2.39 0a1.2 1.2 0 1 0 -2.39 0ZM168.08 924.83a1.2 1.2 0 1 0 2.39 0a1.2 1.2 0 1 0 -2.39 0ZM169.02 924.64a1.2 1.2 0 1 0 2.39 0a1.2 1.2 0 1 0 -2.39 0ZM169.95 924.64a1.2 1.2 0 1 0 2.39 0a1.2 1.2 0 1 0 -2.39 0ZM170.89 925.17a1.2 1.2 0 1 0 2.39 0a1.2 1.2 0 1 0 -2.39 0ZM171.83 925.74a1.2 1.2 0 1 0 2.39 0a1.2 1.2 0 1 0 -2.39 0ZM172.76 925.55a1.2 1.2 0 1 0 2.39 0a1.2 1.2 0 1 0 -2.39 0ZM173.7 925.71a1.2 1.2 0 1 0 2.39 0a1.2 1.2 0 1 0 -2.39 0ZM174.64 926.95a1.2 1.2 0 1 0 2.39 0a1.2 1.2 0 1 0 -2.39 0ZM175.57 927.45a1.2 1.2 0 1 0 2.39 0a1.2 1.2 0 1 0 -2.39 0ZM176.51 927a1.2 1.2 0 1 0 2.39 0a1.2 1.2 0 1 0 -2.39 0ZM177.45 927.03a1.2 1.2 0 1 0 2.39 0a1.2 1.2 0 1 0 -2.39 0ZM178.38 928a1.2 1.2 0 1 0 2.39 0a1.2 1.2 0 1 0 -2.39 0ZM179.32 929.1a1.2 1.2 0 1 0 2.39 0a1.2 1.2 0 1 0 -2.39 0ZM180.26 929.51a1.2 1.2 0 1 0 2.39 0a1.2 1.2 0 1 0 -2.39 0ZM181.19 928.77a1.2 1.2 0 1 0 2.39 0a1.2 1.2 0 1 0 -2.39 0ZM182.13 928.59a1.2 1.2 0 1 0 2.39 0a1.2 1.2 0 1 0 -2.39 0ZM183.07 928.61a1.2 1.2 0 1 0 2.39 0a1.2 1.2 0 1 0 -2.39 0ZM184 929.1a1.2 1.2 0 1 0 2.39 0a1.2 1.2 0 1 0 -2.39 0ZM184.94 929.82a1.2 1.2 0 1 0 2.39 0a1.2 1.2 0 1 0 -2.39 0ZM185.88 929.48a1.2 1.2 0 1 0 2.39 0a1.2 1.2 0 1 0 -2.39 0ZM186.81 929.66a1.2 1.2 0 1 0 2.39 0a1.2 1.2 0 1 0 -2.39 0ZM187.75 930.3a1.2 1.2 0 1 0 2.39 0a1.2 1.2 0 1 0 -2.39 0ZM188.69 930.79a1.2 1.2 0 1 0 2.39 0a1.2 1.2 0 1 0 -2.39 0ZM189.62 931.22a1.2 1.2 0 1 0 2.39 0a1.2 1.2 0 1 0 -2.39 0ZM190.56 931.2a1.2 1.2 0 1 0 2.39 0a1.2 1.2 0 1 0 -2.39 0ZM191.5 930.67a1.2 1.2 0 1 0 2.39 0a1.2 1.2 0 1 0 -2.39 0ZM192.43 931.45a1.2 1.2 0 1 0 2.39 0a1.2 1.2 0 1 0 -2.39 0ZM193.37 932.05a1.2 1.2 0 1 0 2.39 0a1.2 1.2 0 1 0 -2.39 0ZM194.31 931.46a1.2 1.2 0 1 0 2.39 0a1.2 1.2 0 1 0 -2.39 0ZM195.24 932.33a1.2 1.2 0 1 0 2.39 0a1.2 1.2 0 1 0 -2.39 0ZM196.18 932.77a1.2 1.2 0 1 0 2.39 0a1.2 1.2 0 1 0 -2.39 0ZM197.12 933.44a1.2 1.2 0 1 0 2.39 0a1.2 1.2 0 1 0 -2.39 0ZM198.05 932.71a1.2 1.2 0 1 0 2.39 0a1.2 1.2 0 1 0 -2.39 0ZM198.99 930.22a1.2 1.2 0 1 0 2.39 0a1.2 1.2 0 1 0 -2.39 0ZM199.93 928.95a1.2 1.2 0 1 0 2.39 0a1.2 1.2 0 1 0 -2.39 0ZM200.86 929.51a1.2 1.2 0 1 0 2.39 0a1.2 1.2 0 1 0 -2.39 0ZM201.8 931.19a1.2 1.2 0 1 0 2.39 0a1.2 1.2 0 1 0 -2.39 0ZM202.74 931.21a1.2 1.2 0 1 0 2.39 0a1.2 1.2 0 1 0 -2.39 0ZM203.67 932.01a1.2 1.2 0 1 0 2.39 0a1.2 1.2 0 1 0 -2.39 0ZM204.61 931.96a1.2 1.2 0 1 0 2.39 0a1.2 1.2 0 1 0 -2.39 0ZM205.55 931.57a1.2 1.2 0 1 0 2.39 0a1.2 1.2 0 1 0 -2.39 0ZM206.48 931.91a1.2 1.2 0 1 0 2.39 0a1.2 1.2 0 1 0 -2.39 0ZM207.42 932.12a1.2 1.2 0 1 0 2.39 0a1.2 1.2 0 1 0 -2.39 0ZM208.36 930.91a1.2 1.2 0 1 0 2.39 0a1.2 1.2 0 1 0 -2.39 0ZM209.29 931.26a1.2 1.2 0 1 0 2.39 0a1.2 1.2 0 1 0 -2.39 0ZM210.23 930.85a1.2 1.2 0 1 0 2.39 0a1.2 1.2 0 1 0 -2.39 0ZM211.17 930.68a1.2 1.2 0 1 0 2.39 0a1.2 1.2 0 1 0 -2.39 0ZM212.1 930.53a1.2 1.2 0 1 0 2.39 0a1.2 1.2 0 1 0 -2.39 0ZM213.04 931.28a1.2 1.2 0 1 0 2.39 0a1.2 1.2 0 1 0 -2.39 0ZM213.98 931.16a1.2 1.2 0 1 0 2.39 0a1.2 1.2 0 1 0 -2.39 0ZM214.91 931.51a1.2 1.2 0 1 0 2.39 0a1.2 1.2 0 1 0 -2.39 0ZM215.85 930.91a1.2 1.2 0 1 0 2.39 0a1.2 1.2 0 1 0 -2.39 0ZM216.79 931.08a1.2 1.2 0 1 0 2.39 0a1.2 1.2 0 1 0 -2.39 0ZM217.72 930.47a1.2 1.2 0 1 0 2.39 0a1.2 1.2 0 1 0 -2.39 0ZM218.66 929.67a1.2 1.2 0 1 0 2.39 0a1.2 1.2 0 1 0 -2.39 0ZM219.6 929.96a1.2 1.2 0 1 0 2.39 0a1.2 1.2 0 1 0 -2.39 0ZM220.53 930.38a1.2 1.2 0 1 0 2.39 0a1.2 1.2 0 1 0 -2.39 0ZM221.47 930.46a1.2 1.2 0 1 0 2.39 0a1.2 1.2 0 1 0 -2.39 0ZM222.41 931.05a1.2 1.2 0 1 0 2.39 0a1.2 1.2 0 1 0 -2.39 0ZM223.34 931.28a1.2 1.2 0 1 0 2.39 0a1.2 1.2 0 1 0 -2.39 0ZM224.28 931.18a1.2 1.2 0 1 0 2.39 0a1.2 1.2 0 1 0 -2.39 0ZM225.22 932.23a1.2 1.2 0 1 0 2.39 0a1.2 1.2 0 1 0 -2.39 0ZM226.15 932.47a1.2 1.2 0 1 0 2.39 0a1.2 1.2 0 1 0 -2.39 0ZM227.09 933.14a1.2 1.2 0 1 0 2.39 0a1.2 1.2 0 1 0 -2.39 0ZM228.03 933.77a1.2 1.2 0 1 0 2.39 0a1.2 1.2 0 1 0 -2.39 0ZM228.96 933.71a1.2 1.2 0 1 0 2.39 0a1.2 1.2 0 1 0 -2.39 0ZM229.9 933.16a1.2 1.2 0 1 0 2.39 0a1.2 1.2 0 1 0 -2.39 0ZM230.84 933.09a1.2 1.2 0 1 0 2.39 0a1.2 1.2 0 1 0 -2.39 0ZM231.77 933.3a1.2 1.2 0 1 0 2.39 0a1.2 1.2 0 1 0 -2.39 0ZM232.71 932.76a1.2 1.2 0 1 0 2.39 0a1.2 1.2 0 1 0 -2.39 0ZM233.65 933.5a1.2 1.2 0 1 0 2.39 0a1.2 1.2 0 1 0 -2.39 0ZM234.58 933.68a1.2 1.2 0 1 0 2.39 0a1.2 1.2 0 1 0 -2.39 0ZM235.52 934.07a1.2 1.2 0 1 0 2.39 0a1.2 1.2 0 1 0 -2.39 0ZM236.46 934.11a1.2 1.2 0 1 0 2.39 0a1.2 1.2 0 1 0 -2.39 0Z" fill="#008000"/>
<rect x="30.65" y="763.15" width="224.8" height="180.9" fill="none" stroke="#1a1a1a" stroke-width="1.1"/>
<path d="M49.38 944.05v-3.3 M49.38 763.15v3.3 M86.85 944.05v-3.3 M86.85 763.15v3.3 M124.32 944.05v-3.3 M124.32 763.15v3.3 M161.78 944.05v-3.3 M161.78 763.15v3.3 M199.25 944.05v-3.3 M199.25 763.15v3.3 M236.72 944.05v-3.3 M236.72 763.15v3.3 M68.12 944.05v-1.9 M68.12 763.15v1.9 M105.58 944.05v-1.9 M105.58 763.15v1.9 M143.05 944.05v-1.9 M143.05 763.15v1.9 M180.52 944.05v-1.9 M180.52 763.15v1.9 M217.98 944.05v-1.9 M217.98 763.15v1.9 M30.65 934h3.3 M255.45 934h-3.3 M30.65 913.9h3.3 M255.45 913.9h-3.3 M30.65 893.8h3.3 M255.45 893.8h-3.3 M30.65 873.7h3.3 M255.45 873.7h-3.3 M30.65 853.6h3.3 M255.45 853.6h-3.3 M30.65 833.5h3.3 M255.45 833.5h-3.3 M30.65 813.4h3.3 M255.45 813.4h-3.3 M30.65 793.3h3.3 M255.45 793.3h-3.3 M30.65 773.2h3.3 M255.45 773.2h-3.3 M30.65 944.05h1.9 M255.45 944.05h-1.9 M30.65 923.95h1.9 M255.45 923.95h-1.9 M30.65 903.85h1.9 M255.45 903.85h-1.9 M30.65 883.75h1.9 M255.45 883.75h-1.9 M30.65 863.65h1.9 M255.45 863.65h-1.9 M30.65 843.55h1.9 M255.45 843.55h-1.9 M30.65 823.45h1.9 M255.45 823.45h-1.9 M30.65 803.35h1.9 M255.45 803.35h-1.9 M30.65 783.25h1.9 M255.45 783.25h-1.9" stroke="#111" stroke-width="0.8" fill="none"/>
<text x="49.38" y="952.2" class="t" text-anchor="middle">19000</text>
<text x="86.85" y="952.2" class="t" text-anchor="middle">20000</text>
<text x="124.32" y="952.2" class="t" text-anchor="middle">21000</text>
<text x="161.78" y="952.2" class="t" text-anchor="middle">22000</text>
<text x="199.25" y="952.2" class="t" text-anchor="middle">23000</text>
<text x="236.72" y="952.2" class="t" text-anchor="middle">24000</text>
<text x="27.8" y="936.1" class="t" text-anchor="end">0.0</text>
<text x="27.8" y="916" class="t" text-anchor="end">0.1</text>
<text x="27.8" y="895.9" class="t" text-anchor="end">0.2</text>
<text x="27.8" y="875.8" class="t" text-anchor="end">0.3</text>
<text x="27.8" y="855.7" class="t" text-anchor="end">0.4</text>
<text x="27.8" y="835.6" class="t" text-anchor="end">0.5</text>
<text x="27.8" y="815.5" class="t" text-anchor="end">0.6</text>
<text x="27.8" y="795.4" class="t" text-anchor="end">0.7</text>
<text x="27.8" y="775.3" class="t" text-anchor="end">0.8</text>
<text x="143.05" y="963.8" class="a" text-anchor="middle">Frequency (Hz)</text>
<text transform="translate(13.9 858.5) rotate(-90)" class="a" text-anchor="middle">Absorption (mV)</text>
<text x="228.3" y="794.5" class="l" text-anchor="middle">(c)</text>
<rect x="48.2" y="796.2" width="63.5" height="35.1" fill="#fff" stroke="#808080" stroke-width="0.7"/>
<path d="M50.2 801.8H65.2" stroke="#ff0000" stroke-width="0.4"/>
<path d="M57.6 799.42L60.1 803.8L55.1 803.8Z" fill="#ff0000"/>
<text x="67" y="804.1" class="g">Vexc= 1.0 Vpp</text>
<path d="M50.2 810.4H65.2" stroke="#0000ff" stroke-width="0.4"/>
<path d="M57.6 812.77L60.1 808.4L55.1 808.4Z" fill="#0000ff"/>
<text x="67" y="812.7" class="g">Vexc= 0.8 Vpp</text>
<path d="M50.2 818.6H65.2" stroke="#ff8000" stroke-width="0.4"/>
<path d="M55.48 816.48h4.25v4.25h-4.25Z" fill="#ff8000"/>
<text x="67" y="820.9" class="g">Vexc= 0.5 Vpp</text>
<path d="M50.2 827H65.2" stroke="#008000" stroke-width="0.4"/>
<path d="M55.3 827a2.3 2.3 0 1 0 4.6 0a2.3 2.3 0 1 0 -4.6 0Z" fill="#008000"/>
<text x="67" y="829.3" class="g">Vexc= 0.3 Vpp</text>
<polyline points="311.83,933.6 312.77,933.91 313.71,933.37 314.64,933.72 315.58,933.13 316.52,932.91 317.45,932.94 318.39,933.48 319.33,933.72 320.26,934.13 321.2,934.11 322.14,934.42 323.07,934.02 324.01,934.05 324.95,933.8 325.88,933.97 326.82,933.67 327.76,934.64 328.69,934.21 329.63,933.66 330.57,933.77 331.5,934.18 332.44,934.56 333.38,934.86 334.31,934.32 335.25,933.64 336.19,933.78 337.12,933.94 338.06,933.45 339,933.24 339.93,933.04 340.87,933.34 341.81,933.14 342.74,932.9 343.68,933.06 344.62,933.35 345.55,933.34 346.49,933.19 347.43,932.52 348.36,932.38 349.3,932.03 350.24,932.91 351.17,932.92 352.11,932.44 353.05,932.14 353.98,932.28 354.92,931.31 355.86,930.35 356.79,930.01 357.73,929.6 358.67,929.08 359.6,929.3 360.54,928.73 361.48,929.52 362.41,928.8 363.35,928.18 364.29,928.14 365.22,928.1 366.16,927.92 367.1,927.93 368.03,927.93 368.97,928.82 369.91,928.31 370.84,927.69 371.78,926.11 372.72,924.87 373.65,924.41 374.59,923.79 375.53,923.06 376.46,922.71 377.4,922.26 378.34,920.96 379.27,920.01 380.21,919.45 381.15,917.65 382.08,915.79 383.02,914.42 383.96,912.2 384.89,908.99 385.83,905.58 386.77,902.91 387.7,900.33 388.64,896.82 389.58,893.07 390.51,888.11 391.45,884.16 392.39,880.01 393.32,876.59 394.26,870.97 395.2,867.86 396.13,864.63 397.07,860.92 398.01,857.58 398.94,855.44 399.88,853.62 400.82,852.03 401.75,850.37 402.69,849.7 403.63,848 404.56,847.47 405.5,847.42 406.44,847.36 407.37,847.65 408.31,848.23 409.25,849.3 410.18,849.94 411.12,851.75 412.06,853.92 412.99,855.59 413.93,858.23 414.87,860.4 415.8,863.35 416.74,867.32 417.68,870.96 418.61,873.7 419.55,876.5 420.49,880.78 421.42,885.26 422.36,889.47 423.3,893.14 424.23,896.69 425.17,899.14 426.11,901.56 427.04,905.23 427.98,907.89 428.92,910.31 429.85,912.12 430.79,914.14 431.73,915.42 432.66,916.54 433.6,917.2 434.54,918.99 435.47,919.57 436.41,919.95 437.35,920.24 438.28,920.7 439.22,921.45 440.16,922.07 441.09,923.08 442.03,923.76 442.97,924.42 443.9,924.91 444.84,925.1 445.78,925.18 446.71,925.63 447.65,926.14 448.59,926.84 449.52,927.32 450.46,928.13 451.4,928.12 452.33,927.39 453.27,927.68 454.21,926.99 455.14,926.85 456.08,927.28 457.02,927.79 457.95,928.56 458.89,929.79 459.83,930.35 460.76,930.24 461.7,928.38 462.64,925.69 463.57,925.75 464.51,926.81 465.45,927.71 466.38,928.56 467.32,929.58 468.26,929.71 469.19,929.87 470.13,930.17 471.07,930.3 472,930.67 472.94,930.72 473.88,930.54 474.81,930.94 475.75,930.71 476.69,931.04 477.62,931.17 478.56,931.48 479.5,931.33 480.43,931.18 481.37,930.93 482.31,931.03 483.24,931.46 484.18,931.91 485.12,932.53 486.05,932.37 486.99,932.16 487.93,931.55 488.86,930.99 489.8,931.28 490.74,931.73 491.67,931.81 492.61,932.19 493.55,932.25 494.48,931.93 495.42,932.26 496.36,932.52 497.29,932.12 498.23,932.3 499.17,932.82 500.1,932.85" fill="none" stroke="#ff0000" stroke-width="0.35"/>
<path d="M311.83 932.32L313.18 934.68L310.48 934.68ZM312.77 932.63L314.12 934.99L311.42 934.99ZM313.71 932.08L315.06 934.45L312.36 934.45ZM314.64 932.44L315.99 934.8L313.29 934.8ZM315.58 931.84L316.93 934.21L314.23 934.21ZM316.52 931.63L317.87 933.99L315.17 933.99ZM317.45 931.66L318.8 934.02L316.1 934.02ZM318.39 932.19L319.74 934.56L317.04 934.56ZM319.33 932.44L320.68 934.8L317.98 934.8ZM320.26 932.85L321.61 935.21L318.91 935.21ZM321.2 932.83L322.55 935.19L319.85 935.19ZM322.14 933.14L323.49 935.5L320.79 935.5ZM323.07 932.74L324.42 935.1L321.72 935.1ZM324.01 932.76L325.36 935.13L322.66 935.13ZM324.95 932.51L326.3 934.88L323.6 934.88ZM325.88 932.68L327.23 935.05L324.53 935.05ZM326.82 932.39L328.17 934.75L325.47 934.75ZM327.76 933.36L329.11 935.72L326.41 935.72ZM328.69 932.93L330.04 935.29L327.34 935.29ZM329.63 932.38L330.98 934.74L328.28 934.74ZM330.57 932.49L331.92 934.85L329.22 934.85ZM331.5 932.9L332.85 935.26L330.15 935.26ZM332.44 933.28L333.79 935.64L331.09 935.64ZM333.38 933.58L334.73 935.94L332.03 935.94ZM334.31 933.03L335.66 935.4L332.96 935.4ZM335.25 932.36L336.6 934.72L333.9 934.72ZM336.19 932.5L337.54 934.86L334.84 934.86ZM337.12 932.65L338.47 935.02L335.77 935.02ZM338.06 932.17L339.41 934.53L336.71 934.53ZM339 931.96L340.35 934.32L337.65 934.32ZM339.93 931.76L341.28 934.12L338.58 934.12ZM340.87 932.06L342.22 934.42L339.52 934.42ZM341.81 931.86L343.16 934.22L340.46 934.22ZM342.74 931.61L344.09 933.98L341.39 933.98ZM343.68 931.78L345.03 934.14L342.33 934.14ZM344.62 932.07L345.97 934.43L343.27 934.43ZM345.55 932.05L346.9 934.42L344.2 934.42ZM346.49 931.91L347.84 934.27L345.14 934.27ZM347.43 931.24L348.78 933.6L346.08 933.6ZM348.36 931.1L349.71 933.46L347.01 933.46ZM349.3 930.74L350.65 933.11L347.95 933.11ZM350.24 931.63L351.59 933.99L348.89 933.99ZM351.17 931.64L352.52 934L349.82 934ZM352.11 931.15L353.46 933.52L350.76 933.52ZM353.05 930.86L354.4 933.22L351.7 933.22ZM353.98 931L355.33 933.36L352.63 933.36ZM354.92 930.02L356.27 932.39L353.57 932.39ZM355.86 929.07L357.21 931.43L354.51 931.43ZM356.79 928.73L358.14 931.09L355.44 931.09ZM357.73 928.32L359.08 930.68L356.38 930.68ZM358.67 927.8L360.02 930.16L357.32 930.16ZM359.6 928.02L360.95 930.38L358.25 930.38ZM360.54 927.45L361.89 929.81L359.19 929.81ZM361.48 928.24L362.83 930.6L360.13 930.6ZM362.41 927.51L363.76 929.88L361.06 929.88ZM363.35 926.9L364.7 929.26L362 929.26ZM364.29 926.86L365.64 929.22L362.94 929.22ZM365.22 926.82L366.57 929.18L363.87 929.18ZM366.16 926.63L367.51 929L364.81 929ZM367.1 926.65L368.45 929.01L365.75 929.01ZM368.03 926.64L369.38 929.01L366.68 929.01ZM368.97 927.54L370.32 929.9L367.62 929.9ZM369.91 927.02L371.26 929.39L368.56 929.39ZM370.84 926.41L372.19 928.77L369.49 928.77ZM371.78 924.83L373.13 927.19L370.43 927.19ZM372.72 923.58L374.07 925.95L371.37 925.95ZM373.65 923.12L375 925.49L372.3 925.49ZM374.59 922.51L375.94 924.87L373.24 924.87ZM375.53 921.77L376.88 924.14L374.18 924.14ZM376.46 921.42L377.81 923.79L375.11 923.79ZM377.4 920.98L378.75 923.34L376.05 923.34ZM378.34 919.68L379.69 922.04L376.99 922.04ZM379.27 918.72L380.62 921.09L377.92 921.09ZM380.21 918.16L381.56 920.53L378.86 920.53ZM381.15 916.36L382.5 918.73L379.8 918.73ZM382.08 914.51L383.43 916.87L380.73 916.87ZM383.02 913.14L384.37 915.5L381.67 915.5ZM383.96 910.92L385.31 913.28L382.61 913.28ZM384.89 907.71L386.24 910.07L383.54 910.07ZM385.83 904.3L387.18 906.66L384.48 906.66ZM386.77 901.63L388.12 903.99L385.42 903.99ZM387.7 899.05L389.05 901.41L386.35 901.41ZM388.64 895.54L389.99 897.9L387.29 897.9ZM389.58 891.79L390.93 894.15L388.23 894.15ZM390.51 886.83L391.86 889.19L389.16 889.19ZM391.45 882.88L392.8 885.24L390.1 885.24ZM392.39 878.72L393.74 881.09L391.04 881.09ZM393.32 875.31L394.67 877.67L391.97 877.67ZM394.26 869.68L395.61 872.05L392.91 872.05ZM395.2 866.58L396.55 868.94L393.85 868.94ZM396.13 863.35L397.48 865.71L394.78 865.71ZM397.07 859.64L398.42 862L395.72 862ZM398.01 856.3L399.36 858.66L396.66 858.66ZM398.94 854.16L400.29 856.52L397.59 856.52ZM399.88 852.33L401.23 854.7L398.53 854.7ZM400.82 850.75L402.17 853.11L399.47 853.11ZM401.75 849.08L403.1 851.45L400.4 851.45ZM402.69 848.42L404.04 850.78L401.34 850.78ZM403.63 846.71L404.98 849.08L402.28 849.08ZM404.56 846.19L405.91 848.55L403.21 848.55ZM405.5 846.14L406.85 848.5L404.15 848.5ZM406.44 846.08L407.79 848.44L405.09 848.44ZM407.37 846.37L408.72 848.73L406.02 848.73ZM408.31 846.94L409.66 849.31L406.96 849.31ZM409.25 848.02L410.6 850.38L407.9 850.38ZM410.18 848.66L411.53 851.02L408.83 851.02ZM411.12 850.47L412.47 852.83L409.77 852.83ZM412.06 852.64L413.41 855L410.71 855ZM412.99 854.31L414.34 856.67L411.64 856.67ZM413.93 856.94L415.28 859.31L412.58 859.31ZM414.87 859.11L416.22 861.48L413.52 861.48ZM415.8 862.07L417.15 864.43L414.45 864.43ZM416.74 866.04L418.09 868.4L415.39 868.4ZM417.68 869.68L419.03 872.04L416.33 872.04ZM418.61 872.42L419.96 874.78L417.26 874.78ZM419.55 875.22L420.9 877.58L418.2 877.58ZM420.49 879.5L421.84 881.86L419.14 881.86ZM421.42 883.98L422.77 886.34L420.07 886.34ZM422.36 888.18L423.71 890.55L421.01 890.55ZM423.3 891.86L424.65 894.22L421.95 894.22ZM424.23 895.41L425.58 897.77L422.88 897.77ZM425.17 897.86L426.52 900.22L423.82 900.22ZM426.11 900.28L427.46 902.64L424.76 902.64ZM427.04 903.95L428.39 906.31L425.69 906.31ZM427.98 906.61L429.33 908.97L426.63 908.97ZM428.92 909.03L430.27 911.39L427.57 911.39ZM429.85 910.83L431.2 913.2L428.5 913.2ZM430.79 912.86L432.14 915.22L429.44 915.22ZM431.73 914.14L433.08 916.5L430.38 916.5ZM432.66 915.26L434.01 917.62L431.31 917.62ZM433.6 915.92L434.95 918.28L432.25 918.28ZM434.54 917.71L435.89 920.07L433.19 920.07ZM435.47 918.29L436.82 920.65L434.12 920.65ZM436.41 918.67L437.76 921.03L435.06 921.03ZM437.35 918.96L438.7 921.32L436 921.32ZM438.28 919.42L439.63 921.78L436.93 921.78ZM439.22 920.16L440.57 922.53L437.87 922.53ZM440.16 920.78L441.51 923.15L438.81 923.15ZM441.09 921.8L442.44 924.16L439.74 924.16ZM442.03 922.47L443.38 924.84L440.68 924.84ZM442.97 923.14L444.32 925.5L441.62 925.5ZM443.9 923.62L445.25 925.99L442.55 925.99ZM444.84 923.82L446.19 926.18L443.49 926.18ZM445.78 923.9L447.13 926.26L444.43 926.26ZM446.71 924.35L448.06 926.71L445.36 926.71ZM447.65 924.86L449 927.22L446.3 927.22ZM448.59 925.56L449.94 927.92L447.24 927.92ZM449.52 926.04L450.87 928.4L448.17 928.4ZM450.46 926.85L451.81 929.21L449.11 929.21ZM451.4 926.84L452.75 929.2L450.05 929.2ZM452.33 926.11L453.68 928.47L450.98 928.47ZM453.27 926.4L454.62 928.76L451.92 928.76ZM454.21 925.71L455.56 928.07L452.86 928.07ZM455.14 925.56L456.49 927.93L453.79 927.93ZM456.08 926L457.43 928.36L454.73 928.36ZM457.02 926.51L458.37 928.87L455.67 928.87ZM457.95 927.28L459.3 929.64L456.6 929.64ZM458.89 928.5L460.24 930.87L457.54 930.87ZM459.83 929.07L461.18 931.43L458.48 931.43ZM460.76 928.95L462.11 931.32L459.41 931.32ZM461.7 927.1L463.05 929.46L460.35 929.46ZM462.64 924.41L463.99 926.77L461.29 926.77ZM463.57 924.47L464.92 926.83L462.22 926.83ZM464.51 925.53L465.86 927.89L463.16 927.89ZM465.45 926.42L466.8 928.79L464.1 928.79ZM466.38 927.28L467.73 929.64L465.03 929.64ZM467.32 928.29L468.67 930.66L465.97 930.66ZM468.26 928.42L469.61 930.79L466.91 930.79ZM469.19 928.59L470.54 930.95L467.84 930.95ZM470.13 928.89L471.48 931.25L468.78 931.25ZM471.07 929.02L472.42 931.38L469.72 931.38ZM472 929.39L473.35 931.75L470.65 931.75ZM472.94 929.44L474.29 931.8L471.59 931.8ZM473.88 929.26L475.23 931.62L472.53 931.62ZM474.81 929.66L476.16 932.02L473.46 932.02ZM475.75 929.42L477.1 931.79L474.4 931.79ZM476.69 929.76L478.04 932.12L475.34 932.12ZM477.62 929.89L478.97 932.25L476.27 932.25ZM478.56 930.19L479.91 932.56L477.21 932.56ZM479.5 930.05L480.85 932.41L478.15 932.41ZM480.43 929.89L481.78 932.26L479.08 932.26ZM481.37 929.65L482.72 932.01L480.02 932.01ZM482.31 929.74L483.66 932.11L480.96 932.11ZM483.24 930.17L484.59 932.54L481.89 932.54ZM484.18 930.63L485.53 932.99L482.83 932.99ZM485.12 931.25L486.47 933.61L483.77 933.61ZM486.05 931.09L487.4 933.45L484.7 933.45ZM486.99 930.88L488.34 933.24L485.64 933.24ZM487.93 930.27L489.28 932.63L486.58 932.63ZM488.86 929.71L490.21 932.07L487.51 932.07ZM489.8 929.99L491.15 932.36L488.45 932.36ZM490.74 930.45L492.09 932.81L489.39 932.81ZM491.67 930.53L493.02 932.89L490.32 932.89ZM492.61 930.91L493.96 933.27L491.26 933.27ZM493.55 930.97L494.9 933.33L492.2 933.33ZM494.48 930.65L495.83 933.01L493.13 933.01ZM495.42 930.97L496.77 933.34L494.07 933.34ZM496.36 931.24L497.71 933.6L495.01 933.6ZM497.29 930.84L498.64 933.2L495.94 933.2ZM498.23 931.02L499.58 933.38L496.88 933.38ZM499.17 931.54L500.52 933.9L497.82 933.9ZM500.1 931.56L501.45 933.93L498.75 933.93Z" fill="#ff0000"/>
<polyline points="311.83,933.67 312.77,933.6 313.71,933.58 314.64,933.57 315.58,933.36 316.52,932.9 317.45,932.81 318.39,933.56 319.33,934.37 320.26,933.84 321.2,933.49 322.14,933.7 323.07,933.39 324.01,933.74 324.95,934.16 325.88,933.94 326.82,934.5 327.76,935.04 328.69,934.92 329.63,934.6 330.57,934.67 331.5,935.61 332.44,935.45 333.38,935.02 334.31,934.45 335.25,933.78 336.19,933.44 337.12,933.6 338.06,933.42 339,932.7 339.93,933.42 340.87,933.36 341.81,932.61 342.74,932.54 343.68,933.01 344.62,932.94 345.55,933.39 346.49,933.61 347.43,933.09 348.36,932.56 349.3,933.13 350.24,933.38 351.17,933.49 352.11,932.13 353.05,932.29 353.98,931.64 354.92,931.97 355.86,931.54 356.79,930.77 357.73,930.23 358.67,929.75 359.6,929.86 360.54,930.14 361.48,930.06 362.41,929.25 363.35,928.72 364.29,928.58 365.22,928.96 366.16,928.64 367.1,928.36 368.03,928.78 368.97,928.94 369.91,928.2 370.84,927.61 371.78,926.36 372.72,926.16 373.65,924.48 374.59,923.34 375.53,922.12 376.46,921.8 377.4,921.56 378.34,921.16 379.27,920.58 380.21,919.02 381.15,917.38 382.08,916.09 383.02,914.68 383.96,913.51 384.89,909.89 385.83,907.07 386.77,905.24 387.7,903.11 388.64,900.19 389.58,895.43 390.51,891.44 391.45,886.41 392.39,882.02 393.32,873.99 394.26,868.97 395.2,865.82 396.13,860.31 397.07,854.87 398.01,849.35 398.94,845.4 399.88,842.11 400.82,839.76 401.75,837.18 402.69,835.22 403.63,833.61 404.56,832.33 405.5,832.23 406.44,831.63 407.37,831.66 408.31,833.38 409.25,834.88 410.18,836.75 411.12,840.02 412.06,843.38 412.99,847.67 413.93,851.74 414.87,856.9 415.8,861.71 416.74,866.54 417.68,871.17 418.61,875.21 419.55,879.19 420.49,884.42 421.42,888.98 422.36,892.86 423.3,896.95 424.23,900.46 425.17,902.9 426.11,904.89 427.04,907.43 427.98,909.04 428.92,911.35 429.85,912.76 430.79,914.92 431.73,915.66 432.66,915.93 433.6,916.97 434.54,917.79 435.47,918.08 436.41,919.33 437.35,920.45 438.28,921.67 439.22,922.12 440.16,922.55 441.09,923.19 442.03,923.92 442.97,924.81 443.9,925.34 444.84,925.57 445.78,925.4 446.71,925.87 447.65,926.94 448.59,926.92 449.52,927.08 450.46,927.7 451.4,928.41 452.33,928.23 453.27,927.74 454.21,927.21 455.14,927.89 456.08,927.11 457.02,928.55 457.95,928.58 458.89,929.63 459.83,930.88 460.76,931.3 461.7,929.64 462.64,927.14 463.57,927.35 464.51,928.41 465.45,927.95 466.38,929.27 467.32,929.89 468.26,931.13 469.19,930.79 470.13,930.98 471.07,931.06 472,931.34 472.94,931.54 473.88,931.24 474.81,931.55 475.75,931.48 476.69,931.21 477.62,931.58 478.56,931.33 479.5,931.26 480.43,930.74 481.37,930.73 482.31,931.11 483.24,931.01 484.18,931.96 485.12,932.43 486.05,932.27 486.99,932.51 487.93,932.06 488.86,932.24 489.8,932.06 490.74,931.96 491.67,932.75 492.61,932.76 493.55,933.08 494.48,933.33 495.42,933.45 496.36,932.64 497.29,932.35 498.23,932.94 499.17,933.14 500.1,932.41" fill="none" stroke="#0000ff" stroke-width="0.35"/>
<path d="M310.77 932.61h2.12v2.12h-2.12ZM311.71 932.54h2.12v2.12h-2.12ZM312.64 932.52h2.12v2.12h-2.12ZM313.58 932.5h2.12v2.12h-2.12ZM314.52 932.3h2.12v2.12h-2.12ZM315.45 931.84h2.12v2.12h-2.12ZM316.39 931.75h2.12v2.12h-2.12ZM317.33 932.5h2.12v2.12h-2.12ZM318.26 933.3h2.12v2.12h-2.12ZM319.2 932.78h2.12v2.12h-2.12ZM320.14 932.43h2.12v2.12h-2.12ZM321.07 932.63h2.12v2.12h-2.12ZM322.01 932.33h2.12v2.12h-2.12ZM322.95 932.68h2.12v2.12h-2.12ZM323.88 933.1h2.12v2.12h-2.12ZM324.82 932.87h2.12v2.12h-2.12ZM325.76 933.43h2.12v2.12h-2.12ZM326.69 933.98h2.12v2.12h-2.12ZM327.63 933.86h2.12v2.12h-2.12ZM328.57 933.54h2.12v2.12h-2.12ZM329.5 933.6h2.12v2.12h-2.12ZM330.44 934.55h2.12v2.12h-2.12ZM331.38 934.39h2.12v2.12h-2.12ZM332.31 933.95h2.12v2.12h-2.12ZM333.25 933.38h2.12v2.12h-2.12ZM334.19 932.72h2.12v2.12h-2.12ZM335.12 932.37h2.12v2.12h-2.12ZM336.06 932.54h2.12v2.12h-2.12ZM337 932.36h2.12v2.12h-2.12ZM337.93 931.64h2.12v2.12h-2.12ZM338.87 932.36h2.12v2.12h-2.12ZM339.81 932.3h2.12v2.12h-2.12ZM340.74 931.55h2.12v2.12h-2.12ZM341.68 931.48h2.12v2.12h-2.12ZM342.62 931.95h2.12v2.12h-2.12ZM343.55 931.88h2.12v2.12h-2.12ZM344.49 932.33h2.12v2.12h-2.12ZM345.43 932.55h2.12v2.12h-2.12ZM346.36 932.03h2.12v2.12h-2.12ZM347.3 931.49h2.12v2.12h-2.12ZM348.24 932.06h2.12v2.12h-2.12ZM349.17 932.32h2.12v2.12h-2.12ZM350.11 932.43h2.12v2.12h-2.12ZM351.05 931.07h2.12v2.12h-2.12ZM351.98 931.23h2.12v2.12h-2.12ZM352.92 930.58h2.12v2.12h-2.12ZM353.86 930.91h2.12v2.12h-2.12ZM354.79 930.48h2.12v2.12h-2.12ZM355.73 929.71h2.12v2.12h-2.12ZM356.67 929.17h2.12v2.12h-2.12ZM357.6 928.69h2.12v2.12h-2.12ZM358.54 928.8h2.12v2.12h-2.12ZM359.48 929.08h2.12v2.12h-2.12ZM360.41 929h2.12v2.12h-2.12ZM361.35 928.18h2.12v2.12h-2.12ZM362.29 927.66h2.12v2.12h-2.12ZM363.22 927.52h2.12v2.12h-2.12ZM364.16 927.89h2.12v2.12h-2.12ZM365.1 927.58h2.12v2.12h-2.12ZM366.03 927.3h2.12v2.12h-2.12ZM366.97 927.72h2.12v2.12h-2.12ZM367.91 927.87h2.12v2.12h-2.12ZM368.84 927.13h2.12v2.12h-2.12ZM369.78 926.55h2.12v2.12h-2.12ZM370.72 925.29h2.12v2.12h-2.12ZM371.65 925.1h2.12v2.12h-2.12ZM372.59 923.42h2.12v2.12h-2.12ZM373.53 922.27h2.12v2.12h-2.12ZM374.46 921.06h2.12v2.12h-2.12ZM375.4 920.74h2.12v2.12h-2.12ZM376.34 920.5h2.12v2.12h-2.12ZM377.27 920.1h2.12v2.12h-2.12ZM378.21 919.52h2.12v2.12h-2.12ZM379.15 917.96h2.12v2.12h-2.12ZM380.08 916.31h2.12v2.12h-2.12ZM381.02 915.03h2.12v2.12h-2.12ZM381.96 913.62h2.12v2.12h-2.12ZM382.89 912.45h2.12v2.12h-2.12ZM383.83 908.82h2.12v2.12h-2.12ZM384.77 906.01h2.12v2.12h-2.12ZM385.7 904.17h2.12v2.12h-2.12ZM386.64 902.05h2.12v2.12h-2.12ZM387.58 899.12h2.12v2.12h-2.12ZM388.51 894.37h2.12v2.12h-2.12ZM389.45 890.37h2.12v2.12h-2.12ZM390.39 885.35h2.12v2.12h-2.12ZM391.32 880.96h2.12v2.12h-2.12ZM392.26 872.93h2.12v2.12h-2.12ZM393.2 867.91h2.12v2.12h-2.12ZM394.13 864.76h2.12v2.12h-2.12ZM395.07 859.24h2.12v2.12h-2.12ZM396.01 853.81h2.12v2.12h-2.12ZM396.94 848.28h2.12v2.12h-2.12ZM397.88 844.33h2.12v2.12h-2.12ZM398.82 841.05h2.12v2.12h-2.12ZM399.75 838.69h2.12v2.12h-2.12ZM400.69 836.12h2.12v2.12h-2.12ZM401.63 834.16h2.12v2.12h-2.12ZM402.56 832.55h2.12v2.12h-2.12ZM403.5 831.27h2.12v2.12h-2.12ZM404.44 831.17h2.12v2.12h-2.12ZM405.37 830.57h2.12v2.12h-2.12ZM406.31 830.59h2.12v2.12h-2.12ZM407.25 832.32h2.12v2.12h-2.12ZM408.18 833.82h2.12v2.12h-2.12ZM409.12 835.68h2.12v2.12h-2.12ZM410.06 838.96h2.12v2.12h-2.12ZM410.99 842.32h2.12v2.12h-2.12ZM411.93 846.61h2.12v2.12h-2.12ZM412.87 850.68h2.12v2.12h-2.12ZM413.8 855.84h2.12v2.12h-2.12ZM414.74 860.65h2.12v2.12h-2.12ZM415.68 865.48h2.12v2.12h-2.12ZM416.61 870.1h2.12v2.12h-2.12ZM417.55 874.15h2.12v2.12h-2.12ZM418.49 878.12h2.12v2.12h-2.12ZM419.42 883.36h2.12v2.12h-2.12ZM420.36 887.92h2.12v2.12h-2.12ZM421.3 891.8h2.12v2.12h-2.12ZM422.23 895.89h2.12v2.12h-2.12ZM423.17 899.4h2.12v2.12h-2.12ZM424.11 901.84h2.12v2.12h-2.12ZM425.04 903.82h2.12v2.12h-2.12ZM425.98 906.36h2.12v2.12h-2.12ZM426.92 907.98h2.12v2.12h-2.12ZM427.85 910.29h2.12v2.12h-2.12ZM428.79 911.7h2.12v2.12h-2.12ZM429.73 913.86h2.12v2.12h-2.12ZM430.66 914.6h2.12v2.12h-2.12ZM431.6 914.87h2.12v2.12h-2.12ZM432.54 915.91h2.12v2.12h-2.12ZM433.47 916.73h2.12v2.12h-2.12ZM434.41 917.02h2.12v2.12h-2.12ZM435.35 918.27h2.12v2.12h-2.12ZM436.28 919.38h2.12v2.12h-2.12ZM437.22 920.6h2.12v2.12h-2.12ZM438.16 921.06h2.12v2.12h-2.12ZM439.09 921.49h2.12v2.12h-2.12ZM440.03 922.12h2.12v2.12h-2.12ZM440.97 922.86h2.12v2.12h-2.12ZM441.9 923.75h2.12v2.12h-2.12ZM442.84 924.28h2.12v2.12h-2.12ZM443.78 924.51h2.12v2.12h-2.12ZM444.71 924.34h2.12v2.12h-2.12ZM445.65 924.81h2.12v2.12h-2.12ZM446.59 925.88h2.12v2.12h-2.12ZM447.52 925.86h2.12v2.12h-2.12ZM448.46 926.02h2.12v2.12h-2.12ZM449.4 926.64h2.12v2.12h-2.12ZM450.33 927.35h2.12v2.12h-2.12ZM451.27 927.17h2.12v2.12h-2.12ZM452.21 926.68h2.12v2.12h-2.12ZM453.14 926.15h2.12v2.12h-2.12ZM454.08 926.83h2.12v2.12h-2.12ZM455.02 926.05h2.12v2.12h-2.12ZM455.95 927.48h2.12v2.12h-2.12ZM456.89 927.52h2.12v2.12h-2.12ZM457.83 928.56h2.12v2.12h-2.12ZM458.76 929.82h2.12v2.12h-2.12ZM459.7 930.24h2.12v2.12h-2.12ZM460.64 928.57h2.12v2.12h-2.12ZM461.57 926.08h2.12v2.12h-2.12ZM462.51 926.28h2.12v2.12h-2.12ZM463.45 927.34h2.12v2.12h-2.12ZM464.38 926.89h2.12v2.12h-2.12ZM465.32 928.21h2.12v2.12h-2.12ZM466.26 928.83h2.12v2.12h-2.12ZM467.19 930.06h2.12v2.12h-2.12ZM468.13 929.72h2.12v2.12h-2.12ZM469.07 929.91h2.12v2.12h-2.12ZM470 930h2.12v2.12h-2.12ZM470.94 930.27h2.12v2.12h-2.12ZM471.88 930.48h2.12v2.12h-2.12ZM472.81 930.18h2.12v2.12h-2.12ZM473.75 930.49h2.12v2.12h-2.12ZM474.69 930.41h2.12v2.12h-2.12ZM475.62 930.14h2.12v2.12h-2.12ZM476.56 930.52h2.12v2.12h-2.12ZM477.5 930.26h2.12v2.12h-2.12ZM478.43 930.2h2.12v2.12h-2.12ZM479.37 929.67h2.12v2.12h-2.12ZM480.31 929.67h2.12v2.12h-2.12ZM481.24 930.05h2.12v2.12h-2.12ZM482.18 929.95h2.12v2.12h-2.12ZM483.12 930.9h2.12v2.12h-2.12ZM484.05 931.37h2.12v2.12h-2.12ZM484.99 931.21h2.12v2.12h-2.12ZM485.93 931.45h2.12v2.12h-2.12ZM486.86 931h2.12v2.12h-2.12ZM487.8 931.18h2.12v2.12h-2.12ZM488.74 931h2.12v2.12h-2.12ZM489.67 930.9h2.12v2.12h-2.12ZM490.61 931.68h2.12v2.12h-2.12ZM491.55 931.7h2.12v2.12h-2.12ZM492.48 932.02h2.12v2.12h-2.12ZM493.42 932.27h2.12v2.12h-2.12ZM494.36 932.39h2.12v2.12h-2.12ZM495.29 931.58h2.12v2.12h-2.12ZM496.23 931.29h2.12v2.12h-2.12ZM497.17 931.88h2.12v2.12h-2.12ZM498.1 932.08h2.12v2.12h-2.12ZM499.04 931.35h2.12v2.12h-2.12Z" fill="#0000ff"/>
<polyline points="311.83,934.41 312.77,933.96 313.71,933.98 314.64,933.97 315.58,933.41 316.52,932.89 317.45,932.68 318.39,933.97 319.33,934.19 320.26,934.29 321.2,933.65 322.14,934.02 323.07,933.67 324.01,933.43 324.95,934.06 325.88,933.94 326.82,934.09 327.76,933.81 328.69,933.15 329.63,932.49 330.57,932.26 331.5,931.91 332.44,933.03 333.38,931.79 334.31,931.84 335.25,932.61 336.19,931.81 337.12,932.63 338.06,933.58 339,933.78 339.93,934.26 340.87,933.79 341.81,933.5 342.74,933.11 343.68,933 344.62,933.4 345.55,933.33 346.49,933.82 347.43,932.73 348.36,932.94 349.3,933.04 350.24,934.41 351.17,934.32 352.11,933.15 353.05,933.64 353.98,933.77 354.92,934.23 355.86,933.9 356.79,932.82 357.73,932.04 358.67,931.34 359.6,930.77 360.54,930.88 361.48,931.14 362.41,930.33 363.35,929.17 364.29,929.33 365.22,929.22 366.16,928.5 367.1,928.74 368.03,929.21 368.97,929.02 369.91,928.5 370.84,928.03 371.78,927.86 372.72,927.3 373.65,926.83 374.59,926.03 375.53,926.05 376.46,925.54 377.4,924.84 378.34,923.15 379.27,922.98 380.21,921.77 381.15,921.06 382.08,920.11 383.02,919.53 383.96,917.61 384.89,914.41 385.83,912.46 386.77,909.39 387.7,906.92 388.64,904.41 389.58,900.81 390.51,897.31 391.45,894.87 392.39,890.6 393.32,883.02 394.26,874.98 395.2,868.41 396.13,861.06 397.07,852.57 398.01,844.46 398.94,835.55 399.88,826.35 400.82,819.71 401.75,811.43 402.69,805.35 403.63,799.41 404.56,795.59 405.5,794.05 406.44,794.51 407.37,795.29 408.31,797.76 409.25,803.44 410.18,808.71 411.12,817.95 412.06,825.37 412.99,831.35 413.93,844.39 414.87,850.28 415.8,859.35 416.74,867.54 417.68,873.88 418.61,879.3 419.55,884.14 420.49,888.78 421.42,893.98 422.36,896.69 423.3,900.34 424.23,902.76 425.17,905.52 426.11,908.31 427.04,909.38 427.98,910.83 428.92,911.4 429.85,913.12 430.79,916.97 431.73,918.45 432.66,918.61 433.6,919.73 434.54,919.84 435.47,920.58 436.41,921.31 437.35,921.67 438.28,922.35 439.22,923.11 440.16,923.56 441.09,923.55 442.03,924.61 442.97,926.45 443.9,926.32 444.84,926.5 445.78,926.74 446.71,927 447.65,927.2 448.59,927.51 449.52,927.98 450.46,928.55 451.4,929.02 452.33,930.29 453.27,930.28 454.21,929.57 455.14,929.87 456.08,929.99 457.02,930.14 457.95,930.5 458.89,931.19 459.83,931.18 460.76,931.91 461.7,931.22 462.64,928.08 463.57,928.14 464.51,929.9 465.45,930.69 466.38,931.4 467.32,932.32 468.26,931.77 469.19,931.83 470.13,932.07 471.07,932.25 472,931.41 472.94,930.97 473.88,930.76 474.81,930.92 475.75,930.59 476.69,931.5 477.62,931.55 478.56,931.14 479.5,931.71 480.43,931.55 481.37,930.76 482.31,931.16 483.24,931.3 484.18,931.83 485.12,932.47 486.05,933.67 486.99,933.11 487.93,933.18 488.86,933.51 489.8,934.01 490.74,934.52 491.67,934.35 492.61,934.65 493.55,933.98 494.48,933.81 495.42,934.15 496.36,933.74 497.29,933.47 498.23,934.53 499.17,935.29 500.1,935.24" fill="none" stroke="#ff8000" stroke-width="0.35"/>
<path d="M310.77 933.35h2.12v2.12h-2.12ZM311.71 932.9h2.12v2.12h-2.12ZM312.64 932.92h2.12v2.12h-2.12ZM313.58 932.91h2.12v2.12h-2.12ZM314.52 932.35h2.12v2.12h-2.12ZM315.45 931.82h2.12v2.12h-2.12ZM316.39 931.61h2.12v2.12h-2.12ZM317.33 932.91h2.12v2.12h-2.12ZM318.26 933.12h2.12v2.12h-2.12ZM319.2 933.22h2.12v2.12h-2.12ZM320.14 932.59h2.12v2.12h-2.12ZM321.07 932.95h2.12v2.12h-2.12ZM322.01 932.6h2.12v2.12h-2.12ZM322.95 932.37h2.12v2.12h-2.12ZM323.88 932.99h2.12v2.12h-2.12ZM324.82 932.88h2.12v2.12h-2.12ZM325.76 933.03h2.12v2.12h-2.12ZM326.69 932.75h2.12v2.12h-2.12ZM327.63 932.08h2.12v2.12h-2.12ZM328.57 931.43h2.12v2.12h-2.12ZM329.5 931.19h2.12v2.12h-2.12ZM330.44 930.84h2.12v2.12h-2.12ZM331.38 931.97h2.12v2.12h-2.12ZM332.31 930.73h2.12v2.12h-2.12ZM333.25 930.78h2.12v2.12h-2.12ZM334.19 931.55h2.12v2.12h-2.12ZM335.12 930.74h2.12v2.12h-2.12ZM336.06 931.57h2.12v2.12h-2.12ZM337 932.52h2.12v2.12h-2.12ZM337.93 932.71h2.12v2.12h-2.12ZM338.87 933.2h2.12v2.12h-2.12ZM339.81 932.72h2.12v2.12h-2.12ZM340.74 932.44h2.12v2.12h-2.12ZM341.68 932.05h2.12v2.12h-2.12ZM342.62 931.94h2.12v2.12h-2.12ZM343.55 932.33h2.12v2.12h-2.12ZM344.49 932.27h2.12v2.12h-2.12ZM345.43 932.75h2.12v2.12h-2.12ZM346.36 931.67h2.12v2.12h-2.12ZM347.3 931.88h2.12v2.12h-2.12ZM348.24 931.98h2.12v2.12h-2.12ZM349.17 933.35h2.12v2.12h-2.12ZM350.11 933.26h2.12v2.12h-2.12ZM351.05 932.09h2.12v2.12h-2.12ZM351.98 932.58h2.12v2.12h-2.12ZM352.92 932.71h2.12v2.12h-2.12ZM353.86 933.17h2.12v2.12h-2.12ZM354.79 932.84h2.12v2.12h-2.12ZM355.73 931.75h2.12v2.12h-2.12ZM356.67 930.97h2.12v2.12h-2.12ZM357.6 930.28h2.12v2.12h-2.12ZM358.54 929.71h2.12v2.12h-2.12ZM359.48 929.82h2.12v2.12h-2.12ZM360.41 930.08h2.12v2.12h-2.12ZM361.35 929.27h2.12v2.12h-2.12ZM362.29 928.11h2.12v2.12h-2.12ZM363.22 928.27h2.12v2.12h-2.12ZM364.16 928.16h2.12v2.12h-2.12ZM365.1 927.43h2.12v2.12h-2.12ZM366.03 927.68h2.12v2.12h-2.12ZM366.97 928.15h2.12v2.12h-2.12ZM367.91 927.95h2.12v2.12h-2.12ZM368.84 927.44h2.12v2.12h-2.12ZM369.78 926.97h2.12v2.12h-2.12ZM370.72 926.79h2.12v2.12h-2.12ZM371.65 926.24h2.12v2.12h-2.12ZM372.59 925.77h2.12v2.12h-2.12ZM373.53 924.97h2.12v2.12h-2.12ZM374.46 924.98h2.12v2.12h-2.12ZM375.4 924.47h2.12v2.12h-2.12ZM376.34 923.77h2.12v2.12h-2.12ZM377.27 922.09h2.12v2.12h-2.12ZM378.21 921.92h2.12v2.12h-2.12ZM379.15 920.71h2.12v2.12h-2.12ZM380.08 920h2.12v2.12h-2.12ZM381.02 919.05h2.12v2.12h-2.12ZM381.96 918.47h2.12v2.12h-2.12ZM382.89 916.55h2.12v2.12h-2.12ZM383.83 913.35h2.12v2.12h-2.12ZM384.77 911.39h2.12v2.12h-2.12ZM385.7 908.32h2.12v2.12h-2.12ZM386.64 905.86h2.12v2.12h-2.12ZM387.58 903.35h2.12v2.12h-2.12ZM388.51 899.75h2.12v2.12h-2.12ZM389.45 896.25h2.12v2.12h-2.12ZM390.39 893.81h2.12v2.12h-2.12ZM391.32 889.54h2.12v2.12h-2.12ZM392.26 881.95h2.12v2.12h-2.12ZM393.2 873.92h2.12v2.12h-2.12ZM394.13 867.35h2.12v2.12h-2.12ZM395.07 860h2.12v2.12h-2.12ZM396.01 851.51h2.12v2.12h-2.12ZM396.94 843.4h2.12v2.12h-2.12ZM397.88 834.49h2.12v2.12h-2.12ZM398.82 825.29h2.12v2.12h-2.12ZM399.75 818.65h2.12v2.12h-2.12ZM400.69 810.37h2.12v2.12h-2.12ZM401.63 804.28h2.12v2.12h-2.12ZM402.56 798.34h2.12v2.12h-2.12ZM403.5 794.52h2.12v2.12h-2.12ZM404.44 792.98h2.12v2.12h-2.12ZM405.37 793.45h2.12v2.12h-2.12ZM406.31 794.22h2.12v2.12h-2.12ZM407.25 796.7h2.12v2.12h-2.12ZM408.18 802.38h2.12v2.12h-2.12ZM409.12 807.65h2.12v2.12h-2.12ZM410.06 816.89h2.12v2.12h-2.12ZM410.99 824.3h2.12v2.12h-2.12ZM411.93 830.29h2.12v2.12h-2.12ZM412.87 843.33h2.12v2.12h-2.12ZM413.8 849.21h2.12v2.12h-2.12ZM414.74 858.29h2.12v2.12h-2.12ZM415.68 866.47h2.12v2.12h-2.12ZM416.61 872.82h2.12v2.12h-2.12ZM417.55 878.24h2.12v2.12h-2.12ZM418.49 883.08h2.12v2.12h-2.12ZM419.42 887.71h2.12v2.12h-2.12ZM420.36 892.91h2.12v2.12h-2.12ZM421.3 895.63h2.12v2.12h-2.12ZM422.23 899.28h2.12v2.12h-2.12ZM423.17 901.7h2.12v2.12h-2.12ZM424.11 904.46h2.12v2.12h-2.12ZM425.04 907.25h2.12v2.12h-2.12ZM425.98 908.32h2.12v2.12h-2.12ZM426.92 909.77h2.12v2.12h-2.12ZM427.85 910.34h2.12v2.12h-2.12ZM428.79 912.06h2.12v2.12h-2.12ZM429.73 915.91h2.12v2.12h-2.12ZM430.66 917.39h2.12v2.12h-2.12ZM431.6 917.55h2.12v2.12h-2.12ZM432.54 918.67h2.12v2.12h-2.12ZM433.47 918.78h2.12v2.12h-2.12ZM434.41 919.52h2.12v2.12h-2.12ZM435.35 920.25h2.12v2.12h-2.12ZM436.28 920.61h2.12v2.12h-2.12ZM437.22 921.29h2.12v2.12h-2.12ZM438.16 922.04h2.12v2.12h-2.12ZM439.09 922.49h2.12v2.12h-2.12ZM440.03 922.49h2.12v2.12h-2.12ZM440.97 923.54h2.12v2.12h-2.12ZM441.9 925.38h2.12v2.12h-2.12ZM442.84 925.26h2.12v2.12h-2.12ZM443.78 925.44h2.12v2.12h-2.12ZM444.71 925.68h2.12v2.12h-2.12ZM445.65 925.93h2.12v2.12h-2.12ZM446.59 926.14h2.12v2.12h-2.12ZM447.52 926.45h2.12v2.12h-2.12ZM448.46 926.91h2.12v2.12h-2.12ZM449.4 927.48h2.12v2.12h-2.12ZM450.33 927.96h2.12v2.12h-2.12ZM451.27 929.23h2.12v2.12h-2.12ZM452.21 929.21h2.12v2.12h-2.12ZM453.14 928.51h2.12v2.12h-2.12ZM454.08 928.81h2.12v2.12h-2.12ZM455.02 928.93h2.12v2.12h-2.12ZM455.95 929.08h2.12v2.12h-2.12ZM456.89 929.44h2.12v2.12h-2.12ZM457.83 930.12h2.12v2.12h-2.12ZM458.76 930.11h2.12v2.12h-2.12ZM459.7 930.84h2.12v2.12h-2.12ZM460.64 930.16h2.12v2.12h-2.12ZM461.57 927.01h2.12v2.12h-2.12ZM462.51 927.08h2.12v2.12h-2.12ZM463.45 928.84h2.12v2.12h-2.12ZM464.38 929.63h2.12v2.12h-2.12ZM465.32 930.33h2.12v2.12h-2.12ZM466.26 931.25h2.12v2.12h-2.12ZM467.19 930.71h2.12v2.12h-2.12ZM468.13 930.77h2.12v2.12h-2.12ZM469.07 931h2.12v2.12h-2.12ZM470 931.19h2.12v2.12h-2.12ZM470.94 930.35h2.12v2.12h-2.12ZM471.88 929.91h2.12v2.12h-2.12ZM472.81 929.7h2.12v2.12h-2.12ZM473.75 929.86h2.12v2.12h-2.12ZM474.69 929.53h2.12v2.12h-2.12ZM475.62 930.44h2.12v2.12h-2.12ZM476.56 930.49h2.12v2.12h-2.12ZM477.5 930.07h2.12v2.12h-2.12ZM478.43 930.64h2.12v2.12h-2.12ZM479.37 930.49h2.12v2.12h-2.12ZM480.31 929.7h2.12v2.12h-2.12ZM481.24 930.1h2.12v2.12h-2.12ZM482.18 930.24h2.12v2.12h-2.12ZM483.12 930.77h2.12v2.12h-2.12ZM484.05 931.41h2.12v2.12h-2.12ZM484.99 932.61h2.12v2.12h-2.12ZM485.93 932.05h2.12v2.12h-2.12ZM486.86 932.12h2.12v2.12h-2.12ZM487.8 932.45h2.12v2.12h-2.12ZM488.74 932.94h2.12v2.12h-2.12ZM489.67 933.46h2.12v2.12h-2.12ZM490.61 933.29h2.12v2.12h-2.12ZM491.55 933.59h2.12v2.12h-2.12ZM492.48 932.92h2.12v2.12h-2.12ZM493.42 932.75h2.12v2.12h-2.12ZM494.36 933.08h2.12v2.12h-2.12ZM495.29 932.68h2.12v2.12h-2.12ZM496.23 932.41h2.12v2.12h-2.12ZM497.17 933.47h2.12v2.12h-2.12ZM498.1 934.23h2.12v2.12h-2.12ZM499.04 934.17h2.12v2.12h-2.12Z" fill="#ff8000"/>
<polyline points="311.83,938.58 312.77,937.72 313.71,937.16 314.64,937.88 315.58,936.73 316.52,934.59 317.45,935.01 318.39,936.1 319.33,937.43 320.26,936.83 321.2,936.08 322.14,935 323.07,936.22 324.01,936.38 324.95,937.07 325.88,937.64 326.82,938.16 327.76,939.49 328.69,938.77 329.63,939.03 330.57,938.45 331.5,940.01 332.44,940.65 333.38,940.6 334.31,938.18 335.25,937.19 336.19,937.04 337.12,937.41 338.06,935.16 339,935.84 339.93,936.23 340.87,935.41 341.81,934.15 342.74,933.58 343.68,934.75 344.62,935.2 345.55,935.04 346.49,935.52 347.43,935.21 348.36,934.45 349.3,935.4 350.24,936.44 351.17,936.04 352.11,936.39 353.05,935.01 353.98,936.36 354.92,937.61 355.86,936.21 356.79,935.99 357.73,934.97 358.67,933.86 359.6,933.33 360.54,933.7 361.48,933.92 362.41,932.41 363.35,932.37 364.29,931.54 365.22,933.1 366.16,932.62 367.1,932.41 368.03,933.48 368.97,933.5 369.91,932.26 370.84,930.93 371.78,930.15 372.72,929.35 373.65,929.19 374.59,928.36 375.53,928.18 376.46,927.25 377.4,927.36 378.34,925.01 379.27,925.66 380.21,924.99 381.15,923.29 382.08,922.13 383.02,921.16 383.96,918.72 384.89,915.75 385.83,911.82 386.77,909.92 387.7,909.38 388.64,906.39 389.58,903.93 390.51,900.38 391.45,897.05 392.39,892.79 393.32,886.37 394.26,879.85 395.2,870.4 396.13,861.14 397.07,852.09 398.01,844.47 398.94,833.02 399.88,821.91 400.82,812.24 401.75,802.05 402.69,794.33 403.63,783.33 404.56,777.44 405.5,773.61 406.44,774.68 407.37,776.57 408.31,783.37 409.25,792.55 410.18,803.81 411.12,813.14 412.06,821.08 412.99,832.41 413.93,842.27 414.87,851.65 415.8,860.83 416.74,868.54 417.68,875.38 418.61,882.07 419.55,887.19 420.49,890.44 421.42,895.17 422.36,899.11 423.3,902.34 424.23,906.34 425.17,908.16 426.11,910.7 427.04,912.73 427.98,913.27 428.92,915.55 429.85,916.07 430.79,919.06 431.73,920.47 432.66,920.09 433.6,920.1 434.54,921.13 435.47,922.23 436.41,921.87 437.35,922.18 438.28,924.58 439.22,925.55 440.16,924.67 441.09,924.72 442.03,926.6 442.97,928.72 443.9,929.53 444.84,928.09 445.78,927.74 446.71,927.79 447.65,928.73 448.59,930.12 449.52,929.46 450.46,929.81 451.4,931.04 452.33,932 453.27,932.82 454.21,932.8 455.14,931.78 456.08,933.29 457.02,934.44 457.95,933.29 458.89,934.98 459.83,935.84 460.76,937.14 461.7,935.71 462.64,930.9 463.57,928.44 464.51,929.52 465.45,932.77 466.38,932.82 467.32,934.36 468.26,934.26 469.19,933.5 470.13,934.17 471.07,934.58 472,932.23 472.94,932.91 473.88,932.11 474.81,931.79 475.75,931.51 476.69,932.95 477.62,932.71 478.56,933.39 479.5,932.24 480.43,932.57 481.37,931.39 482.31,929.83 483.24,930.39 484.18,931.21 485.12,931.37 486.05,932.51 486.99,932.96 487.93,932.75 488.86,934.78 489.8,935.26 490.74,936.55 491.67,937.78 492.61,937.66 493.55,936.58 494.48,936.45 495.42,936.86 496.36,935.82 497.29,937.25 498.23,937.59 499.17,938.34 500.1,938.42" fill="none" stroke="#008000" stroke-width="0.35"/>
<path d="M310.64 938.58a1.2 1.2 0 1 0 2.39 0a1.2 1.2 0 1 0 -2.39 0ZM311.57 937.72a1.2 1.2 0 1 0 2.39 0a1.2 1.2 0 1 0 -2.39 0ZM312.51 937.16a1.2 1.2 0 1 0 2.39 0a1.2 1.2 0 1 0 -2.39 0ZM313.45 937.88a1.2 1.2 0 1 0 2.39 0a1.2 1.2 0 1 0 -2.39 0ZM314.38 936.73a1.2 1.2 0 1 0 2.39 0a1.2 1.2 0 1 0 -2.39 0ZM315.32 934.59a1.2 1.2 0 1 0 2.39 0a1.2 1.2 0 1 0 -2.39 0ZM316.26 935.01a1.2 1.2 0 1 0 2.39 0a1.2 1.2 0 1 0 -2.39 0ZM317.19 936.1a1.2 1.2 0 1 0 2.39 0a1.2 1.2 0 1 0 -2.39 0ZM318.13 937.43a1.2 1.2 0 1 0 2.39 0a1.2 1.2 0 1 0 -2.39 0ZM319.07 936.83a1.2 1.2 0 1 0 2.39 0a1.2 1.2 0 1 0 -2.39 0ZM320 936.08a1.2 1.2 0 1 0 2.39 0a1.2 1.2 0 1 0 -2.39 0ZM320.94 935a1.2 1.2 0 1 0 2.39 0a1.2 1.2 0 1 0 -2.39 0ZM321.88 936.22a1.2 1.2 0 1 0 2.39 0a1.2 1.2 0 1 0 -2.39 0ZM322.81 936.38a1.2 1.2 0 1 0 2.39 0a1.2 1.2 0 1 0 -2.39 0ZM323.75 937.07a1.2 1.2 0 1 0 2.39 0a1.2 1.2 0 1 0 -2.39 0ZM324.69 937.64a1.2 1.2 0 1 0 2.39 0a1.2 1.2 0 1 0 -2.39 0ZM325.62 938.16a1.2 1.2 0 1 0 2.39 0a1.2 1.2 0 1 0 -2.39 0ZM326.56 939.49a1.2 1.2 0 1 0 2.39 0a1.2 1.2 0 1 0 -2.39 0ZM327.5 938.77a1.2 1.2 0 1 0 2.39 0a1.2 1.2 0 1 0 -2.39 0ZM328.43 939.03a1.2 1.2 0 1 0 2.39 0a1.2 1.2 0 1 0 -2.39 0ZM329.37 938.45a1.2 1.2 0 1 0 2.39 0a1.2 1.2 0 1 0 -2.39 0ZM330.31 940.01a1.2 1.2 0 1 0 2.39 0a1.2 1.2 0 1 0 -2.39 0ZM331.24 940.65a1.2 1.2 0 1 0 2.39 0a1.2 1.2 0 1 0 -2.39 0ZM332.18 940.6a1.2 1.2 0 1 0 2.39 0a1.2 1.2 0 1 0 -2.39 0ZM333.12 938.18a1.2 1.2 0 1 0 2.39 0a1.2 1.2 0 1 0 -2.39 0ZM334.05 937.19a1.2 1.2 0 1 0 2.39 0a1.2 1.2 0 1 0 -2.39 0ZM334.99 937.04a1.2 1.2 0 1 0 2.39 0a1.2 1.2 0 1 0 -2.39 0ZM335.93 937.41a1.2 1.2 0 1 0 2.39 0a1.2 1.2 0 1 0 -2.39 0ZM336.86 935.16a1.2 1.2 0 1 0 2.39 0a1.2 1.2 0 1 0 -2.39 0ZM337.8 935.84a1.2 1.2 0 1 0 2.39 0a1.2 1.2 0 1 0 -2.39 0ZM338.74 936.23a1.2 1.2 0 1 0 2.39 0a1.2 1.2 0 1 0 -2.39 0ZM339.67 935.41a1.2 1.2 0 1 0 2.39 0a1.2 1.2 0 1 0 -2.39 0ZM340.61 934.15a1.2 1.2 0 1 0 2.39 0a1.2 1.2 0 1 0 -2.39 0ZM341.55 933.58a1.2 1.2 0 1 0 2.39 0a1.2 1.2 0 1 0 -2.39 0ZM342.48 934.75a1.2 1.2 0 1 0 2.39 0a1.2 1.2 0 1 0 -2.39 0ZM343.42 935.2a1.2 1.2 0 1 0 2.39 0a1.2 1.2 0 1 0 -2.39 0ZM344.36 935.04a1.2 1.2 0 1 0 2.39 0a1.2 1.2 0 1 0 -2.39 0ZM345.29 935.52a1.2 1.2 0 1 0 2.39 0a1.2 1.2 0 1 0 -2.39 0ZM346.23 935.21a1.2 1.2 0 1 0 2.39 0a1.2 1.2 0 1 0 -2.39 0ZM347.17 934.45a1.2 1.2 0 1 0 2.39 0a1.2 1.2 0 1 0 -2.39 0ZM348.1 935.4a1.2 1.2 0 1 0 2.39 0a1.2 1.2 0 1 0 -2.39 0ZM349.04 936.44a1.2 1.2 0 1 0 2.39 0a1.2 1.2 0 1 0 -2.39 0ZM349.98 936.04a1.2 1.2 0 1 0 2.39 0a1.2 1.2 0 1 0 -2.39 0ZM350.91 936.39a1.2 1.2 0 1 0 2.39 0a1.2 1.2 0 1 0 -2.39 0ZM351.85 935.01a1.2 1.2 0 1 0 2.39 0a1.2 1.2 0 1 0 -2.39 0ZM352.79 936.36a1.2 1.2 0 1 0 2.39 0a1.2 1.2 0 1 0 -2.39 0ZM353.72 937.61a1.2 1.2 0 1 0 2.39 0a1.2 1.2 0 1 0 -2.39 0ZM354.66 936.21a1.2 1.2 0 1 0 2.39 0a1.2 1.2 0 1 0 -2.39 0ZM355.6 935.99a1.2 1.2 0 1 0 2.39 0a1.2 1.2 0 1 0 -2.39 0ZM356.53 934.97a1.2 1.2 0 1 0 2.39 0a1.2 1.2 0 1 0 -2.39 0ZM357.47 933.86a1.2 1.2 0 1 0 2.39 0a1.2 1.2 0 1 0 -2.39 0ZM358.41 933.33a1.2 1.2 0 1 0 2.39 0a1.2 1.2 0 1 0 -2.39 0ZM359.34 933.7a1.2 1.2 0 1 0 2.39 0a1.2 1.2 0 1 0 -2.39 0ZM360.28 933.92a1.2 1.2 0 1 0 2.39 0a1.2 1.2 0 1 0 -2.39 0ZM361.22 932.41a1.2 1.2 0 1 0 2.39 0a1.2 1.2 0 1 0 -2.39 0ZM362.15 932.37a1.2 1.2 0 1 0 2.39 0a1.2 1.2 0 1 0 -2.39 0ZM363.09 931.54a1.2 1.2 0 1 0 2.39 0a1.2 1.2 0 1 0 -2.39 0ZM364.03 933.1a1.2 1.2 0 1 0 2.39 0a1.2 1.2 0 1 0 -2.39 0ZM364.96 932.62a1.2 1.2 0 1 0 2.39 0a1.2 1.2 0 1 0 -2.39 0ZM365.9 932.41a1.2 1.2 0 1 0 2.39 0a1.2 1.2 0 1 0 -2.39 0ZM366.84 933.48a1.2 1.2 0 1 0 2.39 0a1.2 1.2 0 1 0 -2.39 0ZM367.77 933.5a1.2 1.2 0 1 0 2.39 0a1.2 1.2 0 1 0 -2.39 0ZM368.71 932.26a1.2 1.2 0 1 0 2.39 0a1.2 1.2 0 1 0 -2.39 0ZM369.65 930.93a1.2 1.2 0 1 0 2.39 0a1.2 1.2 0 1 0 -2.39 0ZM370.58 930.15a1.2 1.2 0 1 0 2.39 0a1.2 1.2 0 1 0 -2.39 0ZM371.52 929.35a1.2 1.2 0 1 0 2.39 0a1.2 1.2 0 1 0 -2.39 0ZM372.46 929.19a1.2 1.2 0 1 0 2.39 0a1.2 1.2 0 1 0 -2.39 0ZM373.39 928.36a1.2 1.2 0 1 0 2.39 0a1.2 1.2 0 1 0 -2.39 0ZM374.33 928.18a1.2 1.2 0 1 0 2.39 0a1.2 1.2 0 1 0 -2.39 0ZM375.27 927.25a1.2 1.2 0 1 0 2.39 0a1.2 1.2 0 1 0 -2.39 0ZM376.2 927.36a1.2 1.2 0 1 0 2.39 0a1.2 1.2 0 1 0 -2.39 0ZM377.14 925.01a1.2 1.2 0 1 0 2.39 0a1.2 1.2 0 1 0 -2.39 0ZM378.08 925.66a1.2 1.2 0 1 0 2.39 0a1.2 1.2 0 1 0 -2.39 0ZM379.01 924.99a1.2 1.2 0 1 0 2.39 0a1.2 1.2 0 1 0 -2.39 0ZM379.95 923.29a1.2 1.2 0 1 0 2.39 0a1.2 1.2 0 1 0 -2.39 0ZM380.89 922.13a1.2 1.2 0 1 0 2.39 0a1.2 1.2 0 1 0 -2.39 0ZM381.82 921.16a1.2 1.2 0 1 0 2.39 0a1.2 1.2 0 1 0 -2.39 0ZM382.76 918.72a1.2 1.2 0 1 0 2.39 0a1.2 1.2 0 1 0 -2.39 0ZM383.7 915.75a1.2 1.2 0 1 0 2.39 0a1.2 1.2 0 1 0 -2.39 0ZM384.63 911.82a1.2 1.2 0 1 0 2.39 0a1.2 1.2 0 1 0 -2.39 0ZM385.57 909.92a1.2 1.2 0 1 0 2.39 0a1.2 1.2 0 1 0 -2.39 0ZM386.51 909.38a1.2 1.2 0 1 0 2.39 0a1.2 1.2 0 1 0 -2.39 0ZM387.44 906.39a1.2 1.2 0 1 0 2.39 0a1.2 1.2 0 1 0 -2.39 0ZM388.38 903.93a1.2 1.2 0 1 0 2.39 0a1.2 1.2 0 1 0 -2.39 0ZM389.32 900.38a1.2 1.2 0 1 0 2.39 0a1.2 1.2 0 1 0 -2.39 0ZM390.25 897.05a1.2 1.2 0 1 0 2.39 0a1.2 1.2 0 1 0 -2.39 0ZM391.19 892.79a1.2 1.2 0 1 0 2.39 0a1.2 1.2 0 1 0 -2.39 0ZM392.13 886.37a1.2 1.2 0 1 0 2.39 0a1.2 1.2 0 1 0 -2.39 0ZM393.06 879.85a1.2 1.2 0 1 0 2.39 0a1.2 1.2 0 1 0 -2.39 0ZM394 870.4a1.2 1.2 0 1 0 2.39 0a1.2 1.2 0 1 0 -2.39 0ZM394.94 861.14a1.2 1.2 0 1 0 2.39 0a1.2 1.2 0 1 0 -2.39 0ZM395.87 852.09a1.2 1.2 0 1 0 2.39 0a1.2 1.2 0 1 0 -2.39 0ZM396.81 844.47a1.2 1.2 0 1 0 2.39 0a1.2 1.2 0 1 0 -2.39 0ZM397.75 833.02a1.2 1.2 0 1 0 2.39 0a1.2 1.2 0 1 0 -2.39 0ZM398.68 821.91a1.2 1.2 0 1 0 2.39 0a1.2 1.2 0 1 0 -2.39 0ZM399.62 812.24a1.2 1.2 0 1 0 2.39 0a1.2 1.2 0 1 0 -2.39 0ZM400.56 802.05a1.2 1.2 0 1 0 2.39 0a1.2 1.2 0 1 0 -2.39 0ZM401.49 794.33a1.2 1.2 0 1 0 2.39 0a1.2 1.2 0 1 0 -2.39 0ZM402.43 783.33a1.2 1.2 0 1 0 2.39 0a1.2 1.2 0 1 0 -2.39 0ZM403.37 777.44a1.2 1.2 0 1 0 2.39 0a1.2 1.2 0 1 0 -2.39 0ZM404.3 773.61a1.2 1.2 0 1 0 2.39 0a1.2 1.2 0 1 0 -2.39 0ZM405.24 774.68a1.2 1.2 0 1 0 2.39 0a1.2 1.2 0 1 0 -2.39 0ZM406.18 776.57a1.2 1.2 0 1 0 2.39 0a1.2 1.2 0 1 0 -2.39 0ZM407.11 783.37a1.2 1.2 0 1 0 2.39 0a1.2 1.2 0 1 0 -2.39 0ZM408.05 792.55a1.2 1.2 0 1 0 2.39 0a1.2 1.2 0 1 0 -2.39 0ZM408.99 803.81a1.2 1.2 0 1 0 2.39 0a1.2 1.2 0 1 0 -2.39 0ZM409.92 813.14a1.2 1.2 0 1 0 2.39 0a1.2 1.2 0 1 0 -2.39 0ZM410.86 821.08a1.2 1.2 0 1 0 2.39 0a1.2 1.2 0 1 0 -2.39 0ZM411.8 832.41a1.2 1.2 0 1 0 2.39 0a1.2 1.2 0 1 0 -2.39 0ZM412.73 842.27a1.2 1.2 0 1 0 2.39 0a1.2 1.2 0 1 0 -2.39 0ZM413.67 851.65a1.2 1.2 0 1 0 2.39 0a1.2 1.2 0 1 0 -2.39 0ZM414.61 860.83a1.2 1.2 0 1 0 2.39 0a1.2 1.2 0 1 0 -2.39 0ZM415.54 868.54a1.2 1.2 0 1 0 2.39 0a1.2 1.2 0 1 0 -2.39 0ZM416.48 875.38a1.2 1.2 0 1 0 2.39 0a1.2 1.2 0 1 0 -2.39 0ZM417.42 882.07a1.2 1.2 0 1 0 2.39 0a1.2 1.2 0 1 0 -2.39 0ZM418.35 887.19a1.2 1.2 0 1 0 2.39 0a1.2 1.2 0 1 0 -2.39 0ZM419.29 890.44a1.2 1.2 0 1 0 2.39 0a1.2 1.2 0 1 0 -2.39 0ZM420.23 895.17a1.2 1.2 0 1 0 2.39 0a1.2 1.2 0 1 0 -2.39 0ZM421.16 899.11a1.2 1.2 0 1 0 2.39 0a1.2 1.2 0 1 0 -2.39 0ZM422.1 902.34a1.2 1.2 0 1 0 2.39 0a1.2 1.2 0 1 0 -2.39 0ZM423.04 906.34a1.2 1.2 0 1 0 2.39 0a1.2 1.2 0 1 0 -2.39 0ZM423.97 908.16a1.2 1.2 0 1 0 2.39 0a1.2 1.2 0 1 0 -2.39 0ZM424.91 910.7a1.2 1.2 0 1 0 2.39 0a1.2 1.2 0 1 0 -2.39 0ZM425.85 912.73a1.2 1.2 0 1 0 2.39 0a1.2 1.2 0 1 0 -2.39 0ZM426.78 913.27a1.2 1.2 0 1 0 2.39 0a1.2 1.2 0 1 0 -2.39 0ZM427.72 915.55a1.2 1.2 0 1 0 2.39 0a1.2 1.2 0 1 0 -2.39 0ZM428.66 916.07a1.2 1.2 0 1 0 2.39 0a1.2 1.2 0 1 0 -2.39 0ZM429.59 919.06a1.2 1.2 0 1 0 2.39 0a1.2 1.2 0 1 0 -2.39 0ZM430.53 920.47a1.2 1.2 0 1 0 2.39 0a1.2 1.2 0 1 0 -2.39 0ZM431.47 920.09a1.2 1.2 0 1 0 2.39 0a1.2 1.2 0 1 0 -2.39 0ZM432.4 920.1a1.2 1.2 0 1 0 2.39 0a1.2 1.2 0 1 0 -2.39 0ZM433.34 921.13a1.2 1.2 0 1 0 2.39 0a1.2 1.2 0 1 0 -2.39 0ZM434.28 922.23a1.2 1.2 0 1 0 2.39 0a1.2 1.2 0 1 0 -2.39 0ZM435.21 921.87a1.2 1.2 0 1 0 2.39 0a1.2 1.2 0 1 0 -2.39 0ZM436.15 922.18a1.2 1.2 0 1 0 2.39 0a1.2 1.2 0 1 0 -2.39 0ZM437.09 924.58a1.2 1.2 0 1 0 2.39 0a1.2 1.2 0 1 0 -2.39 0ZM438.02 925.55a1.2 1.2 0 1 0 2.39 0a1.2 1.2 0 1 0 -2.39 0ZM438.96 924.67a1.2 1.2 0 1 0 2.39 0a1.2 1.2 0 1 0 -2.39 0ZM439.9 924.72a1.2 1.2 0 1 0 2.39 0a1.2 1.2 0 1 0 -2.39 0ZM440.83 926.6a1.2 1.2 0 1 0 2.39 0a1.2 1.2 0 1 0 -2.39 0ZM441.77 928.72a1.2 1.2 0 1 0 2.39 0a1.2 1.2 0 1 0 -2.39 0ZM442.71 929.53a1.2 1.2 0 1 0 2.39 0a1.2 1.2 0 1 0 -2.39 0ZM443.64 928.09a1.2 1.2 0 1 0 2.39 0a1.2 1.2 0 1 0 -2.39 0ZM444.58 927.74a1.2 1.2 0 1 0 2.39 0a1.2 1.2 0 1 0 -2.39 0ZM445.52 927.79a1.2 1.2 0 1 0 2.39 0a1.2 1.2 0 1 0 -2.39 0ZM446.45 928.73a1.2 1.2 0 1 0 2.39 0a1.2 1.2 0 1 0 -2.39 0ZM447.39 930.12a1.2 1.2 0 1 0 2.39 0a1.2 1.2 0 1 0 -2.39 0ZM448.33 929.46a1.2 1.2 0 1 0 2.39 0a1.2 1.2 0 1 0 -2.39 0ZM449.26 929.81a1.2 1.2 0 1 0 2.39 0a1.2 1.2 0 1 0 -2.39 0ZM450.2 931.04a1.2 1.2 0 1 0 2.39 0a1.2 1.2 0 1 0 -2.39 0ZM451.14 932a1.2 1.2 0 1 0 2.39 0a1.2 1.2 0 1 0 -2.39 0ZM452.07 932.82a1.2 1.2 0 1 0 2.39 0a1.2 1.2 0 1 0 -2.39 0ZM453.01 932.8a1.2 1.2 0 1 0 2.39 0a1.2 1.2 0 1 0 -2.39 0ZM453.95 931.78a1.2 1.2 0 1 0 2.39 0a1.2 1.2 0 1 0 -2.39 0ZM454.88 933.29a1.2 1.2 0 1 0 2.39 0a1.2 1.2 0 1 0 -2.39 0ZM455.82 934.44a1.2 1.2 0 1 0 2.39 0a1.2 1.2 0 1 0 -2.39 0ZM456.76 933.29a1.2 1.2 0 1 0 2.39 0a1.2 1.2 0 1 0 -2.39 0ZM457.69 934.98a1.2 1.2 0 1 0 2.39 0a1.2 1.2 0 1 0 -2.39 0ZM458.63 935.84a1.2 1.2 0 1 0 2.39 0a1.2 1.2 0 1 0 -2.39 0ZM459.57 937.14a1.2 1.2 0 1 0 2.39 0a1.2 1.2 0 1 0 -2.39 0ZM460.5 935.71a1.2 1.2 0 1 0 2.39 0a1.2 1.2 0 1 0 -2.39 0ZM461.44 930.9a1.2 1.2 0 1 0 2.39 0a1.2 1.2 0 1 0 -2.39 0ZM462.38 928.44a1.2 1.2 0 1 0 2.39 0a1.2 1.2 0 1 0 -2.39 0ZM463.31 929.52a1.2 1.2 0 1 0 2.39 0a1.2 1.2 0 1 0 -2.39 0ZM464.25 932.77a1.2 1.2 0 1 0 2.39 0a1.2 1.2 0 1 0 -2.39 0ZM465.19 932.82a1.2 1.2 0 1 0 2.39 0a1.2 1.2 0 1 0 -2.39 0ZM466.12 934.36a1.2 1.2 0 1 0 2.39 0a1.2 1.2 0 1 0 -2.39 0ZM467.06 934.26a1.2 1.2 0 1 0 2.39 0a1.2 1.2 0 1 0 -2.39 0ZM468 933.5a1.2 1.2 0 1 0 2.39 0a1.2 1.2 0 1 0 -2.39 0ZM468.93 934.17a1.2 1.2 0 1 0 2.39 0a1.2 1.2 0 1 0 -2.39 0ZM469.87 934.58a1.2 1.2 0 1 0 2.39 0a1.2 1.2 0 1 0 -2.39 0ZM470.81 932.23a1.2 1.2 0 1 0 2.39 0a1.2 1.2 0 1 0 -2.39 0ZM471.74 932.91a1.2 1.2 0 1 0 2.39 0a1.2 1.2 0 1 0 -2.39 0ZM472.68 932.11a1.2 1.2 0 1 0 2.39 0a1.2 1.2 0 1 0 -2.39 0ZM473.62 931.79a1.2 1.2 0 1 0 2.39 0a1.2 1.2 0 1 0 -2.39 0ZM474.55 931.51a1.2 1.2 0 1 0 2.39 0a1.2 1.2 0 1 0 -2.39 0ZM475.49 932.95a1.2 1.2 0 1 0 2.39 0a1.2 1.2 0 1 0 -2.39 0ZM476.43 932.71a1.2 1.2 0 1 0 2.39 0a1.2 1.2 0 1 0 -2.39 0ZM477.36 933.39a1.2 1.2 0 1 0 2.39 0a1.2 1.2 0 1 0 -2.39 0ZM478.3 932.24a1.2 1.2 0 1 0 2.39 0a1.2 1.2 0 1 0 -2.39 0ZM479.24 932.57a1.2 1.2 0 1 0 2.39 0a1.2 1.2 0 1 0 -2.39 0ZM480.17 931.39a1.2 1.2 0 1 0 2.39 0a1.2 1.2 0 1 0 -2.39 0ZM481.11 929.83a1.2 1.2 0 1 0 2.39 0a1.2 1.2 0 1 0 -2.39 0ZM482.05 930.39a1.2 1.2 0 1 0 2.39 0a1.2 1.2 0 1 0 -2.39 0ZM482.98 931.21a1.2 1.2 0 1 0 2.39 0a1.2 1.2 0 1 0 -2.39 0ZM483.92 931.37a1.2 1.2 0 1 0 2.39 0a1.2 1.2 0 1 0 -2.39 0ZM484.86 932.51a1.2 1.2 0 1 0 2.39 0a1.2 1.2 0 1 0 -2.39 0ZM485.79 932.96a1.2 1.2 0 1 0 2.39 0a1.2 1.2 0 1 0 -2.39 0ZM486.73 932.75a1.2 1.2 0 1 0 2.39 0a1.2 1.2 0 1 0 -2.39 0ZM487.67 934.78a1.2 1.2 0 1 0 2.39 0a1.2 1.2 0 1 0 -2.39 0ZM488.6 935.26a1.2 1.2 0 1 0 2.39 0a1.2 1.2 0 1 0 -2.39 0ZM489.54 936.55a1.2 1.2 0 1 0 2.39 0a1.2 1.2 0 1 0 -2.39 0ZM490.48 937.78a1.2 1.2 0 1 0 2.39 0a1.2 1.2 0 1 0 -2.39 0ZM491.41 937.66a1.2 1.2 0 1 0 2.39 0a1.2 1.2 0 1 0 -2.39 0ZM492.35 936.58a1.2 1.2 0 1 0 2.39 0a1.2 1.2 0 1 0 -2.39 0ZM493.29 936.45a1.2 1.2 0 1 0 2.39 0a1.2 1.2 0 1 0 -2.39 0ZM494.22 936.86a1.2 1.2 0 1 0 2.39 0a1.2 1.2 0 1 0 -2.39 0ZM495.16 935.82a1.2 1.2 0 1 0 2.39 0a1.2 1.2 0 1 0 -2.39 0ZM496.1 937.25a1.2 1.2 0 1 0 2.39 0a1.2 1.2 0 1 0 -2.39 0ZM497.03 937.59a1.2 1.2 0 1 0 2.39 0a1.2 1.2 0 1 0 -2.39 0ZM497.97 938.34a1.2 1.2 0 1 0 2.39 0a1.2 1.2 0 1 0 -2.39 0ZM498.91 938.42a1.2 1.2 0 1 0 2.39 0a1.2 1.2 0 1 0 -2.39 0Z" fill="#008000"/>
<rect x="293.1" y="763.15" width="224.8" height="180.9" fill="none" stroke="#1a1a1a" stroke-width="1.1"/>
<path d="M311.83 944.05v-3.3 M311.83 763.15v3.3 M349.3 944.05v-3.3 M349.3 763.15v3.3 M386.77 944.05v-3.3 M386.77 763.15v3.3 M424.23 944.05v-3.3 M424.23 763.15v3.3 M461.7 944.05v-3.3 M461.7 763.15v3.3 M499.17 944.05v-3.3 M499.17 763.15v3.3 M330.57 944.05v-1.9 M330.57 763.15v1.9 M368.03 944.05v-1.9 M368.03 763.15v1.9 M405.5 944.05v-1.9 M405.5 763.15v1.9 M442.97 944.05v-1.9 M442.97 763.15v1.9 M480.43 944.05v-1.9 M480.43 763.15v1.9 M293.1 938.21h3.3 M517.9 938.21h-3.3 M293.1 926.54h3.3 M517.9 926.54h-3.3 M293.1 914.87h3.3 M517.9 914.87h-3.3 M293.1 903.2h3.3 M517.9 903.2h-3.3 M293.1 891.53h3.3 M517.9 891.53h-3.3 M293.1 879.86h3.3 M517.9 879.86h-3.3 M293.1 868.19h3.3 M517.9 868.19h-3.3 M293.1 856.52h3.3 M517.9 856.52h-3.3 M293.1 844.85h3.3 M517.9 844.85h-3.3 M293.1 833.18h3.3 M517.9 833.18h-3.3 M293.1 821.5h3.3 M517.9 821.5h-3.3 M293.1 809.83h3.3 M517.9 809.83h-3.3 M293.1 798.16h3.3 M517.9 798.16h-3.3 M293.1 786.49h3.3 M517.9 786.49h-3.3 M293.1 774.82h3.3 M517.9 774.82h-3.3 M293.1 763.15h3.3 M517.9 763.15h-3.3 M293.1 932.38h1.9 M517.9 932.38h-1.9 M293.1 920.71h1.9 M517.9 920.71h-1.9 M293.1 909.04h1.9 M517.9 909.04h-1.9 M293.1 897.37h1.9 M517.9 897.37h-1.9 M293.1 885.7h1.9 M517.9 885.7h-1.9 M293.1 874.02h1.9 M517.9 874.02h-1.9 M293.1 862.35h1.9 M517.9 862.35h-1.9 M293.1 850.68h1.9 M517.9 850.68h-1.9 M293.1 839.01h1.9 M517.9 839.01h-1.9 M293.1 827.34h1.9 M517.9 827.34h-1.9 M293.1 815.67h1.9 M517.9 815.67h-1.9 M293.1 804h1.9 M517.9 804h-1.9 M293.1 792.33h1.9 M517.9 792.33h-1.9 M293.1 780.66h1.9 M517.9 780.66h-1.9 M293.1 768.99h1.9 M517.9 768.99h-1.9" stroke="#111" stroke-width="0.8" fill="none"/>
<text x="311.83" y="952.2" class="t" text-anchor="middle">19000</text>
<text x="349.3" y="952.2" class="t" text-anchor="middle">20000</text>
<text x="386.77" y="952.2" class="t" text-anchor="middle">21000</text>
<text x="424.23" y="952.2" class="t" text-anchor="middle">22000</text>
<text x="461.7" y="952.2" class="t" text-anchor="middle">23000</text>
<text x="499.17" y="952.2" class="t" text-anchor="middle">24000</text>
<text x="289.7" y="940.31" class="t" text-anchor="end">0.0</text>
<text x="289.7" y="928.64" class="t" text-anchor="end">0.1</text>
<text x="289.7" y="916.97" class="t" text-anchor="end">0.2</text>
<text x="289.7" y="905.3" class="t" text-anchor="end">0.3</text>
<text x="289.7" y="893.63" class="t" text-anchor="end">0.4</text>
<text x="289.7" y="881.96" class="t" text-anchor="end">0.5</text>
<text x="289.7" y="870.29" class="t" text-anchor="end">0.6</text>
<text x="289.7" y="858.62" class="t" text-anchor="end">0.7</text>
<text x="289.7" y="846.95" class="t" text-anchor="end">0.8</text>
<text x="289.7" y="835.28" class="t" text-anchor="end">0.9</text>
<text x="289.7" y="823.6" class="t" text-anchor="end">1.0</text>
<text x="289.7" y="811.93" class="t" text-anchor="end">1.1</text>
<text x="289.7" y="800.26" class="t" text-anchor="end">1.2</text>
<text x="289.7" y="788.59" class="t" text-anchor="end">1.3</text>
<text x="289.7" y="776.92" class="t" text-anchor="end">1.4</text>
<text x="289.7" y="765.25" class="t" text-anchor="end">1.5</text>
<text x="405.5" y="963.8" class="a" text-anchor="middle">Frequency (Hz)</text>
<text transform="translate(275.8 858.5) rotate(-90)" class="a" text-anchor="middle">Scaled Absorption (Arbitrary units)</text>
<text x="491.2" y="794.5" class="l" text-anchor="middle">(d)</text>
<rect x="314.2" y="796.2" width="64.4" height="34.4" fill="#fff" stroke="#808080" stroke-width="0.7"/>
<path d="M317.3 801.5H332.3" stroke="#ff0000" stroke-width="0.4"/>
<path d="M324.7 799.12L327.2 803.5L322.2 803.5Z" fill="#ff0000"/>
<text x="334.2" y="803.8" class="g">Vexc= 1.0 Vpp</text>
<path d="M317.3 810H332.3" stroke="#0000ff" stroke-width="0.4"/>
<path d="M322.57 807.88h4.25v4.25h-4.25Z" fill="#0000ff"/>
<text x="334.2" y="812.3" class="g">Vexc= 0.8 Vpp</text>
<path d="M317.3 818.3H332.3" stroke="#ff8000" stroke-width="0.4"/>
<path d="M322.57 816.17h4.25v4.25h-4.25Z" fill="#ff8000"/>
<text x="334.2" y="820.6" class="g">Vexc= 0.5 Vpp</text>
<path d="M317.3 826.8H332.3" stroke="#008000" stroke-width="0.4"/>
<path d="M322.4 826.8a2.3 2.3 0 1 0 4.6 0a2.3 2.3 0 1 0 -4.6 0Z" fill="#008000"/>
<text x="334.2" y="829.1" class="g">Vexc= 0.3 Vpp</text>
</svg>
</body></html>
